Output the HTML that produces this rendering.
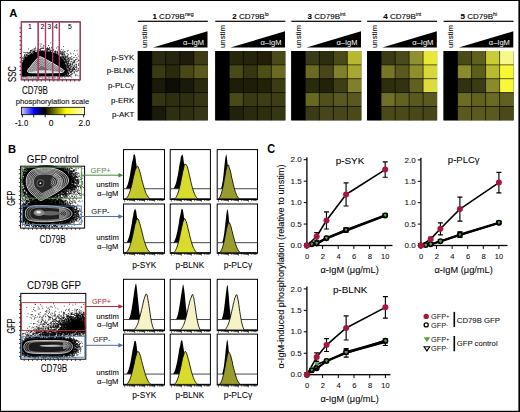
<!DOCTYPE html>
<html><head><meta charset="utf-8"><style>
html,body{margin:0;padding:0;background:#fff;}
body{width:520px;height:412px;overflow:hidden;}
svg{display:block;font-family:"Liberation Sans", sans-serif;}
</style></head><body>
<svg width="520" height="412" viewBox="0 0 520 412">
<rect x="0" y="0" width="520" height="1" fill="#000"/>
<rect x="0" y="0" width="1" height="412" fill="#000"/>
<rect x="518.4" y="0" width="1.6" height="412" fill="#000"/>
<rect x="0" y="410.8" width="520" height="1.2" fill="#000"/>
<text x="9.2" y="16.9" font-size="11.2" font-weight="bold" fill="#000">A</text>
<rect x="137.8" y="51.0" width="70.0" height="69.30" fill="#000"/>
<rect x="137.80" y="51.00" width="14.05" height="13.91" fill="#000"/>
<rect x="151.80" y="51.00" width="14.05" height="13.91" fill="#2a2a10"/>
<rect x="165.80" y="51.00" width="14.05" height="13.91" fill="#262610"/>
<rect x="179.80" y="51.00" width="14.05" height="13.91" fill="#1e1c0c"/>
<rect x="193.80" y="51.00" width="14.05" height="13.91" fill="#3e3c14"/>
<rect x="137.80" y="64.86" width="14.05" height="13.91" fill="#000"/>
<rect x="151.80" y="64.86" width="14.05" height="13.91" fill="#3a3a12"/>
<rect x="165.80" y="64.86" width="14.05" height="13.91" fill="#2a2a0e"/>
<rect x="179.80" y="64.86" width="14.05" height="13.91" fill="#484818"/>
<rect x="193.80" y="64.86" width="14.05" height="13.91" fill="#5a5a1e"/>
<rect x="137.80" y="78.72" width="14.05" height="13.91" fill="#000"/>
<rect x="151.80" y="78.72" width="14.05" height="13.91" fill="#1a1a0a"/>
<rect x="165.80" y="78.72" width="14.05" height="13.91" fill="#0e0e06"/>
<rect x="179.80" y="78.72" width="14.05" height="13.91" fill="#1a1a0a"/>
<rect x="193.80" y="78.72" width="14.05" height="13.91" fill="#2a2a0e"/>
<rect x="137.80" y="92.58" width="14.05" height="13.91" fill="#000"/>
<rect x="151.80" y="92.58" width="14.05" height="13.91" fill="#353512"/>
<rect x="165.80" y="92.58" width="14.05" height="13.91" fill="#2e2e10"/>
<rect x="179.80" y="92.58" width="14.05" height="13.91" fill="#2e2e10"/>
<rect x="193.80" y="92.58" width="14.05" height="13.91" fill="#363614"/>
<rect x="137.80" y="106.44" width="14.05" height="13.91" fill="#000"/>
<rect x="151.80" y="106.44" width="14.05" height="13.91" fill="#1a1a0a"/>
<rect x="165.80" y="106.44" width="14.05" height="13.91" fill="#2e2e10"/>
<rect x="179.80" y="106.44" width="14.05" height="13.91" fill="#2e2e10"/>
<rect x="193.80" y="106.44" width="14.05" height="13.91" fill="#363614"/>
<line x1="151.80" y1="51.0" x2="151.80" y2="120.3" stroke="#000" stroke-opacity="0.7" stroke-width="0.8"/>
<line x1="165.80" y1="51.0" x2="165.80" y2="120.3" stroke="#000" stroke-opacity="0.7" stroke-width="0.8"/>
<line x1="179.80" y1="51.0" x2="179.80" y2="120.3" stroke="#000" stroke-opacity="0.7" stroke-width="0.8"/>
<line x1="193.80" y1="51.0" x2="193.80" y2="120.3" stroke="#000" stroke-opacity="0.7" stroke-width="0.8"/>
<line x1="137.8" y1="64.86" x2="207.8" y2="64.86" stroke="#000" stroke-opacity="0.7" stroke-width="0.8"/>
<line x1="137.8" y1="78.72" x2="207.8" y2="78.72" stroke="#000" stroke-opacity="0.7" stroke-width="0.8"/>
<line x1="137.8" y1="92.58" x2="207.8" y2="92.58" stroke="#000" stroke-opacity="0.7" stroke-width="0.8"/>
<line x1="137.8" y1="106.44" x2="207.8" y2="106.44" stroke="#000" stroke-opacity="0.7" stroke-width="0.8"/>
<rect x="137.8" y="20.7" width="70.0" height="1.2" fill="#000"/>
<text x="173.0" y="18.8" font-size="8" text-anchor="middle" stroke="#000" stroke-width="0.1"><tspan font-weight="bold">1</tspan> CD79B<tspan font-size="5.2" dy="-3.2">neg</tspan></text>
<text transform="translate(147.3,48.0) rotate(-90)" font-size="7.8" text-anchor="start" fill="#000" stroke="#000" stroke-width="0.08" textLength="23" lengthAdjust="spacingAndGlyphs">unstim</text>
<polygon points="153.0,47.5 207.5,31.3 207.5,47.5" fill="#000"/>
<text x="204.0" y="45" font-size="7.8" text-anchor="end" fill="#fff" textLength="21" lengthAdjust="spacingAndGlyphs">α–IgM</text>
<rect x="215.3" y="51.0" width="70.0" height="69.30" fill="#000"/>
<rect x="215.30" y="51.00" width="14.05" height="13.91" fill="#000"/>
<rect x="229.30" y="51.00" width="14.05" height="13.91" fill="#262608"/>
<rect x="243.30" y="51.00" width="14.05" height="13.91" fill="#24240a"/>
<rect x="257.30" y="51.00" width="14.05" height="13.91" fill="#221e08"/>
<rect x="271.30" y="51.00" width="14.05" height="13.91" fill="#4a4a18"/>
<rect x="215.30" y="64.86" width="14.05" height="13.91" fill="#000"/>
<rect x="229.30" y="64.86" width="14.05" height="13.91" fill="#4a4a16"/>
<rect x="243.30" y="64.86" width="14.05" height="13.91" fill="#363610"/>
<rect x="257.30" y="64.86" width="14.05" height="13.91" fill="#4e4e18"/>
<rect x="271.30" y="64.86" width="14.05" height="13.91" fill="#6a6a20"/>
<rect x="215.30" y="78.72" width="14.05" height="13.91" fill="#000"/>
<rect x="229.30" y="78.72" width="14.05" height="13.91" fill="#1e1e08"/>
<rect x="243.30" y="78.72" width="14.05" height="13.91" fill="#1e1e08"/>
<rect x="257.30" y="78.72" width="14.05" height="13.91" fill="#222208"/>
<rect x="271.30" y="78.72" width="14.05" height="13.91" fill="#3c3c12"/>
<rect x="215.30" y="92.58" width="14.05" height="13.91" fill="#000"/>
<rect x="229.30" y="92.58" width="14.05" height="13.91" fill="#4a4a16"/>
<rect x="243.30" y="92.58" width="14.05" height="13.91" fill="#3a3a12"/>
<rect x="257.30" y="92.58" width="14.05" height="13.91" fill="#3e3e14"/>
<rect x="271.30" y="92.58" width="14.05" height="13.91" fill="#3e3e14"/>
<rect x="215.30" y="106.44" width="14.05" height="13.91" fill="#000"/>
<rect x="229.30" y="106.44" width="14.05" height="13.91" fill="#222208"/>
<rect x="243.30" y="106.44" width="14.05" height="13.91" fill="#2a2a0c"/>
<rect x="257.30" y="106.44" width="14.05" height="13.91" fill="#2e2e0e"/>
<rect x="271.30" y="106.44" width="14.05" height="13.91" fill="#363612"/>
<line x1="229.30" y1="51.0" x2="229.30" y2="120.3" stroke="#000" stroke-opacity="0.7" stroke-width="0.8"/>
<line x1="243.30" y1="51.0" x2="243.30" y2="120.3" stroke="#000" stroke-opacity="0.7" stroke-width="0.8"/>
<line x1="257.30" y1="51.0" x2="257.30" y2="120.3" stroke="#000" stroke-opacity="0.7" stroke-width="0.8"/>
<line x1="271.30" y1="51.0" x2="271.30" y2="120.3" stroke="#000" stroke-opacity="0.7" stroke-width="0.8"/>
<line x1="215.3" y1="64.86" x2="285.3" y2="64.86" stroke="#000" stroke-opacity="0.7" stroke-width="0.8"/>
<line x1="215.3" y1="78.72" x2="285.3" y2="78.72" stroke="#000" stroke-opacity="0.7" stroke-width="0.8"/>
<line x1="215.3" y1="92.58" x2="285.3" y2="92.58" stroke="#000" stroke-opacity="0.7" stroke-width="0.8"/>
<line x1="215.3" y1="106.44" x2="285.3" y2="106.44" stroke="#000" stroke-opacity="0.7" stroke-width="0.8"/>
<rect x="215.3" y="20.7" width="70.0" height="1.2" fill="#000"/>
<text x="250.5" y="18.8" font-size="8" text-anchor="middle" stroke="#000" stroke-width="0.1"><tspan font-weight="bold">2</tspan> CD79B<tspan font-size="5.2" dy="-3.2">lo</tspan></text>
<text transform="translate(224.8,48.0) rotate(-90)" font-size="7.8" text-anchor="start" fill="#000" stroke="#000" stroke-width="0.08" textLength="23" lengthAdjust="spacingAndGlyphs">unstim</text>
<polygon points="230.5,47.5 285.0,31.3 285.0,47.5" fill="#000"/>
<text x="281.5" y="45" font-size="7.8" text-anchor="end" fill="#fff" textLength="21" lengthAdjust="spacingAndGlyphs">α–IgM</text>
<rect x="291.3" y="51.0" width="70.0" height="69.30" fill="#000"/>
<rect x="291.30" y="51.00" width="14.05" height="13.91" fill="#000"/>
<rect x="305.30" y="51.00" width="14.05" height="13.91" fill="#3a3a14"/>
<rect x="319.30" y="51.00" width="14.05" height="13.91" fill="#2e2e0e"/>
<rect x="333.30" y="51.00" width="14.05" height="13.91" fill="#4a4a18"/>
<rect x="347.30" y="51.00" width="14.05" height="13.91" fill="#b8b830"/>
<rect x="291.30" y="64.86" width="14.05" height="13.91" fill="#000"/>
<rect x="305.30" y="64.86" width="14.05" height="13.91" fill="#6a6a22"/>
<rect x="319.30" y="64.86" width="14.05" height="13.91" fill="#46461a"/>
<rect x="333.30" y="64.86" width="14.05" height="13.91" fill="#80802a"/>
<rect x="347.30" y="64.86" width="14.05" height="13.91" fill="#a8a830"/>
<rect x="291.30" y="78.72" width="14.05" height="13.91" fill="#000"/>
<rect x="305.30" y="78.72" width="14.05" height="13.91" fill="#2a2a0c"/>
<rect x="319.30" y="78.72" width="14.05" height="13.91" fill="#222208"/>
<rect x="333.30" y="78.72" width="14.05" height="13.91" fill="#3e3e14"/>
<rect x="347.30" y="78.72" width="14.05" height="13.91" fill="#80802a"/>
<rect x="291.30" y="92.58" width="14.05" height="13.91" fill="#000"/>
<rect x="305.30" y="92.58" width="14.05" height="13.91" fill="#68681e"/>
<rect x="319.30" y="92.58" width="14.05" height="13.91" fill="#50501a"/>
<rect x="333.30" y="92.58" width="14.05" height="13.91" fill="#585820"/>
<rect x="347.30" y="92.58" width="14.05" height="13.91" fill="#585820"/>
<rect x="291.30" y="106.44" width="14.05" height="13.91" fill="#000"/>
<rect x="305.30" y="106.44" width="14.05" height="13.91" fill="#3a3a14"/>
<rect x="319.30" y="106.44" width="14.05" height="13.91" fill="#46461a"/>
<rect x="333.30" y="106.44" width="14.05" height="13.91" fill="#46461a"/>
<rect x="347.30" y="106.44" width="14.05" height="13.91" fill="#4a4a18"/>
<line x1="305.30" y1="51.0" x2="305.30" y2="120.3" stroke="#000" stroke-opacity="0.7" stroke-width="0.8"/>
<line x1="319.30" y1="51.0" x2="319.30" y2="120.3" stroke="#000" stroke-opacity="0.7" stroke-width="0.8"/>
<line x1="333.30" y1="51.0" x2="333.30" y2="120.3" stroke="#000" stroke-opacity="0.7" stroke-width="0.8"/>
<line x1="347.30" y1="51.0" x2="347.30" y2="120.3" stroke="#000" stroke-opacity="0.7" stroke-width="0.8"/>
<line x1="291.3" y1="64.86" x2="361.3" y2="64.86" stroke="#000" stroke-opacity="0.7" stroke-width="0.8"/>
<line x1="291.3" y1="78.72" x2="361.3" y2="78.72" stroke="#000" stroke-opacity="0.7" stroke-width="0.8"/>
<line x1="291.3" y1="92.58" x2="361.3" y2="92.58" stroke="#000" stroke-opacity="0.7" stroke-width="0.8"/>
<line x1="291.3" y1="106.44" x2="361.3" y2="106.44" stroke="#000" stroke-opacity="0.7" stroke-width="0.8"/>
<rect x="291.3" y="20.7" width="70.0" height="1.2" fill="#000"/>
<text x="326.5" y="18.8" font-size="8" text-anchor="middle" stroke="#000" stroke-width="0.1"><tspan font-weight="bold">3</tspan> CD79B<tspan font-size="5.2" dy="-3.2">int</tspan></text>
<text transform="translate(300.8,48.0) rotate(-90)" font-size="7.8" text-anchor="start" fill="#000" stroke="#000" stroke-width="0.08" textLength="23" lengthAdjust="spacingAndGlyphs">unstim</text>
<polygon points="306.5,47.5 361.0,31.3 361.0,47.5" fill="#000"/>
<text x="357.5" y="45" font-size="7.8" text-anchor="end" fill="#fff" textLength="21" lengthAdjust="spacingAndGlyphs">α–IgM</text>
<rect x="367.1" y="51.0" width="70.0" height="69.30" fill="#000"/>
<rect x="367.10" y="51.00" width="14.05" height="13.91" fill="#000"/>
<rect x="381.10" y="51.00" width="14.05" height="13.91" fill="#3a3a14"/>
<rect x="395.10" y="51.00" width="14.05" height="13.91" fill="#4a4a1a"/>
<rect x="409.10" y="51.00" width="14.05" height="13.91" fill="#909030"/>
<rect x="423.10" y="51.00" width="14.05" height="13.91" fill="#e8e838"/>
<rect x="367.10" y="64.86" width="14.05" height="13.91" fill="#000"/>
<rect x="381.10" y="64.86" width="14.05" height="13.91" fill="#767628"/>
<rect x="395.10" y="64.86" width="14.05" height="13.91" fill="#5a5a1e"/>
<rect x="409.10" y="64.86" width="14.05" height="13.91" fill="#8e8e2e"/>
<rect x="423.10" y="64.86" width="14.05" height="13.91" fill="#d8d838"/>
<rect x="367.10" y="78.72" width="14.05" height="13.91" fill="#000"/>
<rect x="381.10" y="78.72" width="14.05" height="13.91" fill="#2e2e0e"/>
<rect x="395.10" y="78.72" width="14.05" height="13.91" fill="#323210"/>
<rect x="409.10" y="78.72" width="14.05" height="13.91" fill="#606020"/>
<rect x="423.10" y="78.72" width="14.05" height="13.91" fill="#dcdc3c"/>
<rect x="367.10" y="92.58" width="14.05" height="13.91" fill="#000"/>
<rect x="381.10" y="92.58" width="14.05" height="13.91" fill="#70702a"/>
<rect x="395.10" y="92.58" width="14.05" height="13.91" fill="#62621f"/>
<rect x="409.10" y="92.58" width="14.05" height="13.91" fill="#5a5a1e"/>
<rect x="423.10" y="92.58" width="14.05" height="13.91" fill="#5a5a1e"/>
<rect x="367.10" y="106.44" width="14.05" height="13.91" fill="#000"/>
<rect x="381.10" y="106.44" width="14.05" height="13.91" fill="#4a4a18"/>
<rect x="395.10" y="106.44" width="14.05" height="13.91" fill="#4a4a18"/>
<rect x="409.10" y="106.44" width="14.05" height="13.91" fill="#484818"/>
<rect x="423.10" y="106.44" width="14.05" height="13.91" fill="#46461a"/>
<line x1="381.10" y1="51.0" x2="381.10" y2="120.3" stroke="#000" stroke-opacity="0.7" stroke-width="0.8"/>
<line x1="395.10" y1="51.0" x2="395.10" y2="120.3" stroke="#000" stroke-opacity="0.7" stroke-width="0.8"/>
<line x1="409.10" y1="51.0" x2="409.10" y2="120.3" stroke="#000" stroke-opacity="0.7" stroke-width="0.8"/>
<line x1="423.10" y1="51.0" x2="423.10" y2="120.3" stroke="#000" stroke-opacity="0.7" stroke-width="0.8"/>
<line x1="367.1" y1="64.86" x2="437.1" y2="64.86" stroke="#000" stroke-opacity="0.7" stroke-width="0.8"/>
<line x1="367.1" y1="78.72" x2="437.1" y2="78.72" stroke="#000" stroke-opacity="0.7" stroke-width="0.8"/>
<line x1="367.1" y1="92.58" x2="437.1" y2="92.58" stroke="#000" stroke-opacity="0.7" stroke-width="0.8"/>
<line x1="367.1" y1="106.44" x2="437.1" y2="106.44" stroke="#000" stroke-opacity="0.7" stroke-width="0.8"/>
<rect x="367.1" y="20.7" width="70.0" height="1.2" fill="#000"/>
<text x="402.3" y="18.8" font-size="8" text-anchor="middle" stroke="#000" stroke-width="0.1"><tspan font-weight="bold">4</tspan> CD79B<tspan font-size="5.2" dy="-3.2">int</tspan></text>
<text transform="translate(376.6,48.0) rotate(-90)" font-size="7.8" text-anchor="start" fill="#000" stroke="#000" stroke-width="0.08" textLength="23" lengthAdjust="spacingAndGlyphs">unstim</text>
<polygon points="382.3,47.5 436.8,31.3 436.8,47.5" fill="#000"/>
<text x="433.3" y="45" font-size="7.8" text-anchor="end" fill="#fff" textLength="21" lengthAdjust="spacingAndGlyphs">α–IgM</text>
<rect x="443.6" y="51.0" width="70.0" height="69.30" fill="#000"/>
<rect x="443.60" y="51.00" width="14.05" height="13.91" fill="#000"/>
<rect x="457.60" y="51.00" width="14.05" height="13.91" fill="#4a4a18"/>
<rect x="471.60" y="51.00" width="14.05" height="13.91" fill="#60601e"/>
<rect x="485.60" y="51.00" width="14.05" height="13.91" fill="#cacc34"/>
<rect x="499.60" y="51.00" width="14.05" height="13.91" fill="#f8f88a"/>
<rect x="443.60" y="64.86" width="14.05" height="13.91" fill="#000"/>
<rect x="457.60" y="64.86" width="14.05" height="13.91" fill="#8a8a2a"/>
<rect x="471.60" y="64.86" width="14.05" height="13.91" fill="#5e5e1c"/>
<rect x="485.60" y="64.86" width="14.05" height="13.91" fill="#b8ba30"/>
<rect x="499.60" y="64.86" width="14.05" height="13.91" fill="#f8f832"/>
<rect x="443.60" y="78.72" width="14.05" height="13.91" fill="#000"/>
<rect x="457.60" y="78.72" width="14.05" height="13.91" fill="#323210"/>
<rect x="471.60" y="78.72" width="14.05" height="13.91" fill="#3a3a14"/>
<rect x="485.60" y="78.72" width="14.05" height="13.91" fill="#8a8a2c"/>
<rect x="499.60" y="78.72" width="14.05" height="13.91" fill="#f8f838"/>
<rect x="443.60" y="92.58" width="14.05" height="13.91" fill="#000"/>
<rect x="457.60" y="92.58" width="14.05" height="13.91" fill="#6c6c22"/>
<rect x="471.60" y="92.58" width="14.05" height="13.91" fill="#62621f"/>
<rect x="485.60" y="92.58" width="14.05" height="13.91" fill="#6a6a22"/>
<rect x="499.60" y="92.58" width="14.05" height="13.91" fill="#606020"/>
<rect x="443.60" y="106.44" width="14.05" height="13.91" fill="#000"/>
<rect x="457.60" y="106.44" width="14.05" height="13.91" fill="#5a5a1e"/>
<rect x="471.60" y="106.44" width="14.05" height="13.91" fill="#5a5a1e"/>
<rect x="485.60" y="106.44" width="14.05" height="13.91" fill="#5a5a1e"/>
<rect x="499.60" y="106.44" width="14.05" height="13.91" fill="#4a4a18"/>
<line x1="457.60" y1="51.0" x2="457.60" y2="120.3" stroke="#000" stroke-opacity="0.7" stroke-width="0.8"/>
<line x1="471.60" y1="51.0" x2="471.60" y2="120.3" stroke="#000" stroke-opacity="0.7" stroke-width="0.8"/>
<line x1="485.60" y1="51.0" x2="485.60" y2="120.3" stroke="#000" stroke-opacity="0.7" stroke-width="0.8"/>
<line x1="499.60" y1="51.0" x2="499.60" y2="120.3" stroke="#000" stroke-opacity="0.7" stroke-width="0.8"/>
<line x1="443.6" y1="64.86" x2="513.6" y2="64.86" stroke="#000" stroke-opacity="0.7" stroke-width="0.8"/>
<line x1="443.6" y1="78.72" x2="513.6" y2="78.72" stroke="#000" stroke-opacity="0.7" stroke-width="0.8"/>
<line x1="443.6" y1="92.58" x2="513.6" y2="92.58" stroke="#000" stroke-opacity="0.7" stroke-width="0.8"/>
<line x1="443.6" y1="106.44" x2="513.6" y2="106.44" stroke="#000" stroke-opacity="0.7" stroke-width="0.8"/>
<rect x="443.6" y="20.7" width="70.0" height="1.2" fill="#000"/>
<text x="478.8" y="18.8" font-size="8" text-anchor="middle" stroke="#000" stroke-width="0.1"><tspan font-weight="bold">5</tspan> CD79B<tspan font-size="5.2" dy="-3.2">hi</tspan></text>
<text transform="translate(453.1,48.0) rotate(-90)" font-size="7.8" text-anchor="start" fill="#000" stroke="#000" stroke-width="0.08" textLength="23" lengthAdjust="spacingAndGlyphs">unstim</text>
<polygon points="458.8,47.5 513.3000000000001,31.3 513.3000000000001,47.5" fill="#000"/>
<text x="509.8" y="45" font-size="7.8" text-anchor="end" fill="#fff" textLength="21" lengthAdjust="spacingAndGlyphs">α–IgM</text>
<text x="134.3" y="59.6" font-size="7.9" text-anchor="end" fill="#000" stroke="#000" stroke-width="0.08">p-SYK</text>
<text x="134.3" y="73.4" font-size="7.9" text-anchor="end" fill="#000" stroke="#000" stroke-width="0.08">p-BLNK</text>
<text x="134.3" y="88.0" font-size="7.9" text-anchor="end" fill="#000" stroke="#000" stroke-width="0.08">p-PLCγ</text>
<text x="134.3" y="103.0" font-size="7.9" text-anchor="end" fill="#000" stroke="#000" stroke-width="0.08">p-ERK</text>
<text x="134.3" y="116.6" font-size="7.9" text-anchor="end" fill="#000" stroke="#000" stroke-width="0.08">p-AKT</text>
<path d="M69.7 69.5h.8M69.9 64.5h.8M66.3 65.1h.8M76.6 68.9h.8M76.2 67.9h.8M73.0 67.5h.8M62.7 71.5h.8M73.5 69.4h.8M62.5 55.9h.8M66.6 63.6h.8M72.5 66.1h.8M73.6 62.5h.8M72.5 68.8h.8M67.7 76.7h.8M73.8 73.6h.8M67.9 62.0h.8M69.3 65.8h.8M74.2 67.9h.8M68.8 60.7h.8M68.4 73.7h.8M67.0 67.9h.8M73.1 57.5h.8M71.2 74.2h.8M60.9 64.5h.8M70.5 61.5h.8M73.5 66.0h.8M63.7 71.4h.8M74.3 72.1h.8M78.2 68.6h.8M71.6 58.6h.8M74.1 62.7h.8M68.7 58.8h.8M66.2 63.2h.8M77.4 54.2h.8M63.7 67.8h.8M78.2 69.9h.8M61.5 51.3h.8M72.8 62.0h.8M65.4 72.3h.8M76.5 67.3h.8M72.2 69.0h.8M73.6 69.7h.8M63.2 74.1h.8M75.8 69.6h.8M61.1 62.6h.8M75.2 55.5h.8M70.1 72.5h.8M64.4 76.1h.8M73.8 65.5h.8M72.6 70.3h.8M71.6 73.3h.8M67.7 63.9h.8M76.2 66.6h.8M66.6 72.1h.8M78.3 63.7h.8M64.1 65.6h.8M70.3 64.6h.8M78.0 60.2h.8M77.3 58.8h.8M67.1 70.2h.8M76.6 71.6h.8M72.7 67.3h.8M71.8 69.9h.8M70.1 68.1h.8M73.9 66.4h.8M74.8 69.8h.8M68.9 64.2h.8M70.9 71.9h.8M69.3 68.7h.8M65.4 67.9h.8M73.0 67.8h.8M68.8 70.3h.8M72.4 63.3h.8M68.2 65.8h.8M69.9 66.0h.8M57.4 63.5h.8M76.0 59.4h.8M70.7 72.1h.8M75.3 75.3h.8M62.5 64.3h.8M69.3 70.1h.8M76.5 50.3h.8M76.4 57.7h.8M74.4 57.4h.8M71.9 73.6h.8M70.3 67.5h.8M75.0 67.2h.8M70.6 75.6h.8M76.2 64.6h.8M75.6 64.8h.8M71.7 70.6h.8M72.1 70.2h.8M63.4 57.3h.8M74.1 60.6h.8M65.9 57.6h.8M77.3 70.9h.8M78.4 60.8h.8M71.0 59.6h.8M74.8 75.9h.8M66.5 75.8h.8M75.9 65.3h.8M61.1 74.8h.8M70.5 62.8h.8M73.0 68.9h.8M78.5 60.3h.8M76.7 75.3h.8M78.3 65.3h.8M67.3 72.5h.8M71.6 67.1h.8M78.1 64.8h.8M59.5 64.1h.8M61.7 71.3h.8M72.6 62.7h.8M71.0 71.4h.8M71.4 74.4h.8M70.7 72.6h.8M78.5 76.1h.8M67.6 71.7h.8M61.6 59.9h.8M61.2 72.8h.8M64.8 66.3h.8M70.0 66.2h.8M68.0 67.8h.8M73.7 72.4h.8M70.0 58.8h.8M68.2 72.8h.8M62.8 62.8h.8M76.0 71.2h.8M71.0 71.2h.8M71.8 59.3h.8M63.2 62.6h.8M75.6 63.0h.8M66.5 61.8h.8M63.3 65.7h.8M65.1 68.6h.8M59.2 68.4h.8M67.8 54.7h.8M74.6 64.7h.8M59.8 61.1h.8M72.5 63.6h.8M74.9 70.9h.8M74.3 68.4h.8M77.7 70.4h.8M73.3 53.9h.8M75.5 74.3h.8M69.5 63.6h.8M66.4 70.5h.8M73.8 71.8h.8M66.5 65.9h.8M72.5 71.4h.8M70.8 65.2h.8M65.9 64.2h.8M75.5 67.0h.8M66.7 61.4h.8M74.2 50.8h.8M74.1 69.3h.8M70.7 69.5h.8M61.3 72.6h.8M72.6 62.2h.8M72.0 64.6h.8M55.6 54.7h.8M65.7 58.1h.8M61.6 53.5h.8M76.7 61.5h.8M56.8 52.0h.8M74.2 61.4h.8M74.9 60.6h.8M58.8 58.4h.8M51.0 54.4h.8M63.6 59.5h.8M59.6 56.9h.8M66.8 58.9h.8M67.8 58.2h.8M62.1 60.6h.8M64.3 54.1h.8M60.2 57.4h.8M63.3 58.0h.8M64.0 58.1h.8M63.2 52.4h.8M66.5 61.6h.8M66.6 56.6h.8M66.7 53.5h.8M52.6 57.6h.8M58.4 60.4h.8M57.5 46.9h.8M57.8 63.7h.8M61.7 51.9h.8M59.4 59.5h.8M67.0 58.1h.8M72.9 60.2h.8M63.9 59.8h.8M73.9 61.3h.8M70.1 53.1h.8M63.1 60.3h.8M62.2 61.7h.8M67.6 61.0h.8M62.7 67.6h.8M71.4 56.5h.8M64.5 67.8h.8M61.9 60.9h.8M69.9 57.4h.8M57.0 58.2h.8M66.2 61.9h.8M68.7 57.5h.8M69.1 59.6h.8M65.2 57.6h.8M62.5 60.1h.8M57.7 54.9h.8M64.0 51.5h.8M61.4 49.4h.8M59.9 59.7h.8M67.4 57.2h.8M62.6 51.7h.8M75.0 59.5h.8M70.6 53.9h.8M62.9 50.1h.8M68.7 61.1h.8M52.6 57.2h.8M67.8 50.4h.8M53.0 53.1h.8M60.2 51.8h.8M64.2 58.4h.8M67.8 60.2h.8M73.0 62.1h.8M56.1 55.4h.8M57.6 53.1h.8M63.5 57.4h.8M66.9 51.1h.8M56.6 57.3h.8M62.8 56.2h.8M63.6 54.4h.8M68.2 58.8h.8M63.5 54.7h.8M63.0 46.5h.8M58.1 57.5h.8M55.0 58.2h.8M64.9 51.9h.8M62.5 56.1h.8M66.8 59.8h.8M63.8 54.0h.8M63.1 57.1h.8M68.4 58.6h.8M59.7 52.0h.8M61.8 54.4h.8M57.3 56.9h.8M61.1 57.8h.8M67.1 55.7h.8M77.9 56.1h.8M70.6 57.9h.8M36.7 48.9h.8M25.5 59.4h.8M33.6 67.7h.8M31.9 63.5h.8M34.6 62.2h.8M33.1 57.8h.8M33.1 54.1h.8M37.1 54.3h.8M31.5 66.9h.8M28.7 58.5h.8M37.0 58.5h.8M25.2 59.4h.8M33.5 61.2h.8M25.4 65.4h.8M40.0 58.5h.8M31.6 56.7h.8M38.5 55.6h.8M34.0 56.5h.8M25.8 61.3h.8M38.0 58.4h.8M25.9 61.6h.8M29.7 59.6h.8M39.1 62.9h.8M26.9 67.5h.8M30.0 61.5h.8M26.1 58.2h.8M38.2 53.5h.8M37.1 56.6h.8M29.6 57.1h.8M29.3 54.0h.8M30.1 52.6h.8M29.6 59.6h.8M32.8 57.5h.8M24.6 59.0h.8M27.1 64.7h.8M34.6 57.9h.8M27.2 55.6h.8M24.4 57.0h.8M31.8 60.5h.8M33.4 66.8h.8M25.8 58.5h.8M46.8 50.9h.8M26.9 59.1h.8M30.9 60.0h.8M28.6 59.9h.8M30.3 61.5h.8M30.0 54.3h.8M23.7 60.9h.8M26.1 60.9h.8M34.5 59.6h.8M33.0 58.0h.8M32.7 56.3h.8M29.4 61.4h.8M24.7 61.0h.8M41.2 56.2h.8M30.9 57.8h.8" fill="none" stroke="#000" stroke-width="0.8"/>
<path d="M22.9 58.3h.8M27.6 77.3h.8M69.9 64.8h.8M30.3 51.0h.8M33.6 50.8h.8M31.0 53.3h.8M39.7 44.0h.8M64.4 55.3h.8M25.7 77.9h.8M61.5 76.9h.8M63.8 77.5h.8M55.2 53.2h.8M46.0 77.6h.8M41.1 44.1h.8M31.1 55.0h.8M27.5 56.6h.8M63.8 76.5h.8M24.2 77.5h.8M24.1 55.1h.8M50.0 52.2h.8M24.5 55.9h.8M46.9 49.6h.8M59.8 58.1h.8M26.6 54.4h.8M44.9 77.3h.8M25.4 77.5h.8M37.9 49.9h.8M62.3 56.9h.8M51.7 51.4h.8M27.9 55.8h.8M42.6 77.2h.8M48.6 49.8h.8M28.7 55.9h.8M65.4 66.6h.8M34.5 78.7h.8M63.0 58.6h.8M31.4 50.6h.8M41.7 77.1h.8M26.8 54.1h.8M21.9 57.6h.8M44.5 77.7h.8M21.9 72.7h.8M74.1 68.6h.8M37.1 78.8h.8M30.8 54.0h.8M68.8 70.6h.8M28.3 53.3h.8M54.6 53.4h.8M66.6 67.2h.8M27.9 52.7h.8M55.5 53.7h.8M24.7 57.5h.8M66.3 75.3h.8M65.1 59.6h.8M65.2 60.2h.8M25.8 77.3h.8M52.7 50.4h.8M29.9 52.5h.8M33.7 50.9h.8M67.6 73.6h.8M64.1 76.8h.8M61.5 56.4h.8M57.5 54.8h.8M69.9 76.3h.8M45.1 78.6h.8M66.9 56.5h.8M30.8 54.9h.8M27.8 57.7h.8M61.8 77.3h.8M65.6 61.9h.8M48.5 77.2h.8M50.9 78.1h.8M42.1 51.3h.8M57.0 52.1h.8M23.9 61.1h.8M47.8 52.3h.8M29.5 52.1h.8M64.6 56.4h.8M33.9 51.8h.8M60.7 52.6h.8M34.2 51.7h.8M34.1 53.4h.8M67.3 71.9h.8M45.1 77.9h.8M35.0 76.5h.8M59.2 55.4h.8M31.5 51.9h.8M70.8 64.1h.8M66.0 75.5h.8M35.1 78.5h.8M24.6 78.5h.8M36.3 78.3h.8M60.3 76.6h.8M61.2 56.0h.8M56.8 78.2h.8M30.0 54.7h.8M22.3 74.7h.8M46.3 52.3h.8M66.5 74.1h.8M31.3 77.7h.8M66.7 75.2h.8M43.0 51.0h.8M58.0 78.6h.8M53.5 53.5h.8M45.7 51.1h.8M60.9 58.9h.8M25.8 55.5h.8M27.1 78.2h.8M59.6 77.5h.8M47.7 76.7h.8M68.1 73.4h.8M31.0 54.4h.8M36.1 77.6h.8M63.8 62.5h.8M44.5 50.5h.8M62.6 75.2h.8M68.8 68.7h.8M36.2 76.7h.8M34.3 51.9h.8M27.6 55.0h.8M28.1 55.5h.8M62.6 78.6h.8M66.4 71.8h.8M30.8 78.8h.8M30.4 50.6h.8M49.1 78.0h.8M60.9 54.2h.8M32.1 49.9h.8M70.1 74.4h.8M64.6 75.5h.8M62.5 58.0h.8M49.3 77.0h.8M69.0 75.7h.8M54.7 51.6h.8M47.9 49.8h.8M54.2 54.1h.8M47.5 51.6h.8M71.0 61.4h.8M52.2 52.8h.8M69.8 76.3h.8M30.4 51.6h.8M70.1 63.3h.8M34.6 48.8h.8M55.7 54.1h.8M32.8 51.9h.8M56.8 51.4h.8M32.9 77.5h.8M63.9 76.2h.8M49.7 78.6h.8M32.9 77.8h.8M48.9 78.0h.8M47.7 77.6h.8M66.6 65.8h.8M65.0 57.2h.8M40.5 77.3h.8M63.4 75.5h.8M22.6 77.3h.8M37.3 78.9h.8M64.2 61.5h.8M67.3 64.7h.8M44.9 50.0h.8M35.2 77.5h.8M28.9 55.8h.8M63.5 75.9h.8M68.2 73.7h.8M62.4 76.2h.8M40.7 48.5h.8M29.3 78.0h.8M60.4 53.5h.8M73.4 69.7h.8M24.5 59.0h.8M25.9 78.1h.8M25.5 54.2h.8M57.6 78.4h.8M32.8 49.1h.8M64.4 75.5h.8M41.7 51.7h.8M57.1 54.7h.8M66.9 76.0h.8M50.1 51.5h.8M40.3 48.9h.8M58.5 76.2h.8M56.8 52.5h.8M32.1 78.6h.8M22.4 75.8h.8M47.0 48.9h.8M53.9 78.1h.8M67.5 71.9h.8M53.7 77.8h.8M32.2 78.7h.8M61.8 56.9h.8M59.2 78.4h.8M53.7 53.8h.8M51.0 50.4h.8M49.2 78.5h.8M59.5 50.1h.8M27.3 56.9h.8M67.7 66.6h.8M25.6 77.1h.8M62.1 53.3h.8M21.9 72.8h.8M57.4 76.3h.8M39.3 49.4h.8M24.4 57.2h.8M65.1 78.7h.8M30.4 78.6h.8M37.2 77.6h.8M30.8 76.4h.8M61.4 53.1h.8M23.7 60.1h.8M57.9 78.1h.8M55.2 52.5h.8M41.5 77.2h.8M34.9 78.1h.8M38.0 49.3h.8M50.4 42.8h.8M39.4 51.1h.8M45.7 51.3h.8M41.8 77.4h.8M29.4 52.7h.8M26.1 56.8h.8M38.0 50.9h.8M71.6 69.0h.8M45.6 49.0h.8M67.6 54.9h.8M36.8 52.6h.8M49.6 50.9h.8M63.5 61.8h.8M57.8 78.6h.8M64.6 62.7h.8M26.1 77.4h.8M44.4 78.2h.8M58.8 76.4h.8M66.2 60.9h.8M37.6 77.5h.8M64.8 59.0h.8M55.2 51.3h.8M67.6 67.1h.8M42.4 78.4h.8M65.7 62.3h.8M49.9 77.6h.8M22.3 76.6h.8M44.3 75.9h.8M29.3 77.9h.8M68.5 75.8h.8M64.6 59.5h.8M23.3 76.6h.8M66.6 75.5h.8M27.9 78.4h.8M70.6 59.4h.8M67.4 77.0h.8M25.3 77.1h.8M24.0 59.4h.8M39.7 49.8h.8M67.1 63.5h.8M67.1 67.0h.8M68.1 63.6h.8M42.4 50.8h.8M67.4 69.1h.8M39.4 76.6h.8M23.1 77.9h.8M50.5 52.8h.8M22.8 63.5h.8M44.7 50.9h.8M68.5 72.3h.8M53.6 76.6h.8M65.5 56.9h.8M35.4 78.3h.8M61.8 52.7h.8M68.3 65.4h.8M47.9 78.4h.8M41.5 51.4h.8M72.6 68.1h.8M55.8 54.8h.8M64.3 58.4h.8M68.4 61.9h.8M51.1 53.1h.8M47.1 47.7h.8M49.1 52.7h.8M70.6 66.8h.8M66.9 73.7h.8M65.0 61.8h.8M55.5 54.1h.8M65.3 60.3h.8M69.3 73.1h.8M68.5 75.9h.8M62.1 78.1h.8M68.9 65.6h.8M68.2 61.6h.8M24.6 58.2h.8M51.7 78.4h.8M37.2 51.9h.8M68.9 68.5h.8M33.5 76.6h.8M57.8 55.3h.8M45.0 78.8h.8M27.4 77.9h.8M57.0 77.6h.8M49.7 49.0h.8M53.8 52.3h.8M33.1 51.7h.8M31.1 50.2h.8M59.3 77.9h.8M50.4 51.4h.8M31.4 53.4h.8M59.3 76.6h.8M33.3 51.6h.8M36.4 78.2h.8M49.4 78.0h.8M67.9 67.2h.8M39.3 78.5h.8M21.8 69.3h.8M22.3 60.7h.8M23.6 60.8h.8M46.6 48.6h.8M59.7 76.4h.8M26.0 56.1h.8M54.3 77.4h.8M28.7 56.1h.8M71.1 66.5h.8M56.7 55.1h.8M49.1 77.1h.8M39.2 77.5h.8M22.9 61.4h.8M58.3 75.8h.8M67.2 75.6h.8M34.1 52.0h.8M46.8 50.9h.8M71.8 71.2h.8M38.8 50.9h.8M22.0 69.4h.8M48.6 53.5h.8M53.5 77.8h.8M23.1 76.7h.8M28.2 56.2h.8M34.1 51.7h.8M68.0 74.6h.8M24.3 57.4h.8M26.1 54.9h.8M49.4 50.1h.8M63.9 59.5h.8M70.7 68.9h.8M23.4 78.0h.8M59.0 55.0h.8M39.7 76.4h.8M37.5 49.8h.8M57.2 53.1h.8M33.1 76.9h.8M46.7 50.8h.8M43.4 45.4h.8M23.1 77.9h.8M68.5 67.0h.8M65.9 76.0h.8M27.7 55.6h.8M65.4 62.0h.8M38.5 77.5h.8M65.4 62.3h.8M67.6 67.9h.8M69.5 70.1h.8M36.9 77.7h.8M42.0 78.4h.8M58.8 50.4h.8M53.2 78.7h.8M61.1 76.3h.8M25.4 78.2h.8M70.2 71.7h.8M29.8 77.2h.8M25.1 52.8h.8M22.2 75.2h.8M26.0 55.2h.8M22.4 58.4h.8M60.5 78.7h.8M23.3 59.1h.8M53.0 49.5h.8M44.5 52.2h.8M68.5 69.1h.8M68.5 68.3h.8M23.6 77.1h.8M62.7 76.1h.8M64.8 66.8h.8M49.5 52.2h.8M55.3 51.0h.8M43.2 48.1h.8M32.0 52.7h.8M40.8 50.4h.8M41.4 48.5h.8M46.4 49.3h.8M48.4 77.6h.8M59.0 77.5h.8M23.4 52.4h.8M26.7 52.5h.8M68.3 76.8h.8M55.6 53.1h.8M44.9 47.9h.8M67.5 69.2h.8M70.1 71.2h.8M26.3 78.5h.8M62.0 54.8h.8M28.2 49.0h.8M28.1 56.7h.8M23.6 58.9h.8M61.8 54.7h.8M21.9 63.5h.8M56.2 48.0h.8M34.2 52.1h.8M32.9 52.5h.8M62.4 57.4h.8M59.9 52.9h.8M28.7 54.0h.8M24.4 52.4h.8M40.1 50.3h.8M33.3 77.7h.8M30.5 76.4h.8M22.7 77.9h.8M56.4 54.7h.8M37.2 77.5h.8M22.5 60.2h.8M54.5 77.9h.8M48.0 45.5h.8M25.2 76.9h.8M37.5 51.4h.8M63.2 60.6h.8M49.2 47.6h.8M67.9 62.6h.8M36.3 77.1h.8M22.4 78.3h.8M58.7 48.8h.8M30.8 77.8h.8M50.4 53.3h.8M61.5 77.3h.8M25.8 77.2h.8M66.0 73.6h.8M59.6 77.8h.8M42.6 48.3h.8M30.5 53.7h.8M56.5 77.9h.8M30.0 50.8h.8M65.3 61.8h.8M25.0 56.3h.8M50.4 50.5h.8M34.8 52.1h.8M61.1 57.5h.8M49.1 48.9h.8M50.1 51.4h.8M66.9 67.4h.8M57.1 77.2h.8M26.7 52.3h.8M58.2 76.7h.8M47.0 48.4h.8M30.3 78.2h.8M64.8 77.5h.8M53.7 77.6h.8M52.4 77.1h.8M63.8 52.5h.8M33.5 78.2h.8M64.6 59.9h.8M49.8 77.1h.8M44.3 78.2h.8M52.4 77.2h.8M65.5 56.3h.8M58.4 47.2h.8M34.6 50.0h.8M64.4 59.9h.8M27.4 53.0h.8M63.2 57.3h.8M47.6 78.6h.8M41.8 51.1h.8M67.6 66.6h.8M59.2 77.4h.8M60.5 54.2h.8M56.7 54.1h.8M72.0 64.8h.8M62.1 77.2h.8M64.1 77.6h.8M60.8 77.1h.8M41.5 78.0h.8M68.8 69.4h.8M43.4 46.3h.8M66.1 76.3h.8M46.5 50.8h.8M28.6 78.8h.8M68.3 63.4h.8M34.8 48.6h.8M46.0 48.5h.8M58.7 56.1h.8M26.4 57.6h.8M67.6 70.0h.8M65.4 76.2h.8M48.1 49.2h.8M27.2 78.6h.8M49.1 52.1h.8M29.0 55.0h.8M34.9 78.6h.8M61.8 58.0h.8M53.9 78.7h.8M66.9 70.7h.8M67.9 70.7h.8M67.1 72.6h.8M62.8 53.6h.8M27.4 78.4h.8M55.0 77.3h.8M46.5 50.7h.8M23.7 77.8h.8M65.1 56.0h.8M68.3 76.5h.8M40.4 77.0h.8M24.4 57.0h.8M55.1 77.7h.8M72.0 70.1h.8M39.9 46.0h.8M59.9 56.7h.8M58.3 78.9h.8M45.0 47.4h.8M62.3 58.6h.8M29.7 55.3h.8M66.9 72.9h.8M59.7 51.1h.8M22.5 62.5h.8M37.2 50.6h.8M29.5 52.6h.8M64.9 58.6h.8M22.6 78.0h.8M58.8 55.2h.8M67.4 64.4h.8M51.0 47.3h.8M65.6 74.3h.8M47.8 49.6h.8M64.0 77.2h.8M48.6 51.7h.8M68.7 65.5h.8M33.8 77.8h.8M24.5 60.1h.8M52.9 77.1h.8M52.1 76.2h.8M68.3 76.1h.8M51.6 48.4h.8M22.9 57.0h.8M47.5 76.5h.8M25.2 57.8h.8M42.0 48.1h.8M28.6 77.0h.8M35.3 52.4h.8M26.6 77.5h.8M40.5 77.7h.8M42.9 48.1h.8M62.5 76.2h.8M48.5 49.0h.8M34.1 49.0h.8M34.3 52.8h.8M52.1 78.0h.8M40.3 49.0h.8M66.4 74.1h.8M46.0 78.5h.8M65.9 59.8h.8M23.3 60.3h.8M38.7 77.7h.8M53.9 52.0h.8M42.6 78.6h.8M37.7 52.5h.8M23.1 77.3h.8M66.4 74.6h.8M43.1 77.9h.8M67.7 74.1h.8M47.6 78.8h.8M45.2 77.6h.8M63.5 59.8h.8M65.7 73.8h.8M68.9 70.7h.8M59.1 54.2h.8M27.4 56.2h.8M27.9 55.5h.8M58.7 77.7h.8M66.8 65.7h.8M22.0 69.9h.8M69.1 75.7h.8M25.5 58.0h.8M45.9 78.4h.8M47.7 78.1h.8M31.3 77.5h.8M30.6 55.9h.8M27.2 77.9h.8M51.9 47.7h.8M67.7 76.4h.8M32.8 77.2h.8M28.1 55.4h.8M65.8 76.1h.8M61.7 76.1h.8M63.9 56.2h.8M69.0 71.3h.8M52.1 51.7h.8M65.6 76.1h.8M32.5 51.3h.8M71.4 76.8h.8M24.6 58.0h.8M66.8 64.7h.8M66.8 65.2h.8M22.3 73.1h.8M61.8 54.4h.8M48.1 48.9h.8M61.3 77.7h.8M66.6 71.1h.8M54.5 78.6h.8M56.6 54.2h.8M58.5 78.0h.8M46.9 49.7h.8M67.4 76.4h.8M55.7 51.8h.8M33.9 78.5h.8M67.2 62.9h.8M66.1 62.8h.8M31.0 76.1h.8M21.9 66.0h.8M35.5 50.5h.8M24.1 54.9h.8M71.2 77.4h.8M67.3 70.8h.8M40.8 47.0h.8M69.9 69.0h.8M69.1 67.2h.8M56.8 78.1h.8M34.3 51.1h.8M46.9 78.8h.8M51.1 77.3h.8M48.7 49.1h.8M59.2 56.6h.8M25.1 57.1h.8M67.6 65.4h.8M21.8 63.1h.8M33.1 51.3h.8M36.7 51.0h.8M57.0 78.5h.8M64.2 77.0h.8M22.3 78.4h.8M64.7 61.0h.8M54.8 77.5h.8M64.9 76.6h.8M27.1 76.2h.8M24.0 55.3h.8M32.8 78.6h.8M23.8 61.0h.8M69.0 68.8h.8M28.0 77.8h.8M66.3 60.3h.8M31.3 54.2h.8M53.3 53.5h.8M66.8 72.3h.8M66.2 66.2h.8M25.7 77.8h.8M68.4 60.6h.8M25.1 57.3h.8M54.8 51.6h.8M35.2 47.2h.8M40.5 51.3h.8M57.8 49.8h.8M67.6 59.7h.8" fill="none" stroke="#000" stroke-width="0.8"/>
<path d="M22.00 76.50 C21.00 74.42 21.58 66.92 22.00 64.00 C22.42 61.08 23.33 60.42 24.50 59.00 C25.67 57.58 27.25 56.62 29.00 55.50 C30.75 54.38 33.00 53.05 35.00 52.30 C37.00 51.55 39.00 51.13 41.00 51.00 C43.00 50.87 44.83 51.17 47.00 51.50 C49.17 51.83 51.92 52.25 54.00 53.00 C56.08 53.75 57.92 54.83 59.50 56.00 C61.08 57.17 62.42 58.50 63.50 60.00 C64.58 61.50 65.42 63.25 66.00 65.00 C66.58 66.75 67.08 68.83 67.00 70.50 C66.92 72.17 66.67 74.00 65.50 75.00 C64.33 76.00 64.25 76.25 60.00 76.50 C55.75 76.75 45.33 76.50 40.00 76.50 C34.67 76.50 31.00 76.50 28.00 76.50 C25.00 76.50 23.00 78.58 22.00 76.50 Z" fill="#000"/>
<path d="M27.60 70.60 C27.85 69.60 29.35 68.02 30.50 66.50 C31.65 64.98 33.20 63.00 34.50 61.50 C35.80 60.00 37.35 58.28 38.30 57.50 C39.25 56.72 39.50 56.78 40.20 56.80 C40.90 56.82 41.28 57.02 42.50 57.60 C43.72 58.18 45.58 59.23 47.50 60.30 C49.42 61.37 51.92 62.75 54.00 64.00 C56.08 65.25 58.35 66.73 60.00 67.80 C61.65 68.87 63.48 69.67 63.90 70.40 C64.32 71.13 63.98 71.82 62.50 72.20 C61.02 72.58 57.92 72.60 55.00 72.70 C52.08 72.80 48.33 72.78 45.00 72.80 C41.67 72.82 37.67 72.85 35.00 72.80 C32.33 72.75 30.23 72.87 29.00 72.50 C27.77 72.13 27.35 71.60 27.60 70.60 Z" fill="#6e6e6e" stroke="#fff" stroke-width="1"/>
<path d="M27.60 70.60 C27.85 69.60 29.35 68.02 30.50 66.50 C31.65 64.98 33.20 63.00 34.50 61.50 C35.80 60.00 37.35 58.28 38.30 57.50 C39.25 56.72 39.50 56.78 40.20 56.80 C40.90 56.82 41.28 57.02 42.50 57.60 C43.72 58.18 45.58 59.23 47.50 60.30 C49.42 61.37 51.92 62.75 54.00 64.00 C56.08 65.25 58.35 66.73 60.00 67.80 C61.65 68.87 63.48 69.67 63.90 70.40 C64.32 71.13 63.98 71.82 62.50 72.20 C61.02 72.58 57.92 72.60 55.00 72.70 C52.08 72.80 48.33 72.78 45.00 72.80 C41.67 72.82 37.67 72.85 35.00 72.80 C32.33 72.75 30.23 72.87 29.00 72.50 C27.77 72.13 27.35 71.60 27.60 70.60 Z" transform="translate(5.46,9.04) scale(0.87)" fill="none" stroke="#f4f4f4" stroke-width="0.69"/>
<path d="M27.60 70.60 C27.85 69.60 29.35 68.02 30.50 66.50 C31.65 64.98 33.20 63.00 34.50 61.50 C35.80 60.00 37.35 58.28 38.30 57.50 C39.25 56.72 39.50 56.78 40.20 56.80 C40.90 56.82 41.28 57.02 42.50 57.60 C43.72 58.18 45.58 59.23 47.50 60.30 C49.42 61.37 51.92 62.75 54.00 64.00 C56.08 65.25 58.35 66.73 60.00 67.80 C61.65 68.87 63.48 69.67 63.90 70.40 C64.32 71.13 63.98 71.82 62.50 72.20 C61.02 72.58 57.92 72.60 55.00 72.70 C52.08 72.80 48.33 72.78 45.00 72.80 C41.67 72.82 37.67 72.85 35.00 72.80 C32.33 72.75 30.23 72.87 29.00 72.50 C27.77 72.13 27.35 71.60 27.60 70.60 Z" transform="translate(10.92,18.07) scale(0.74)" fill="none" stroke="#f4f4f4" stroke-width="0.81"/>
<path d="M27.60 70.60 C27.85 69.60 29.35 68.02 30.50 66.50 C31.65 64.98 33.20 63.00 34.50 61.50 C35.80 60.00 37.35 58.28 38.30 57.50 C39.25 56.72 39.50 56.78 40.20 56.80 C40.90 56.82 41.28 57.02 42.50 57.60 C43.72 58.18 45.58 59.23 47.50 60.30 C49.42 61.37 51.92 62.75 54.00 64.00 C56.08 65.25 58.35 66.73 60.00 67.80 C61.65 68.87 63.48 69.67 63.90 70.40 C64.32 71.13 63.98 71.82 62.50 72.20 C61.02 72.58 57.92 72.60 55.00 72.70 C52.08 72.80 48.33 72.78 45.00 72.80 C41.67 72.82 37.67 72.85 35.00 72.80 C32.33 72.75 30.23 72.87 29.00 72.50 C27.77 72.13 27.35 71.60 27.60 70.60 Z" transform="translate(16.38,27.11) scale(0.61)" fill="none" stroke="#f4f4f4" stroke-width="0.98"/>
<path d="M27.60 70.60 C27.85 69.60 29.35 68.02 30.50 66.50 C31.65 64.98 33.20 63.00 34.50 61.50 C35.80 60.00 37.35 58.28 38.30 57.50 C39.25 56.72 39.50 56.78 40.20 56.80 C40.90 56.82 41.28 57.02 42.50 57.60 C43.72 58.18 45.58 59.23 47.50 60.30 C49.42 61.37 51.92 62.75 54.00 64.00 C56.08 65.25 58.35 66.73 60.00 67.80 C61.65 68.87 63.48 69.67 63.90 70.40 C64.32 71.13 63.98 71.82 62.50 72.20 C61.02 72.58 57.92 72.60 55.00 72.70 C52.08 72.80 48.33 72.78 45.00 72.80 C41.67 72.82 37.67 72.85 35.00 72.80 C32.33 72.75 30.23 72.87 29.00 72.50 C27.77 72.13 27.35 71.60 27.60 70.60 Z" transform="translate(21.84,36.14) scale(0.48)" fill="none" stroke="#f4f4f4" stroke-width="1.25"/>
<path d="M27.60 70.60 C27.85 69.60 29.35 68.02 30.50 66.50 C31.65 64.98 33.20 63.00 34.50 61.50 C35.80 60.00 37.35 58.28 38.30 57.50 C39.25 56.72 39.50 56.78 40.20 56.80 C40.90 56.82 41.28 57.02 42.50 57.60 C43.72 58.18 45.58 59.23 47.50 60.30 C49.42 61.37 51.92 62.75 54.00 64.00 C56.08 65.25 58.35 66.73 60.00 67.80 C61.65 68.87 63.48 69.67 63.90 70.40 C64.32 71.13 63.98 71.82 62.50 72.20 C61.02 72.58 57.92 72.60 55.00 72.70 C52.08 72.80 48.33 72.78 45.00 72.80 C41.67 72.82 37.67 72.85 35.00 72.80 C32.33 72.75 30.23 72.87 29.00 72.50 C27.77 72.13 27.35 71.60 27.60 70.60 Z" transform="translate(27.30,45.18) scale(0.35)" fill="none" stroke="#f4f4f4" stroke-width="1.71"/>
<rect x="22" y="76.6" width="57.5" height="2.8" fill="#fff" fill-opacity="0.6"/>
<rect x="19.6" y="27.60" width="2" height="0.8" fill="#000"/>
<rect x="19.6" y="31.85" width="2" height="0.8" fill="#000"/>
<rect x="19.6" y="36.10" width="2" height="0.8" fill="#000"/>
<rect x="19.6" y="40.35" width="2" height="0.8" fill="#000"/>
<rect x="19.6" y="44.60" width="2" height="0.8" fill="#000"/>
<rect x="19.6" y="48.85" width="2" height="0.8" fill="#000"/>
<rect x="19.6" y="53.10" width="2" height="0.8" fill="#000"/>
<rect x="19.6" y="57.35" width="2" height="0.8" fill="#000"/>
<rect x="19.6" y="61.60" width="2" height="0.8" fill="#000"/>
<rect x="19.6" y="65.85" width="2" height="0.8" fill="#000"/>
<rect x="19.6" y="70.10" width="2" height="0.8" fill="#000"/>
<rect x="19.6" y="74.35" width="2" height="0.8" fill="#000"/>
<rect x="24.00" y="79.5" width="0.8" height="2" fill="#000"/>
<rect x="28.20" y="79.5" width="0.8" height="2" fill="#000"/>
<rect x="32.40" y="79.5" width="0.8" height="2" fill="#000"/>
<rect x="36.60" y="79.5" width="0.8" height="2" fill="#000"/>
<rect x="40.80" y="79.5" width="0.8" height="2" fill="#000"/>
<rect x="45.00" y="79.5" width="0.8" height="2" fill="#000"/>
<rect x="49.20" y="79.5" width="0.8" height="2" fill="#000"/>
<rect x="53.40" y="79.5" width="0.8" height="2" fill="#000"/>
<rect x="57.60" y="79.5" width="0.8" height="2" fill="#000"/>
<rect x="61.80" y="79.5" width="0.8" height="2" fill="#000"/>
<rect x="66.00" y="79.5" width="0.8" height="2" fill="#000"/>
<rect x="70.20" y="79.5" width="0.8" height="2" fill="#000"/>
<rect x="74.40" y="79.5" width="0.8" height="2" fill="#000"/>
<rect x="78.60" y="79.5" width="0.8" height="2" fill="#000"/>
<rect x="21.2" y="21.8" width="59" height="58" fill="none" stroke="#000" stroke-width="0.8"/>
<rect x="21.5" y="22" width="16.70" height="57.8" fill="none" stroke="#a83a6c" stroke-width="1.2"/>
<rect x="38.2" y="22" width="7.30" height="57.8" fill="none" stroke="#a83a6c" stroke-width="1.2"/>
<rect x="45.5" y="22" width="7.10" height="57.8" fill="none" stroke="#a83a6c" stroke-width="1.2"/>
<rect x="52.6" y="22" width="6.80" height="57.8" fill="none" stroke="#a83a6c" stroke-width="1.2"/>
<rect x="59.4" y="22" width="20.80" height="57.8" fill="none" stroke="#a83a6c" stroke-width="1.2"/>
<text x="30" y="28.8" font-size="6.8" text-anchor="middle" fill="#000" stroke="#000" stroke-width="0.05">1</text>
<text x="42.5" y="28.8" font-size="6.8" text-anchor="middle" fill="#000" stroke="#000" stroke-width="0.05">2</text>
<text x="49.05" y="28.8" font-size="6.8" text-anchor="middle" fill="#000" stroke="#000" stroke-width="0.05">3</text>
<text x="56.0" y="28.8" font-size="6.8" text-anchor="middle" fill="#000" stroke="#000" stroke-width="0.05">4</text>
<text x="69.8" y="28.8" font-size="6.8" text-anchor="middle" fill="#000" stroke="#000" stroke-width="0.05">5</text>
<text transform="translate(15.6,74) rotate(-90)" font-size="10.3" text-anchor="middle" fill="#000" stroke="#000" stroke-width="0.08" textLength="16" lengthAdjust="spacingAndGlyphs">SSC</text>
<text x="21.9" y="93.7" font-size="10.3" fill="#000" stroke="#000" stroke-width="0.06" textLength="26" lengthAdjust="spacingAndGlyphs">CD79B</text>
<text x="15.7" y="103.6" font-size="7.6" fill="#111" stroke="#111" stroke-width="0.12" textLength="73.6" lengthAdjust="spacingAndGlyphs">phosphorylation scale</text>
<defs><linearGradient id="cs" x1="0" x2="1" y1="0" y2="0"><stop offset="0" stop-color="#d0d0ff"/><stop offset="0.2" stop-color="#0000f8"/><stop offset="0.37" stop-color="#000"/><stop offset="0.7" stop-color="#f8f800"/><stop offset="1" stop-color="#ffffd0"/></linearGradient></defs>
<rect x="21.4" y="107.3" width="63.2" height="7.4" fill="url(#cs)" stroke="#000" stroke-width="0.8"/>
<rect x="21.900000000000002" y="114.7" width="0.9" height="2.6" fill="#000"/>
<rect x="33.300000000000004" y="114.7" width="0.9" height="2.6" fill="#000"/>
<rect x="44.7" y="114.7" width="0.9" height="2.6" fill="#000"/>
<rect x="64.39999999999999" y="114.7" width="0.9" height="2.6" fill="#000"/>
<rect x="83.19999999999999" y="114.7" width="0.9" height="2.6" fill="#000"/>
<text x="14.9" y="126.2" font-size="8.5" fill="#000" stroke="#000" stroke-width="0.08" textLength="13.4" lengthAdjust="spacingAndGlyphs">-1.0</text>
<text x="51.2" y="126.2" font-size="8.5" text-anchor="middle" fill="#000" stroke="#000" stroke-width="0.08">0</text>
<text x="78.6" y="126.2" font-size="8.5" fill="#000" stroke="#000" stroke-width="0.08" textLength="11.5" lengthAdjust="spacingAndGlyphs">2.0</text>
<text x="8.1" y="152.6" font-size="11.2" font-weight="bold" fill="#000">B</text>
<text x="26.8" y="162.5" font-size="10" fill="#000" stroke="#000" stroke-width="0.06" textLength="52" lengthAdjust="spacingAndGlyphs">GFP control</text>
<path d="M62.0 202.3h.8M70.9 221.1h.8M81.0 178.7h.8M25.8 221.0h.8M56.6 178.0h.8M64.1 182.5h.8M35.8 189.1h.8M53.7 207.8h.8M25.7 211.7h.8M59.9 195.4h.8M62.9 215.2h.8M21.7 195.7h.8M63.3 209.7h.8M61.4 177.9h.8M80.7 214.3h.8M35.6 193.0h.8M80.7 179.5h.8M46.5 224.9h.8M77.1 181.1h.8M66.8 188.7h.8M62.4 213.2h.8M29.0 180.5h.8M34.5 183.1h.8M23.3 175.3h.8M46.4 192.4h.8M25.9 202.1h.8M79.7 201.8h.8M43.2 209.4h.8M48.3 177.6h.8M51.1 168.2h.8M63.1 176.8h.8M44.1 224.9h.8M68.8 217.3h.8M61.0 205.2h.8M64.9 225.2h.8M33.3 213.1h.8M39.8 182.5h.8M72.2 203.2h.8M73.9 219.7h.8M57.7 179.0h.8M22.0 199.2h.8M66.2 183.5h.8M25.5 167.4h.8M31.9 208.9h.8M21.3 180.9h.8M37.6 209.8h.8M82.5 168.3h.8M28.2 223.3h.8M81.4 176.0h.8M42.0 198.5h.8M41.0 192.2h.8M50.9 182.6h.8M24.5 172.1h.8M31.2 172.6h.8M59.9 209.0h.8M37.5 214.7h.8M66.4 187.6h.8M51.7 178.4h.8M78.9 200.8h.8M24.3 176.4h.8M64.2 190.3h.8M65.7 180.9h.8M70.7 215.3h.8M27.0 202.3h.8M33.0 209.6h.8M71.1 214.7h.8M35.5 172.7h.8M62.4 201.1h.8M29.7 178.7h.8M57.3 173.6h.8M60.5 181.6h.8M37.2 192.6h.8M54.3 210.6h.8M23.0 210.6h.8M34.8 184.6h.8M60.9 208.6h.8M59.3 221.3h.8M33.8 185.8h.8M62.3 182.8h.8M30.9 180.7h.8M69.1 216.8h.8M65.7 224.7h.8M70.5 185.7h.8M40.7 210.4h.8M24.6 203.7h.8M26.6 170.0h.8M53.1 176.2h.8M79.0 219.8h.8M49.8 179.0h.8M28.5 197.6h.8M53.5 188.9h.8M65.7 198.9h.8M69.3 173.5h.8M25.5 190.4h.8M51.2 182.3h.8M62.7 180.4h.8M40.9 195.8h.8M65.4 213.4h.8M44.2 194.0h.8M78.8 223.2h.8M59.6 173.4h.8M49.4 205.4h.8M38.4 169.3h.8M82.1 221.8h.8M29.1 195.1h.8M59.6 185.1h.8M25.4 212.2h.8M69.0 193.4h.8M26.4 190.8h.8M26.9 225.0h.8M24.3 184.4h.8M68.9 175.2h.8M27.7 171.3h.8M31.3 199.1h.8M72.9 177.3h.8M31.9 213.1h.8M47.6 187.4h.8M28.8 181.7h.8M81.5 174.1h.8M37.2 211.6h.8M76.6 221.4h.8M50.5 224.6h.8M58.7 184.5h.8M50.0 210.1h.8M66.8 174.9h.8M33.1 224.7h.8M27.8 216.0h.8M42.2 182.0h.8M37.0 195.3h.8M82.7 176.0h.8M74.3 186.4h.8M31.8 211.9h.8M42.3 178.4h.8M47.1 216.5h.8M74.8 201.7h.8M21.7 213.0h.8M58.8 221.2h.8M80.3 186.8h.8M73.9 216.3h.8M37.6 189.1h.8" fill="none" stroke="#000" stroke-width="0.8"/>
<path d="M37.1 204.4h.8M40.8 203.6h.8M48.8 207.7h.8M30.6 204.6h.8M60.3 200.5h.8M46.0 207.8h.8M57.2 196.6h.8M42.2 199.2h.8M48.5 201.3h.8M38.5 201.1h.8M48.4 201.9h.8M34.5 202.4h.8M49.7 201.1h.8M58.0 199.4h.8M49.8 202.1h.8M63.3 201.5h.8M37.3 200.0h.8M68.2 204.2h.8M32.4 202.2h.8M33.8 206.2h.8M49.9 198.5h.8M47.4 204.9h.8M45.0 203.9h.8M43.7 203.3h.8M47.5 201.4h.8M49.1 203.3h.8M44.6 201.4h.8M33.2 203.4h.8M54.6 197.7h.8M38.8 205.8h.8M55.7 201.4h.8M60.8 200.8h.8M35.8 207.0h.8M39.9 202.4h.8M25.8 200.7h.8M31.3 202.6h.8M23.6 205.2h.8M40.9 201.6h.8M37.6 204.5h.8M62.9 202.0h.8M63.8 206.3h.8M60.7 203.5h.8M27.6 204.3h.8M40.2 203.3h.8M23.0 202.3h.8M47.7 200.9h.8M48.4 206.5h.8M47.7 201.4h.8M72.8 198.3h.8M34.3 203.8h.8M38.1 198.0h.8M48.0 204.7h.8M35.7 206.0h.8M50.8 205.5h.8M27.2 202.9h.8M63.7 207.2h.8M60.4 202.9h.8M47.1 201.6h.8M57.8 201.4h.8M46.4 198.5h.8M27.4 206.7h.8M45.7 203.4h.8M69.2 199.7h.8M38.8 202.4h.8M30.3 200.0h.8M30.5 204.3h.8M44.4 204.7h.8M32.4 204.2h.8M39.8 203.1h.8M55.9 203.0h.8M40.9 199.3h.8M45.7 204.6h.8M37.6 202.8h.8M24.3 200.0h.8M49.7 205.7h.8M41.4 199.3h.8M40.5 199.5h.8M41.8 207.1h.8M48.5 202.6h.8M57.2 202.1h.8M48.9 203.3h.8M50.2 199.7h.8M53.4 204.8h.8M34.5 206.1h.8M45.2 204.4h.8M51.5 204.8h.8M37.5 201.6h.8M49.4 204.2h.8M51.8 203.6h.8M39.3 205.3h.8M50.6 205.2h.8M37.2 203.2h.8M39.4 202.2h.8M47.3 203.7h.8M35.6 197.4h.8M35.8 204.1h.8M35.0 203.8h.8M40.6 200.9h.8M58.8 206.5h.8M43.8 202.8h.8M56.3 200.0h.8M34.7 205.4h.8M55.7 201.8h.8M35.8 203.7h.8M28.3 201.8h.8M42.3 197.6h.8M52.0 204.6h.8M57.7 199.8h.8M29.8 201.1h.8M29.5 207.4h.8M33.4 202.2h.8M47.4 203.9h.8M62.2 200.5h.8M55.5 203.2h.8M31.1 203.2h.8M28.3 206.4h.8M36.3 205.1h.8M60.5 201.6h.8M34.3 203.2h.8M32.5 204.9h.8M47.1 201.2h.8M36.8 204.5h.8M27.7 206.6h.8M35.6 202.5h.8M34.0 206.4h.8M54.8 205.7h.8M52.8 203.1h.8M65.2 204.4h.8M50.2 204.2h.8M53.8 203.5h.8M43.0 199.4h.8M69.6 200.1h.8M68.1 205.6h.8M37.8 203.5h.8M44.7 198.5h.8M41.0 203.5h.8M59.0 200.3h.8M49.0 203.1h.8M46.8 203.2h.8M40.6 199.9h.8M50.4 203.7h.8M51.9 205.6h.8M30.2 197.8h.8M23.6 207.6h.8M34.0 203.8h.8M44.8 204.5h.8M43.0 201.6h.8M47.9 204.0h.8M33.4 205.8h.8M58.8 203.9h.8M43.7 202.4h.8M25.3 204.3h.8M33.3 201.8h.8M57.0 200.9h.8M38.7 204.8h.8M67.3 201.4h.8M58.2 201.5h.8M49.7 204.0h.8M31.3 205.2h.8M66.6 203.0h.8M48.2 200.3h.8M66.5 203.0h.8M29.7 204.6h.8M27.5 201.4h.8M71.5 201.5h.8M37.2 201.6h.8M38.2 204.1h.8M62.5 200.7h.8M50.3 198.9h.8M63.3 202.7h.8M36.6 206.3h.8M43.7 205.9h.8M57.9 206.5h.8M35.4 203.0h.8M49.4 202.5h.8M63.3 201.3h.8M57.0 205.9h.8M21.6 200.8h.8M34.2 201.7h.8M49.7 202.5h.8M45.9 201.9h.8M44.0 204.0h.8M53.9 201.2h.8M43.6 201.2h.8M42.9 199.7h.8M56.5 204.4h.8M43.5 201.4h.8M39.5 201.4h.8M26.5 206.5h.8M31.0 204.2h.8M52.3 199.4h.8M21.9 204.1h.8M21.1 206.0h.8M39.1 203.1h.8M45.0 201.7h.8M43.3 202.2h.8M59.9 202.7h.8M44.6 201.7h.8M37.4 201.3h.8M45.1 206.9h.8M58.4 203.4h.8M65.0 205.1h.8M47.5 202.5h.8M31.8 203.4h.8M41.2 199.4h.8M29.6 207.2h.8M47.6 204.0h.8M47.4 201.9h.8M50.5 205.3h.8M41.3 204.0h.8M57.3 201.8h.8M47.0 201.3h.8M52.2 202.1h.8M58.8 201.2h.8M65.3 202.2h.8M34.9 200.9h.8M53.0 201.0h.8M66.7 205.7h.8M51.2 199.8h.8M44.7 201.3h.8M23.3 203.8h.8M71.4 201.7h.8M54.7 205.7h.8M33.5 202.2h.8M48.2 203.9h.8M31.3 203.4h.8M43.7 205.0h.8M25.8 201.7h.8M39.0 202.2h.8M53.7 201.5h.8M77.9 201.3h.8M55.1 205.1h.8M56.6 202.5h.8M35.0 202.3h.8M53.0 203.2h.8M52.0 204.2h.8M34.4 200.8h.8M62.3 201.8h.8M26.0 207.0h.8M35.0 200.8h.8M56.6 200.4h.8M34.5 205.2h.8M35.2 208.4h.8M46.2 208.8h.8M46.6 203.0h.8M37.3 202.4h.8M39.0 202.8h.8M54.3 200.1h.8M34.0 198.3h.8M63.0 202.7h.8M44.8 202.8h.8M57.1 203.6h.8M55.2 202.5h.8M43.5 202.8h.8M22.7 205.3h.8M26.1 200.7h.8M53.1 203.0h.8M54.8 206.7h.8M67.3 205.9h.8M42.3 207.4h.8M34.4 202.7h.8M57.0 202.4h.8M43.5 202.1h.8M61.4 197.5h.8M60.3 205.2h.8M44.1 204.1h.8M33.4 205.3h.8M81.7 200.9h.8M61.8 202.8h.8M40.9 201.8h.8M42.7 200.1h.8M28.7 206.6h.8M44.8 204.1h.8M48.7 203.9h.8M26.7 200.8h.8M52.6 205.1h.8M31.3 201.6h.8M32.2 204.3h.8M49.1 203.0h.8M37.2 203.7h.8M45.4 201.3h.8M49.0 201.4h.8M56.4 204.3h.8M36.7 204.2h.8M45.8 201.3h.8M34.0 199.2h.8M31.4 203.7h.8M59.5 201.5h.8M46.9 203.7h.8M54.4 203.9h.8M59.7 204.6h.8M35.9 203.8h.8M45.2 204.2h.8M41.4 204.7h.8M60.9 201.1h.8M38.5 203.5h.8M50.9 203.2h.8M55.0 200.3h.8M54.3 205.5h.8M58.3 203.8h.8M42.1 203.8h.8M44.1 199.4h.8M37.7 202.8h.8M38.8 200.8h.8M42.2 202.1h.8M45.8 202.8h.8M47.1 205.1h.8M46.6 203.8h.8M30.3 196.4h.8M40.2 204.4h.8M40.9 201.5h.8M30.1 204.9h.8M38.7 203.4h.8M58.6 204.1h.8M71.9 202.6h.8M56.5 204.4h.8M37.1 203.0h.8M38.2 200.6h.8M48.6 201.2h.8M65.2 201.3h.8M38.5 203.1h.8M38.8 203.0h.8M37.7 199.8h.8M63.3 203.9h.8M46.8 201.9h.8M43.3 203.6h.8M28.3 201.1h.8M34.3 205.7h.8M32.3 205.5h.8M39.4 208.9h.8M44.1 203.0h.8M61.2 204.8h.8M56.3 200.5h.8M58.6 206.6h.8M43.8 201.8h.8M31.9 205.1h.8M48.5 202.9h.8M30.2 206.5h.8M55.5 202.9h.8M62.7 200.8h.8M55.6 200.7h.8M61.9 202.3h.8M59.7 202.0h.8M49.8 205.4h.8M34.2 203.1h.8M34.9 204.8h.8M37.8 202.1h.8M42.6 205.5h.8M32.5 202.8h.8M41.1 201.7h.8M35.6 202.5h.8M47.4 199.5h.8M47.8 200.3h.8M45.2 207.9h.8M33.4 202.8h.8M41.9 205.1h.8M39.3 199.0h.8M25.7 203.3h.8M48.0 205.2h.8M38.6 204.4h.8M32.2 205.7h.8M44.1 201.4h.8M47.1 206.7h.8M34.8 200.2h.8M32.8 200.4h.8M44.4 203.7h.8M43.0 203.3h.8M59.2 202.3h.8M30.0 197.9h.8M47.9 201.4h.8M42.0 203.8h.8M50.6 199.5h.8M33.5 203.1h.8M43.3 205.4h.8M39.0 198.4h.8M59.0 199.3h.8M33.4 203.8h.8M32.3 208.4h.8M47.9 204.1h.8M39.8 207.8h.8M51.5 201.3h.8M60.1 199.2h.8M38.0 203.5h.8M46.7 200.8h.8M64.0 206.1h.8M33.8 203.7h.8M37.4 201.9h.8M56.8 203.2h.8M43.7 203.1h.8M30.9 205.6h.8M36.0 205.8h.8M39.5 201.9h.8M62.8 203.3h.8M37.3 201.7h.8M52.3 207.0h.8M52.4 202.0h.8M31.5 201.4h.8M43.6 203.4h.8M37.1 205.7h.8M33.5 201.3h.8M51.0 204.0h.8M40.3 205.0h.8M28.1 206.5h.8M71.2 207.2h.8M46.4 207.2h.8M45.6 205.8h.8M42.6 203.3h.8M51.3 199.1h.8M42.5 206.7h.8M56.1 203.6h.8M47.3 206.0h.8M49.0 198.7h.8M33.7 202.2h.8M46.7 201.9h.8M43.7 206.6h.8M56.2 204.2h.8M45.2 203.0h.8M49.4 203.4h.8M36.3 204.6h.8M35.1 202.8h.8M40.7 200.4h.8M52.3 202.7h.8M31.0 202.7h.8M28.5 206.1h.8M51.2 207.3h.8M38.2 204.5h.8M33.4 201.0h.8M43.9 203.8h.8M56.1 202.3h.8M58.2 205.0h.8M34.5 202.5h.8M34.0 206.6h.8M38.4 204.8h.8M55.9 202.3h.8M39.2 203.7h.8M35.7 200.1h.8M33.4 203.6h.8M47.3 206.8h.8M23.2 204.0h.8M31.2 205.4h.8M53.3 203.2h.8M62.6 202.1h.8M38.7 200.6h.8M37.2 203.2h.8M53.0 205.7h.8M41.8 201.3h.8M41.0 202.0h.8M39.4 202.0h.8M34.6 202.8h.8M38.9 202.5h.8M28.5 203.2h.8M51.8 204.3h.8M38.5 200.4h.8M29.5 200.3h.8M37.3 202.2h.8M23.9 204.4h.8M26.7 201.4h.8M36.4 204.7h.8M66.9 202.1h.8M41.7 202.0h.8M42.6 202.5h.8M74.4 200.5h.8M43.7 201.2h.8M49.2 201.8h.8M51.8 200.5h.8M70.1 203.4h.8M24.0 204.4h.8M39.4 200.4h.8M50.2 201.8h.8M53.8 201.7h.8M55.7 203.2h.8M49.2 203.2h.8M40.7 202.1h.8M50.4 204.4h.8M40.2 207.8h.8M65.1 200.4h.8M57.9 202.7h.8M47.8 201.2h.8M64.6 201.1h.8M44.0 201.3h.8M67.9 205.6h.8M29.4 201.9h.8M49.3 202.0h.8M40.8 200.6h.8M48.0 200.5h.8M54.9 208.1h.8M72.7 200.0h.8M75.5 179.5h.8M72.6 176.9h.8M74.5 191.6h.8M77.7 182.9h.8M69.3 184.7h.8M80.6 187.9h.8M72.3 190.2h.8M70.3 197.4h.8M71.8 177.7h.8M71.7 184.6h.8M77.9 180.4h.8M67.0 184.7h.8M76.1 199.0h.8M69.6 198.5h.8M76.7 189.4h.8M71.0 177.6h.8M70.2 193.7h.8M74.9 194.9h.8M81.2 185.6h.8M73.8 202.4h.8M68.9 181.5h.8M72.5 182.1h.8M74.6 178.0h.8M78.6 173.4h.8M70.8 170.5h.8M68.5 190.6h.8M76.5 183.7h.8M77.3 190.9h.8M71.7 185.1h.8M75.4 203.2h.8M72.3 188.7h.8M76.1 196.2h.8M75.7 194.9h.8M69.8 183.1h.8M66.4 185.0h.8M83.2 187.6h.8M74.4 187.8h.8M74.6 173.8h.8M71.3 183.9h.8M74.7 177.8h.8M73.6 179.0h.8M68.8 179.7h.8M70.8 192.8h.8M79.3 190.6h.8M73.2 180.6h.8M67.8 180.8h.8M80.2 195.6h.8M74.9 183.3h.8M74.0 189.2h.8M74.0 189.2h.8M71.0 185.9h.8M72.6 194.9h.8M69.1 196.9h.8M73.7 181.0h.8M74.1 186.5h.8M73.1 189.2h.8M71.7 170.6h.8M76.7 185.2h.8M80.5 188.9h.8M66.1 196.4h.8M71.3 190.3h.8M82.7 195.0h.8M69.7 184.7h.8M67.7 191.3h.8M76.2 176.5h.8M75.8 193.7h.8M77.2 179.6h.8M71.3 175.6h.8M68.9 188.2h.8M74.2 196.9h.8M75.1 182.6h.8M68.4 199.0h.8M74.6 185.2h.8M70.1 176.3h.8M76.5 176.9h.8M76.3 191.0h.8M72.5 171.3h.8M75.6 197.8h.8M70.8 174.4h.8M78.3 186.7h.8M71.6 196.2h.8M72.9 189.4h.8M72.4 178.9h.8M74.9 178.0h.8M67.0 180.8h.8M78.8 195.1h.8M82.5 194.2h.8M80.3 187.7h.8M72.3 189.6h.8M70.3 191.9h.8M72.2 187.7h.8M70.7 184.3h.8M77.8 183.6h.8M71.4 188.0h.8M77.5 183.9h.8M69.4 171.9h.8M68.7 194.8h.8M73.7 189.7h.8M78.2 188.0h.8M75.9 181.1h.8M67.7 191.0h.8M73.6 190.5h.8M69.8 184.3h.8M81.9 178.2h.8M74.4 196.9h.8M73.1 186.6h.8M65.6 192.3h.8M72.3 196.7h.8M73.6 182.3h.8M75.7 183.4h.8M72.0 198.9h.8M77.9 186.5h.8M77.2 192.7h.8M76.3 185.9h.8M74.3 189.1h.8M76.2 188.6h.8M71.8 184.9h.8M75.8 177.0h.8M74.0 192.1h.8M74.7 183.0h.8M73.9 181.3h.8M77.9 182.3h.8M67.5 175.1h.8M75.2 187.3h.8M72.2 174.2h.8M73.4 178.3h.8M71.4 185.5h.8M71.0 188.2h.8M71.1 181.5h.8M73.1 198.2h.8M80.2 193.7h.8M71.1 185.6h.8M77.6 192.5h.8M67.6 185.1h.8M71.1 192.0h.8M76.5 180.9h.8M82.4 183.1h.8M73.7 201.9h.8M71.9 181.5h.8M79.8 185.2h.8M75.9 174.7h.8M81.0 194.0h.8M75.4 191.6h.8M72.0 181.5h.8M67.8 188.7h.8M78.8 192.9h.8M77.6 191.6h.8M70.4 174.3h.8M76.5 187.0h.8M77.9 183.2h.8M70.5 189.4h.8M71.8 171.5h.8M71.6 178.0h.8M69.6 180.8h.8M77.7 205.7h.8M80.8 182.0h.8M78.5 184.9h.8M75.6 179.7h.8M73.7 171.2h.8M81.0 179.0h.8M76.3 180.5h.8M75.1 175.5h.8M72.5 193.4h.8M76.3 168.9h.8M77.3 174.3h.8M75.1 190.0h.8M71.5 182.8h.8M73.0 189.0h.8M77.6 197.2h.8M75.3 202.6h.8M70.3 200.8h.8M73.0 192.1h.8M73.5 186.3h.8M70.4 188.9h.8M81.9 186.8h.8M73.9 185.6h.8M76.8 183.8h.8M74.0 187.4h.8M79.1 193.7h.8M69.9 180.1h.8M74.1 192.8h.8M77.8 183.8h.8M82.3 184.2h.8M79.5 197.7h.8M80.2 187.3h.8M76.3 172.5h.8M67.0 180.3h.8M76.8 194.6h.8M73.6 194.4h.8M76.3 198.6h.8M67.8 178.5h.8M70.3 176.6h.8M80.5 177.6h.8M70.8 182.1h.8M77.5 181.6h.8M76.9 190.3h.8M70.4 174.9h.8M80.4 179.4h.8M69.8 188.8h.8M74.2 177.5h.8M78.3 193.4h.8M75.1 179.1h.8M70.6 168.0h.8M75.5 188.9h.8M70.4 185.8h.8M67.3 190.8h.8M72.3 181.3h.8M76.4 184.4h.8M77.9 189.9h.8M78.6 186.6h.8M65.5 197.1h.8M67.3 194.4h.8M75.0 173.7h.8M74.3 193.1h.8M70.0 185.9h.8M71.1 176.9h.8M71.6 196.4h.8M76.7 185.3h.8M73.7 186.6h.8M75.1 187.1h.8M67.3 193.4h.8M76.8 175.2h.8M73.4 184.7h.8M71.7 190.1h.8M72.9 183.1h.8M70.3 183.1h.8M69.9 185.9h.8M79.2 194.1h.8M75.7 173.8h.8M78.0 193.5h.8M74.1 182.6h.8M78.3 176.2h.8M72.5 205.4h.8M77.9 168.4h.8M74.1 197.2h.8M71.6 190.6h.8M74.4 173.0h.8M71.5 195.2h.8M78.7 180.3h.8M78.4 179.4h.8M75.0 185.3h.8M69.1 188.2h.8" fill="none" stroke="#000" stroke-width="0.8"/>
<path d="M62.5 198.1h.8M23.7 186.9h.8M23.1 199.4h.8M36.2 202.8h.8M64.9 192.8h.8M25.2 185.7h.8M35.4 203.9h.8M39.2 203.8h.8M75.0 168.9h.8M48.5 202.1h.8M29.8 195.4h.8M39.3 204.8h.8M55.2 205.4h.8M40.5 203.5h.8M78.4 179.1h.8M42.4 204.4h.8M29.6 171.0h.8M74.1 177.9h.8M49.8 205.6h.8M78.6 182.3h.8M65.7 190.7h.8M72.7 175.7h.8M68.5 168.9h.8M57.2 195.7h.8M55.0 199.0h.8M76.5 179.4h.8M61.2 201.6h.8M31.4 202.8h.8M73.4 180.7h.8M69.2 169.5h.8M61.1 200.8h.8M71.8 173.3h.8M75.7 176.8h.8M28.4 193.1h.8M69.0 187.9h.8M52.7 200.4h.8M54.4 197.1h.8M43.6 201.5h.8M70.9 178.5h.8M77.8 176.9h.8M32.7 204.6h.8M67.9 187.4h.8M30.9 199.6h.8M27.6 196.1h.8M48.0 204.1h.8M61.4 170.1h.8M24.3 196.7h.8M64.7 190.1h.8M43.9 204.8h.8M71.9 188.8h.8M44.5 203.8h.8M41.9 204.8h.8M66.0 190.1h.8M59.6 168.8h.8M70.1 176.3h.8M21.6 177.0h.8M22.4 190.5h.8M71.9 182.2h.8M23.9 174.3h.8M62.5 168.4h.8M47.6 200.9h.8M60.6 168.5h.8M38.7 204.4h.8M23.0 189.4h.8M71.6 180.9h.8M71.3 183.9h.8M55.8 210.1h.8M25.5 167.5h.8M68.2 198.4h.8M33.9 202.0h.8M25.8 190.9h.8M42.2 213.1h.8M23.9 194.1h.8M21.9 187.2h.8M24.5 173.0h.8M45.3 204.2h.8M72.4 182.6h.8M23.0 195.4h.8M23.9 181.0h.8M39.3 210.3h.8M22.2 183.3h.8M41.5 205.7h.8M77.1 186.3h.8M65.1 194.6h.8M66.6 191.5h.8M66.0 191.1h.8M78.2 173.1h.8M45.3 201.8h.8M63.4 194.6h.8M23.8 188.5h.8M73.4 181.0h.8M24.7 202.1h.8M22.3 181.8h.8M45.5 203.2h.8M57.1 207.0h.8M62.2 167.4h.8M70.6 177.0h.8M21.3 187.4h.8M62.9 194.8h.8M66.5 189.5h.8M74.9 187.3h.8M22.4 193.2h.8M71.0 171.7h.8M37.9 207.2h.8M21.7 182.5h.8M65.9 172.0h.8M48.4 202.7h.8M27.7 172.2h.8M22.1 196.9h.8M24.5 172.5h.8M62.7 192.8h.8M23.5 183.9h.8M58.5 201.9h.8M56.0 197.5h.8M23.0 181.9h.8M63.9 168.8h.8M73.8 186.1h.8M65.0 189.5h.8M33.9 198.9h.8M29.3 198.4h.8M49.9 200.8h.8M70.5 171.5h.8M69.1 172.6h.8M70.3 187.6h.8M32.5 168.4h.8M70.0 172.7h.8M47.0 202.8h.8M65.8 170.4h.8M32.8 204.2h.8M67.6 185.3h.8M73.0 170.4h.8M67.4 190.9h.8M66.6 188.7h.8M27.9 169.4h.8M59.3 199.2h.8M24.7 188.9h.8M74.6 183.2h.8M37.6 203.9h.8M33.7 206.8h.8M52.2 204.5h.8M47.2 209.7h.8M47.2 203.3h.8M23.0 180.7h.8M64.4 191.6h.8M79.3 176.6h.8M74.6 177.5h.8M69.9 191.5h.8M43.0 203.6h.8M62.3 197.3h.8M31.2 204.8h.8M62.1 170.3h.8M61.8 191.6h.8M22.4 181.6h.8M69.0 168.3h.8M24.5 176.3h.8M68.5 192.3h.8M25.1 198.0h.8M66.2 194.3h.8M59.7 204.8h.8M64.1 167.7h.8M21.7 180.3h.8M75.2 186.4h.8M73.7 170.5h.8M29.5 169.4h.8M22.2 178.0h.8M67.4 167.6h.8M49.9 200.3h.8M72.2 178.5h.8M70.1 167.5h.8M40.3 207.2h.8M74.6 174.1h.8M75.4 191.1h.8M75.4 174.1h.8M71.9 180.8h.8M25.2 189.0h.8M70.7 176.4h.8M59.6 196.1h.8M24.8 196.1h.8M69.8 170.0h.8M79.4 175.2h.8M49.1 203.5h.8M30.9 200.7h.8M22.6 190.7h.8M61.7 169.7h.8M35.1 201.1h.8M29.7 167.6h.8M29.9 199.6h.8M81.4 172.6h.8M68.2 185.9h.8M67.6 174.8h.8M29.8 198.0h.8M69.2 173.8h.8M44.2 203.5h.8M64.6 200.5h.8M67.2 173.3h.8M72.6 185.0h.8M24.7 191.1h.8M62.1 194.0h.8M37.8 202.0h.8M23.4 179.6h.8M71.7 173.4h.8M68.1 191.4h.8M59.8 195.8h.8M26.1 170.4h.8M28.8 196.6h.8M63.8 168.7h.8M33.0 201.8h.8M64.0 191.2h.8M71.4 168.4h.8M71.3 187.5h.8M24.8 167.8h.8M39.4 205.1h.8M74.1 187.5h.8M69.9 187.2h.8M37.7 208.8h.8M66.5 191.7h.8M46.9 203.5h.8M46.1 203.4h.8M67.5 187.9h.8M72.8 182.0h.8M70.4 184.6h.8M62.2 170.2h.8M69.9 184.1h.8M65.4 169.7h.8M62.3 192.8h.8M42.2 203.5h.8M22.1 182.2h.8M70.2 173.0h.8M35.3 207.3h.8M77.5 179.9h.8M27.4 194.8h.8M23.6 189.6h.8M63.9 197.7h.8M29.0 195.9h.8M21.9 168.9h.8M64.6 196.3h.8M24.6 172.1h.8M70.2 185.6h.8M62.8 194.5h.8M24.2 178.5h.8M72.9 192.8h.8M63.7 196.5h.8M32.1 168.0h.8M22.8 184.3h.8M65.9 190.5h.8M21.4 180.9h.8M64.8 192.5h.8M69.6 186.2h.8M31.0 204.3h.8M71.8 185.7h.8M39.4 207.0h.8M27.0 171.9h.8M22.8 191.0h.8M62.6 170.7h.8M79.3 186.0h.8M23.1 174.7h.8M55.0 196.9h.8M62.5 194.6h.8M24.4 192.2h.8M21.4 200.5h.8M28.3 196.8h.8M62.3 167.3h.8M57.0 197.5h.8M24.4 169.7h.8M26.9 169.2h.8M53.1 197.1h.8M72.7 182.3h.8M24.9 168.1h.8M37.2 208.7h.8M54.1 200.9h.8M49.9 202.7h.8M73.2 185.3h.8M66.2 171.4h.8M23.6 179.8h.8M64.8 196.3h.8M28.0 204.0h.8M70.6 173.2h.8M26.7 194.7h.8M24.8 171.1h.8M70.1 188.4h.8M24.1 184.1h.8M24.4 169.9h.8M40.6 205.3h.8M31.8 197.7h.8M21.4 185.7h.8M71.0 186.4h.8M24.8 169.0h.8M32.1 200.7h.8M61.7 168.3h.8M39.3 206.2h.8M61.0 168.7h.8M69.7 177.4h.8M71.3 184.8h.8M24.5 171.8h.8M55.5 197.9h.8M68.5 174.7h.8M69.8 188.1h.8M24.7 189.1h.8M48.2 200.7h.8M55.5 199.2h.8M30.8 167.3h.8M73.6 174.2h.8M64.7 169.8h.8M60.7 201.4h.8M66.6 169.0h.8M24.8 183.7h.8M31.2 200.9h.8M59.1 194.6h.8M73.0 174.4h.8M26.6 195.9h.8M56.0 198.7h.8M24.2 167.8h.8M73.7 184.7h.8M23.9 172.9h.8M62.4 170.1h.8M67.3 169.1h.8M58.7 205.5h.8M24.6 201.0h.8M68.8 174.0h.8M47.8 206.1h.8M53.6 206.6h.8M66.0 197.8h.8M28.6 201.6h.8M67.4 170.9h.8M23.7 175.2h.8M29.1 169.0h.8M71.9 173.0h.8M67.2 188.5h.8M51.6 205.3h.8M68.9 189.2h.8M42.3 203.7h.8M30.0 196.3h.8M70.6 179.5h.8M68.9 170.4h.8M63.5 169.3h.8M69.9 186.2h.8M24.2 192.5h.8M69.1 186.3h.8M68.9 188.5h.8M65.0 197.6h.8M47.9 200.2h.8M73.1 179.9h.8M42.5 202.0h.8M72.6 181.0h.8M22.6 175.1h.8M42.1 202.6h.8M30.0 201.5h.8M71.1 187.9h.8M69.6 193.2h.8M27.1 201.6h.8M73.7 170.1h.8M66.2 188.2h.8M77.9 181.7h.8M43.3 209.4h.8M73.1 183.6h.8M25.3 192.0h.8M22.2 198.0h.8M51.0 207.2h.8M30.7 209.8h.8M52.9 201.5h.8M70.2 186.1h.8M49.8 206.1h.8M63.2 189.6h.8M23.4 201.1h.8M29.5 168.5h.8M75.3 188.1h.8M50.8 205.2h.8M58.5 168.3h.8M73.2 181.3h.8M77.4 177.8h.8M34.6 207.1h.8M23.8 186.3h.8M21.2 180.0h.8M28.6 200.4h.8M55.4 205.5h.8M63.2 192.5h.8M61.1 167.3h.8M27.5 167.9h.8M30.4 198.6h.8M34.0 200.9h.8M25.4 190.5h.8M28.5 168.2h.8M24.9 197.6h.8M27.3 193.6h.8M68.0 195.3h.8M69.0 186.2h.8M72.1 187.1h.8M66.1 193.6h.8M71.3 184.7h.8M51.5 199.8h.8M42.1 217.3h.8M23.1 190.8h.8M28.1 194.7h.8M45.8 204.5h.8M40.4 205.3h.8M61.2 169.7h.8M40.9 205.0h.8M68.9 188.1h.8M23.0 183.6h.8M28.1 171.1h.8M70.4 188.9h.8M30.6 197.4h.8M72.0 181.4h.8M45.8 202.9h.8M50.6 201.3h.8M24.7 193.1h.8M58.4 203.5h.8M75.7 182.7h.8M68.4 172.4h.8M41.6 206.0h.8M70.2 185.2h.8M72.0 168.7h.8M71.5 171.5h.8M42.1 209.6h.8M64.2 193.3h.8M44.8 204.6h.8M69.9 183.2h.8M39.9 204.1h.8M71.1 187.7h.8M47.8 206.1h.8M55.1 198.5h.8M69.7 187.2h.8M29.5 167.4h.8M66.9 169.4h.8M21.8 182.7h.8M71.6 188.1h.8M41.6 204.6h.8M65.5 171.3h.8M42.8 212.1h.8M55.9 197.7h.8M66.5 191.3h.8M30.6 204.2h.8M72.6 180.6h.8M71.7 191.5h.8M47.4 203.1h.8M33.6 200.2h.8M64.4 167.4h.8M65.4 168.7h.8M70.0 187.4h.8M40.3 207.3h.8M49.4 201.6h.8M22.4 177.2h.8M23.5 179.0h.8M33.6 207.7h.8M30.8 199.9h.8M72.3 178.5h.8M69.5 173.0h.8M35.9 205.5h.8M24.8 177.7h.8M53.6 198.9h.8M33.8 204.9h.8M33.9 168.3h.8M75.5 180.5h.8M72.6 185.9h.8M27.5 201.2h.8M21.5 182.5h.8M29.6 169.1h.8M56.3 201.6h.8M42.2 205.6h.8M74.4 178.5h.8M31.4 204.1h.8M74.9 175.3h.8M47.2 203.0h.8M50.0 200.6h.8M71.0 187.6h.8M21.7 170.0h.8M27.8 199.0h.8M23.3 195.9h.8M31.5 196.9h.8M51.2 200.9h.8M22.9 189.3h.8M41.2 206.7h.8M66.8 187.9h.8M22.2 194.0h.8M71.6 182.4h.8M57.7 202.0h.8M69.4 185.6h.8M65.3 192.0h.8M62.6 192.5h.8M57.3 200.7h.8M59.1 195.8h.8M69.4 181.9h.8M31.5 202.2h.8M26.3 172.5h.8M64.9 193.8h.8M22.2 182.2h.8M25.9 170.4h.8M71.0 176.5h.8M61.6 194.1h.8M21.2 168.0h.8M43.3 203.8h.8M23.3 179.7h.8M67.6 173.1h.8M23.1 184.3h.8M57.0 167.3h.8M63.2 169.0h.8M77.5 180.5h.8M70.2 181.8h.8M60.1 168.0h.8M24.7 193.4h.8M68.1 170.1h.8M66.6 188.6h.8M40.2 209.5h.8M26.5 200.0h.8M73.2 186.8h.8M76.8 179.6h.8M66.0 195.9h.8M57.7 200.5h.8M67.1 186.0h.8M30.0 202.5h.8M66.3 169.2h.8M22.9 180.3h.8M58.0 198.5h.8M72.8 185.0h.8M28.6 198.6h.8M21.3 179.6h.8M49.5 200.4h.8M22.5 194.9h.8M61.8 198.3h.8M30.5 199.3h.8M23.1 172.8h.8M59.1 199.3h.8M63.3 191.6h.8M24.9 174.4h.8M26.0 167.6h.8M58.1 198.6h.8M56.3 201.3h.8M69.9 171.0h.8M36.4 206.3h.8M22.3 198.8h.8M72.9 179.4h.8M67.4 173.7h.8M34.1 204.5h.8M52.0 167.7h.8M45.3 204.2h.8M49.6 200.6h.8M76.3 170.3h.8M65.1 194.5h.8M47.6 200.8h.8M63.2 191.9h.8M75.9 176.3h.8M42.3 203.5h.8M25.4 172.1h.8M23.0 175.8h.8M71.1 189.8h.8M44.5 201.9h.8M26.1 170.0h.8M76.6 181.9h.8M45.2 209.3h.8M72.9 185.5h.8M50.1 200.9h.8M63.6 195.5h.8M74.7 175.6h.8M67.4 168.4h.8M57.8 203.0h.8M28.4 167.9h.8M28.6 167.7h.8M69.8 176.6h.8M63.6 196.9h.8M52.9 197.8h.8M34.5 203.1h.8M22.5 186.8h.8M70.1 182.8h.8M24.3 195.5h.8M25.4 174.6h.8M63.8 167.2h.8M31.8 196.1h.8M22.6 189.8h.8M25.2 192.6h.8M41.3 204.6h.8M72.1 180.0h.8M49.9 203.1h.8M76.9 181.2h.8M72.8 180.9h.8M70.2 186.0h.8M22.8 171.7h.8M41.4 204.4h.8M69.7 186.0h.8M27.5 201.4h.8M53.0 199.8h.8M63.8 194.6h.8M63.5 170.2h.8M73.9 179.3h.8M70.9 179.6h.8M27.3 167.4h.8M75.7 172.7h.8M49.0 207.1h.8M50.2 199.8h.8M24.3 192.1h.8M23.1 196.3h.8M77.1 177.2h.8M69.2 171.0h.8M51.8 202.6h.8M31.9 197.8h.8M67.3 169.8h.8M41.2 202.4h.8M30.1 167.8h.8M64.5 193.4h.8M73.6 175.5h.8M74.5 170.4h.8M70.3 176.2h.8M28.3 194.0h.8M73.3 170.8h.8M73.6 185.8h.8M42.3 203.2h.8M67.6 169.3h.8M73.0 171.3h.8M41.5 205.2h.8M21.5 192.8h.8M50.1 203.5h.8M56.8 198.5h.8M36.7 200.0h.8M24.9 177.0h.8M76.1 177.0h.8M24.3 172.0h.8M66.3 171.0h.8M60.1 197.8h.8M75.2 176.3h.8M63.2 169.4h.8M66.8 171.6h.8M63.1 167.9h.8M21.9 178.8h.8M68.5 187.6h.8M71.1 193.8h.8M21.4 188.5h.8M57.3 198.2h.8M23.4 179.9h.8M31.0 200.2h.8M52.5 200.9h.8M35.6 203.4h.8M73.6 171.8h.8M30.0 202.0h.8M23.6 179.6h.8M60.3 200.9h.8M35.3 202.5h.8M35.0 199.3h.8M59.3 198.4h.8M31.8 201.9h.8M56.7 201.0h.8M71.3 184.6h.8M72.7 187.1h.8M22.9 183.6h.8M71.8 171.2h.8M27.0 193.9h.8M71.9 177.9h.8M43.5 203.4h.8M27.1 169.0h.8M21.7 189.4h.8M53.8 199.8h.8M68.0 170.9h.8M37.2 212.5h.8M70.3 183.8h.8M39.8 202.3h.8M31.4 202.4h.8M71.1 171.6h.8M57.8 199.6h.8M75.1 172.2h.8M57.5 201.7h.8M70.9 174.1h.8M49.6 205.6h.8M63.8 170.3h.8M75.7 181.5h.8M33.0 168.1h.8M22.3 180.1h.8M42.4 206.6h.8M60.7 193.1h.8M43.5 202.7h.8M73.1 169.8h.8M65.5 168.7h.8M43.8 203.8h.8M48.5 200.2h.8M22.6 180.5h.8M73.7 181.8h.8M28.5 197.8h.8M68.1 189.0h.8M24.9 197.1h.8M25.2 173.3h.8M71.0 189.8h.8M74.9 173.3h.8M67.2 168.5h.8M39.9 205.6h.8M28.1 196.4h.8M38.8 207.6h.8M47.9 202.0h.8M21.3 194.4h.8M30.6 201.5h.8M59.4 198.9h.8M27.8 195.7h.8M63.8 193.5h.8M65.0 192.2h.8M31.9 168.0h.8M70.2 190.4h.8M39.5 207.9h.8M35.0 205.9h.8M22.5 177.5h.8M39.8 203.3h.8M28.9 198.6h.8M67.9 186.7h.8M62.1 195.3h.8M62.8 169.1h.8M28.0 194.5h.8M25.0 191.8h.8M61.8 194.1h.8M54.7 198.9h.8M32.0 202.6h.8M45.5 205.8h.8M73.5 175.4h.8M68.0 192.5h.8M23.6 188.4h.8M23.2 192.1h.8M64.8 191.6h.8M21.8 178.9h.8M24.1 175.1h.8M67.6 189.4h.8M65.7 189.1h.8M25.5 196.1h.8M52.6 203.8h.8M46.9 203.3h.8M66.9 172.7h.8M71.8 187.2h.8M27.2 168.4h.8M70.2 173.9h.8M60.3 198.6h.8M52.9 202.5h.8M21.9 181.6h.8M67.8 174.4h.8M37.1 206.5h.8M22.4 179.8h.8M25.3 194.7h.8M70.6 171.6h.8M23.7 180.2h.8M58.8 193.6h.8M57.2 196.5h.8M72.3 187.2h.8M51.5 196.9h.8M72.4 174.0h.8M29.6 167.7h.8M68.6 173.4h.8M21.4 173.1h.8M73.3 177.6h.8M54.7 197.3h.8M47.8 201.5h.8M27.5 194.4h.8M49.2 209.4h.8M67.5 173.1h.8M22.3 189.4h.8M21.9 171.3h.8M69.1 175.2h.8M23.3 192.2h.8M65.6 167.6h.8M50.7 167.3h.8M28.5 206.3h.8M51.7 204.3h.8M62.4 168.3h.8M35.6 213.0h.8M32.1 198.4h.8M23.7 179.4h.8M55.3 202.3h.8M28.4 169.0h.8M69.5 176.1h.8M70.8 179.3h.8M26.7 167.3h.8M66.8 170.4h.8M43.4 205.8h.8M59.5 194.6h.8M70.8 179.7h.8M52.5 209.3h.8M47.4 206.5h.8M70.5 174.3h.8M54.5 199.6h.8M23.7 192.3h.8M36.7 202.0h.8M67.1 197.2h.8M65.7 171.7h.8M71.2 171.2h.8M71.7 180.7h.8M59.9 194.1h.8M37.6 206.2h.8M59.1 195.3h.8M59.9 168.0h.8M75.8 182.9h.8M48.8 204.8h.8M64.4 190.7h.8M73.5 188.1h.8M27.2 192.0h.8M51.0 201.9h.8M23.9 183.0h.8M48.6 203.8h.8M26.2 197.5h.8M30.8 200.7h.8M65.4 170.3h.8M21.4 187.4h.8M27.3 191.5h.8M25.5 167.9h.8M37.0 205.1h.8M39.6 203.5h.8M26.1 194.4h.8M25.7 172.4h.8M28.4 169.8h.8M63.9 191.7h.8M63.4 192.2h.8M71.0 178.6h.8M35.2 208.4h.8M63.1 169.4h.8M57.5 168.2h.8M23.5 167.7h.8M22.6 175.0h.8M62.5 192.3h.8M68.1 185.2h.8M25.0 174.4h.8M43.6 206.2h.8M66.1 171.7h.8M68.8 171.3h.8M45.3 211.2h.8M44.7 206.0h.8M34.6 203.8h.8M50.7 201.8h.8M65.2 171.0h.8M25.4 194.4h.8M70.3 182.4h.8M65.3 195.5h.8M71.8 179.1h.8M58.4 201.8h.8M40.2 205.4h.8M31.9 197.4h.8M53.1 200.7h.8M61.2 169.5h.8M63.4 167.7h.8M24.5 167.9h.8M65.8 194.5h.8M22.7 178.3h.8M32.6 205.4h.8M61.0 167.4h.8M73.4 182.4h.8M72.4 178.0h.8M57.7 196.3h.8M43.4 205.0h.8M59.0 198.2h.8M23.9 193.4h.8M24.2 194.6h.8M41.5 204.8h.8M69.1 174.6h.8M23.2 192.0h.8M70.3 191.5h.8M71.7 176.6h.8M55.2 199.5h.8M58.2 196.0h.8M23.8 187.1h.8M64.2 192.9h.8M56.9 206.7h.8M42.9 209.7h.8M68.8 169.9h.8M24.7 169.4h.8M43.0 206.2h.8M30.3 169.9h.8M71.8 187.5h.8M39.0 204.0h.8M39.7 209.0h.8M64.0 205.6h.8M24.7 194.0h.8M24.3 176.2h.8M27.0 171.6h.8M35.8 210.6h.8M45.4 204.1h.8M45.3 202.4h.8M39.1 204.8h.8M36.4 201.5h.8M60.2 194.2h.8M73.1 170.5h.8M55.2 200.1h.8M37.7 206.8h.8M69.0 187.9h.8M67.0 172.9h.8M34.3 199.9h.8M63.7 193.6h.8M29.2 196.3h.8M21.8 175.6h.8M72.5 188.4h.8M68.2 187.6h.8M70.0 183.9h.8M70.0 193.2h.8M29.1 199.5h.8M63.2 169.5h.8M72.9 178.5h.8M24.5 195.0h.8M32.5 200.6h.8M58.3 195.6h.8M48.5 207.4h.8M72.6 184.2h.8M25.1 177.3h.8M24.9 199.1h.8M69.1 193.7h.8M27.3 191.0h.8M63.5 191.6h.8M70.0 171.7h.8M58.9 199.8h.8M21.6 192.0h.8M69.7 170.8h.8M27.5 198.0h.8M69.2 172.7h.8M56.1 196.2h.8M42.5 212.6h.8M71.6 173.1h.8M73.6 179.5h.8M74.1 186.4h.8M21.5 186.7h.8M75.2 179.3h.8M25.2 193.7h.8M23.6 169.2h.8M22.9 172.6h.8M53.9 197.4h.8M25.7 173.4h.8M72.2 181.5h.8M49.4 204.5h.8M38.0 206.3h.8M65.3 169.8h.8M24.4 184.4h.8M47.8 201.8h.8M68.4 187.6h.8M21.2 179.7h.8M72.9 182.6h.8M60.2 193.9h.8M64.0 189.9h.8M71.7 176.4h.8M35.9 200.8h.8M65.2 169.4h.8M73.4 181.3h.8M47.4 203.0h.8M37.7 207.7h.8M64.6 193.4h.8M46.8 203.5h.8M25.3 199.6h.8M21.5 191.6h.8M67.0 169.5h.8M58.8 197.3h.8M57.1 196.6h.8M71.1 173.6h.8M51.1 199.2h.8M21.9 189.6h.8M24.1 188.5h.8M39.4 209.0h.8M25.8 171.1h.8M27.3 198.3h.8M73.3 183.7h.8M24.5 186.1h.8M47.0 201.6h.8M36.8 204.1h.8M72.1 176.5h.8M78.2 182.7h.8M27.3 171.5h.8M27.2 169.0h.8M27.0 201.3h.8M71.8 184.9h.8M69.4 176.3h.8M65.5 193.4h.8M29.2 197.6h.8M37.5 203.7h.8M77.2 173.0h.8M65.5 171.9h.8M33.2 207.0h.8M69.6 174.6h.8M66.8 173.5h.8M21.7 186.9h.8M71.6 179.8h.8M73.5 185.2h.8M63.3 169.1h.8M57.2 195.6h.8M31.3 199.6h.8M77.2 182.6h.8M24.0 192.6h.8M72.5 184.1h.8M24.2 186.6h.8M76.6 185.2h.8M71.8 180.0h.8M66.5 195.6h.8M22.2 177.6h.8M66.1 193.1h.8M52.2 201.7h.8M57.9 211.1h.8M31.1 168.7h.8M32.1 167.7h.8M57.7 198.1h.8M60.1 196.2h.8M41.4 203.2h.8M68.7 186.9h.8M64.4 169.8h.8M23.5 183.1h.8M46.6 210.3h.8M23.1 189.3h.8M31.1 212.4h.8M29.2 198.0h.8M71.8 180.5h.8M71.7 187.2h.8M71.9 180.9h.8M43.9 203.4h.8M60.7 194.2h.8M61.3 168.3h.8M57.4 195.7h.8M39.2 207.6h.8M73.1 181.2h.8M70.0 173.8h.8M39.0 207.6h.8M61.3 201.5h.8M63.2 167.7h.8M52.8 201.5h.8M60.7 194.6h.8M26.5 192.9h.8M21.9 180.2h.8M51.1 199.3h.8M52.3 199.5h.8M25.1 176.0h.8M31.1 199.2h.8M48.6 199.9h.8M26.7 193.5h.8M25.3 169.6h.8M27.6 196.8h.8M23.7 183.6h.8M63.8 168.0h.8M59.2 167.6h.8M27.8 170.2h.8M23.3 193.8h.8M71.4 179.8h.8M28.4 168.4h.8M35.8 208.5h.8M69.5 192.1h.8M74.1 177.1h.8M70.3 177.7h.8M26.4 194.4h.8M23.5 172.7h.8M70.5 174.6h.8M23.7 195.0h.8M47.6 205.7h.8M43.4 206.4h.8M54.9 199.8h.8M67.2 171.0h.8M55.0 198.3h.8M53.3 197.7h.8M60.7 197.8h.8M57.7 201.9h.8M75.9 183.4h.8M68.1 189.6h.8M68.8 187.4h.8M27.0 195.5h.8M70.5 177.0h.8M27.4 196.3h.8M60.8 167.6h.8M64.9 169.2h.8M30.4 168.1h.8M69.6 184.9h.8M50.6 202.0h.8M67.2 172.2h.8M26.7 168.7h.8M43.3 204.4h.8M47.3 203.2h.8M65.7 173.0h.8M55.3 198.5h.8M31.7 198.3h.8M25.8 169.4h.8M30.7 199.7h.8M42.5 206.7h.8M44.9 207.4h.8M69.2 190.1h.8M25.8 201.9h.8M25.6 170.4h.8M39.0 204.0h.8M22.4 171.4h.8M25.4 198.0h.8M73.7 187.6h.8M30.7 212.5h.8M71.1 190.7h.8M63.7 193.8h.8M62.3 168.0h.8M22.6 170.0h.8M55.4 197.8h.8M73.8 174.3h.8M22.7 170.2h.8M70.2 186.8h.8M50.7 203.4h.8M32.4 199.3h.8M72.3 175.6h.8M47.4 199.8h.8M71.7 182.3h.8M28.5 201.5h.8M62.9 195.0h.8M35.7 202.7h.8M46.0 204.6h.8M46.7 205.1h.8M26.2 171.0h.8M39.5 202.7h.8M65.7 193.8h.8M72.8 188.4h.8M31.0 206.7h.8M71.8 181.9h.8M38.3 205.3h.8M69.9 185.0h.8M22.9 203.6h.8M52.9 197.8h.8M24.2 189.0h.8M42.4 205.5h.8M21.6 184.3h.8M74.0 189.9h.8M26.0 168.9h.8M68.4 188.0h.8M25.2 188.3h.8M23.7 172.0h.8M75.3 186.5h.8M56.0 195.7h.8M25.7 202.9h.8M68.6 194.3h.8M28.6 170.2h.8M66.1 190.3h.8M69.9 176.3h.8M59.4 193.6h.8M27.1 172.0h.8M24.2 176.0h.8M23.7 177.6h.8M60.2 198.7h.8M21.8 181.7h.8M56.1 203.2h.8M51.3 202.9h.8M31.8 202.4h.8M38.0 205.9h.8M61.8 193.9h.8M35.0 167.2h.8M23.6 193.1h.8M63.3 194.4h.8M36.0 200.6h.8M24.6 194.6h.8M45.5 203.2h.8M62.1 191.7h.8M22.5 191.6h.8M25.4 172.0h.8M68.6 171.7h.8M71.9 189.4h.8M60.5 202.1h.8M70.0 174.5h.8M73.4 171.5h.8M33.0 200.7h.8M65.0 167.1h.8M23.0 173.5h.8M82.1 181.8h.8M67.3 187.0h.8M56.4 197.8h.8M70.6 175.5h.8M72.1 184.8h.8M39.8 211.1h.8M63.3 196.2h.8M66.7 172.3h.8M56.6 201.4h.8M64.9 193.0h.8M35.2 200.4h.8M76.4 177.7h.8M69.4 172.8h.8M23.9 174.6h.8M23.8 183.3h.8M67.9 188.7h.8M29.6 199.6h.8M24.1 169.7h.8M61.3 194.3h.8M59.6 198.8h.8M38.1 205.4h.8M65.1 171.4h.8M47.7 206.0h.8M56.5 195.7h.8M64.7 192.1h.8M49.9 201.8h.8M67.2 194.0h.8M23.2 179.2h.8M23.3 175.7h.8M32.9 201.2h.8M66.0 191.3h.8M68.0 187.2h.8M42.0 200.9h.8M66.7 198.0h.8M72.9 183.9h.8M24.0 174.7h.8M30.5 196.8h.8M28.6 200.4h.8M23.0 173.5h.8M67.8 188.8h.8M34.0 209.0h.8M47.0 200.6h.8M63.1 167.6h.8M74.9 181.0h.8M50.0 199.6h.8M65.5 193.9h.8M70.8 168.3h.8M26.6 196.7h.8M33.6 206.7h.8M63.4 191.9h.8M54.9 197.6h.8M43.3 203.2h.8M25.6 196.3h.8M32.8 198.1h.8M24.0 179.4h.8M28.8 194.9h.8M56.1 199.2h.8M22.6 177.9h.8M73.1 184.2h.8M30.2 167.1h.8M28.4 196.4h.8M58.5 198.1h.8M73.7 181.8h.8M32.6 201.2h.8M36.4 203.0h.8M76.7 186.1h.8M74.7 186.7h.8M23.5 183.9h.8M75.5 185.9h.8M22.4 169.2h.8M35.2 202.4h.8M67.0 196.1h.8M61.0 197.5h.8M23.8 175.6h.8M68.4 188.2h.8M47.1 206.5h.8M71.1 168.0h.8M60.1 197.7h.8M72.9 181.5h.8M47.8 204.0h.8M72.6 179.7h.8M49.9 203.8h.8M64.2 194.8h.8M67.4 169.1h.8M69.9 189.2h.8M60.4 194.8h.8M71.2 172.8h.8M23.6 185.8h.8M23.4 186.1h.8M72.5 173.3h.8M23.4 171.1h.8M64.9 167.8h.8M37.6 205.6h.8M71.0 181.1h.8M61.1 197.4h.8M73.0 176.0h.8M38.5 215.1h.8M27.7 169.7h.8M22.4 171.7h.8M46.4 202.2h.8M67.1 174.7h.8M74.6 192.0h.8M28.4 211.4h.8M54.6 202.1h.8M60.0 196.9h.8M37.9 204.5h.8M74.4 186.5h.8M34.3 200.3h.8M36.6 202.7h.8M72.9 191.6h.8M28.3 194.9h.8M66.5 188.4h.8M45.9 204.3h.8M71.7 172.5h.8M66.1 189.0h.8M73.0 182.2h.8M70.9 171.9h.8M23.5 182.5h.8M31.3 198.5h.8M63.8 191.8h.8M75.3 176.6h.8M76.1 187.4h.8M66.7 171.1h.8M24.1 188.5h.8M29.9 205.1h.8M65.6 167.4h.8M25.4 169.8h.8M24.1 176.9h.8M22.8 184.9h.8M42.6 208.1h.8M73.0 179.0h.8M70.3 187.3h.8M74.1 176.9h.8M26.2 198.2h.8M28.7 194.6h.8M71.4 179.8h.8M74.5 180.5h.8M69.1 185.6h.8M27.0 171.0h.8M30.5 198.0h.8M72.3 186.5h.8M36.2 201.5h.8M22.6 174.8h.8M23.3 183.5h.8M50.3 203.5h.8M62.7 195.1h.8M24.1 185.7h.8M39.9 204.8h.8M24.7 186.7h.8M38.2 206.7h.8M31.9 200.3h.8M34.8 211.3h.8M81.7 181.7h.8M64.9 190.4h.8M32.1 204.6h.8M27.5 168.2h.8M27.4 200.0h.8M75.6 187.0h.8M50.8 200.4h.8M24.7 189.0h.8M62.5 167.3h.8M74.7 179.8h.8M36.9 210.8h.8M67.5 188.2h.8M33.9 209.9h.8M69.5 176.7h.8M49.7 207.1h.8M26.1 168.2h.8M39.7 203.1h.8M27.5 169.5h.8M27.7 169.6h.8M58.3 201.2h.8M31.3 168.0h.8M25.0 192.7h.8M23.7 174.7h.8M21.3 180.1h.8M68.5 186.7h.8M71.6 177.9h.8M23.3 181.9h.8M73.6 177.7h.8M64.9 195.9h.8M55.4 199.8h.8M24.5 184.3h.8M78.3 181.6h.8M71.7 182.5h.8M65.5 171.2h.8M39.9 204.2h.8M50.0 198.4h.8M68.3 187.3h.8M24.2 170.1h.8M24.4 173.4h.8M30.9 197.1h.8M23.3 182.4h.8M77.3 180.1h.8M73.5 183.8h.8M64.3 193.9h.8M56.0 196.7h.8M24.4 172.2h.8M35.2 202.7h.8M78.5 181.9h.8M66.2 195.2h.8M28.9 199.1h.8M69.8 190.9h.8M60.9 168.7h.8M64.9 169.6h.8M43.4 207.9h.8M21.4 188.8h.8M50.6 201.8h.8M71.0 179.5h.8M73.1 174.2h.8M34.0 201.6h.8M31.8 167.4h.8M24.6 189.7h.8M64.8 169.0h.8M71.3 187.4h.8M69.9 175.4h.8M28.5 203.7h.8M21.6 196.9h.8M27.9 198.0h.8M60.8 193.3h.8M70.3 193.5h.8M21.4 190.6h.8M28.5 167.9h.8M51.8 205.9h.8M25.9 174.4h.8M69.7 176.5h.8M26.0 194.1h.8M74.3 169.4h.8M41.1 203.0h.8M46.7 204.0h.8M34.1 210.8h.8M67.4 188.8h.8M39.8 203.4h.8M44.8 204.0h.8M62.2 168.3h.8M33.4 205.1h.8M72.8 187.2h.8M48.3 205.3h.8M71.2 189.4h.8M46.0 203.0h.8M74.8 179.8h.8M74.7 177.3h.8M70.0 167.6h.8M62.1 197.4h.8M72.8 173.7h.8M72.0 182.3h.8M24.9 175.7h.8M41.2 205.0h.8M24.0 193.7h.8M69.9 177.6h.8M61.0 169.1h.8M62.9 204.6h.8M38.1 211.0h.8M24.4 178.7h.8M65.6 189.7h.8M65.1 169.5h.8M23.3 173.6h.8M29.9 195.9h.8M38.6 203.5h.8M24.4 186.5h.8M71.1 175.4h.8M24.3 172.6h.8M57.9 199.1h.8M21.5 179.9h.8M23.1 190.1h.8M29.3 198.0h.8M22.0 173.2h.8M69.6 186.2h.8M39.3 203.5h.8M70.8 183.7h.8M58.9 195.7h.8M23.1 177.8h.8M68.5 185.8h.8M24.1 183.4h.8M65.4 195.4h.8M37.2 204.1h.8M29.5 198.4h.8M62.6 194.2h.8M62.9 192.2h.8M48.4 211.7h.8M21.9 187.9h.8M22.6 192.4h.8M23.0 189.3h.8M72.2 179.8h.8M27.5 171.9h.8M41.0 206.4h.8M71.3 178.3h.8M21.8 184.6h.8M74.1 182.7h.8M35.9 206.2h.8M73.8 187.9h.8M74.1 176.6h.8M65.6 192.6h.8M44.1 205.2h.8M63.9 201.4h.8M69.3 168.2h.8M21.7 176.4h.8M68.2 193.6h.8M37.2 201.3h.8" fill="none" stroke="#000" stroke-width="0.8"/>
<path d="M69.3 208.4h.8M32.1 203.0h.8M72.7 220.0h.8M39.6 200.8h.8M60.2 204.8h.8M26.5 224.7h.8M40.1 203.6h.8M38.0 202.2h.8M22.6 206.1h.8M68.3 223.1h.8M66.2 221.6h.8M57.6 223.1h.8M43.5 198.5h.8M25.5 202.8h.8M52.5 203.6h.8M33.1 204.5h.8M54.7 225.5h.8M69.0 207.5h.8M32.7 203.8h.8M40.2 226.2h.8M74.9 219.1h.8M79.4 217.3h.8M42.7 226.3h.8M38.7 202.8h.8M73.8 206.2h.8M76.6 212.6h.8M32.6 205.2h.8M52.7 200.8h.8M71.6 207.7h.8M31.0 223.0h.8M28.8 205.2h.8M28.2 201.4h.8M33.8 223.8h.8M24.0 215.8h.8M67.5 222.1h.8M23.5 215.9h.8M31.8 204.1h.8M25.2 224.7h.8M54.2 224.4h.8M44.9 224.8h.8M70.1 222.8h.8M80.8 215.0h.8M65.1 204.2h.8M35.4 200.2h.8M28.8 225.3h.8M25.8 221.8h.8M25.1 226.9h.8M35.3 203.4h.8M69.3 208.6h.8M40.0 203.2h.8M73.9 212.7h.8M69.6 205.5h.8M50.4 224.6h.8M32.8 225.9h.8M78.1 211.4h.8M73.6 210.5h.8M57.7 203.2h.8M48.3 226.6h.8M67.9 222.8h.8M59.8 203.7h.8M74.8 217.4h.8M59.9 200.3h.8M73.7 209.2h.8M39.7 224.0h.8M57.2 201.8h.8M59.8 223.3h.8M25.9 203.8h.8M51.9 203.7h.8M23.5 207.4h.8M34.5 226.0h.8M22.5 207.9h.8M67.0 207.6h.8M22.6 219.6h.8M65.4 204.3h.8M59.2 199.3h.8M63.3 204.4h.8M29.1 222.6h.8M42.6 226.0h.8M50.4 198.3h.8M68.4 206.2h.8M76.3 219.0h.8M21.7 207.5h.8M67.4 221.5h.8M40.8 198.8h.8M29.5 203.3h.8M27.2 223.0h.8M49.6 203.2h.8M56.6 226.1h.8M64.8 204.1h.8M23.6 219.5h.8M39.2 198.6h.8M23.7 204.1h.8M35.0 227.1h.8M68.9 207.0h.8M22.7 209.9h.8M74.9 216.6h.8M75.7 216.7h.8M25.3 223.3h.8M34.3 224.2h.8M32.3 206.1h.8M77.3 218.3h.8M24.7 219.5h.8M52.8 223.9h.8M25.5 206.7h.8M59.2 204.3h.8M52.6 199.6h.8M44.0 201.7h.8M52.9 202.2h.8M62.5 223.5h.8M29.8 206.2h.8M36.9 203.1h.8M36.8 222.9h.8M62.9 203.8h.8M63.4 224.8h.8M60.0 221.3h.8M68.5 220.3h.8M41.1 203.3h.8M29.7 223.4h.8M54.1 223.5h.8M47.1 198.6h.8M66.6 224.0h.8M40.1 226.9h.8M71.5 226.3h.8M65.1 203.4h.8M43.1 202.7h.8M74.1 212.5h.8M48.6 201.7h.8M70.5 218.5h.8M60.3 206.8h.8M69.6 204.7h.8M47.1 226.9h.8M57.5 203.2h.8M64.7 224.4h.8M54.2 199.4h.8M24.1 207.3h.8M59.9 203.8h.8M43.9 200.5h.8M23.4 219.1h.8M72.4 207.0h.8M41.8 225.5h.8M33.1 202.6h.8M26.4 222.9h.8M26.5 225.1h.8M31.5 204.0h.8M43.9 201.1h.8M70.2 219.3h.8M65.4 205.0h.8M69.0 221.4h.8M75.9 215.8h.8M74.6 210.4h.8M64.5 200.2h.8M71.8 220.1h.8M29.6 205.4h.8M70.7 218.6h.8M73.0 211.1h.8M76.7 210.1h.8M47.1 224.9h.8M33.5 226.0h.8M56.6 226.4h.8M53.4 203.1h.8M38.7 225.7h.8M76.3 218.0h.8M76.7 219.8h.8M43.6 223.0h.8M27.6 224.1h.8M61.6 221.9h.8M72.9 208.4h.8M71.8 210.6h.8M70.7 207.5h.8M67.4 221.6h.8M77.1 211.2h.8M56.9 202.6h.8M32.3 204.3h.8M31.7 203.2h.8M29.8 202.9h.8M43.4 225.6h.8M35.2 202.8h.8M51.5 201.1h.8M79.4 211.1h.8M64.9 205.2h.8M34.8 226.4h.8M24.4 208.0h.8M64.5 225.0h.8M23.6 200.5h.8M74.0 214.4h.8M72.4 207.0h.8M46.0 198.9h.8M62.8 205.9h.8M45.7 203.1h.8M28.3 206.4h.8M74.5 207.0h.8M73.1 218.1h.8M39.6 224.0h.8M76.3 215.5h.8M22.3 210.6h.8M25.3 223.8h.8M68.2 223.0h.8M21.8 213.9h.8M66.5 207.6h.8M61.0 199.5h.8M28.5 205.0h.8M32.1 226.4h.8M65.7 206.0h.8M22.1 215.2h.8M26.4 208.1h.8M22.1 216.4h.8M58.9 204.1h.8M27.1 206.4h.8M56.8 225.8h.8M76.1 209.1h.8M61.8 202.5h.8M37.8 204.6h.8M37.1 203.4h.8M59.4 197.0h.8M22.2 220.4h.8M49.3 225.5h.8M41.0 202.4h.8M31.1 225.2h.8M69.7 205.5h.8M24.1 221.7h.8M36.2 226.2h.8M39.8 204.4h.8M61.2 227.1h.8M71.0 208.1h.8M39.8 226.2h.8M34.6 204.3h.8M24.4 220.2h.8M72.5 217.4h.8M23.4 221.8h.8M24.2 218.7h.8M67.6 222.4h.8M66.9 207.3h.8M55.0 224.4h.8M51.7 203.2h.8M55.5 204.0h.8M30.6 202.3h.8M66.2 206.0h.8M49.1 226.9h.8M22.8 218.9h.8M81.6 220.2h.8M41.4 224.6h.8M30.9 225.0h.8M23.4 205.9h.8M67.4 221.4h.8M54.0 202.1h.8M76.8 212.5h.8M24.6 223.3h.8M63.3 205.1h.8M29.6 204.0h.8M24.2 208.7h.8M33.5 203.2h.8M38.7 224.9h.8M76.3 215.5h.8M66.8 205.5h.8M27.0 205.9h.8M78.7 216.7h.8M33.9 205.1h.8M31.5 222.1h.8M64.6 223.8h.8M69.0 220.1h.8M67.6 207.3h.8M27.1 220.7h.8M23.2 218.0h.8M25.5 204.5h.8M57.1 197.2h.8M60.0 223.8h.8M63.8 205.6h.8M68.8 207.2h.8M23.3 209.2h.8M75.2 206.5h.8M23.2 222.2h.8M56.2 201.8h.8M34.5 203.6h.8M73.6 207.6h.8M27.9 222.4h.8M66.3 200.9h.8M64.1 221.4h.8M30.6 204.7h.8M26.2 225.5h.8M40.3 202.3h.8M60.1 203.7h.8M76.2 213.7h.8M73.0 220.0h.8M74.2 208.0h.8M27.8 205.6h.8M32.1 204.0h.8M67.8 207.8h.8M22.8 208.0h.8M40.5 204.4h.8M65.0 222.8h.8M31.6 204.0h.8M23.2 217.7h.8M64.1 205.6h.8M29.1 224.9h.8M41.6 202.9h.8M32.2 205.4h.8M64.1 202.6h.8M49.6 203.4h.8M29.5 198.7h.8M56.1 223.5h.8M29.3 222.8h.8M43.5 225.4h.8M32.1 204.1h.8M64.3 204.0h.8M54.2 201.3h.8M76.4 209.3h.8M68.4 220.0h.8M73.6 209.9h.8M72.8 217.5h.8M31.4 197.8h.8M42.5 203.8h.8M71.6 218.4h.8M60.9 204.9h.8M78.4 214.3h.8M24.6 220.0h.8M23.1 212.2h.8M75.0 211.5h.8M76.1 211.4h.8M27.0 205.3h.8M69.7 219.8h.8M47.5 224.2h.8M36.8 204.4h.8M68.7 206.2h.8M72.9 211.0h.8M53.4 202.7h.8M25.8 206.3h.8M30.0 202.7h.8M30.2 223.1h.8M31.0 224.7h.8M63.7 207.6h.8M69.1 221.0h.8M22.7 220.7h.8M23.6 215.2h.8M51.5 197.8h.8M75.1 214.9h.8M73.9 209.9h.8M23.8 220.5h.8M44.9 226.9h.8M48.4 226.0h.8M69.4 220.7h.8M48.9 203.8h.8M24.7 222.2h.8M68.4 206.5h.8M22.0 217.5h.8M32.3 202.2h.8M73.0 205.4h.8M52.2 227.2h.8M63.3 203.9h.8M41.1 200.8h.8M50.6 200.2h.8M58.2 223.3h.8M29.6 201.3h.8M50.5 195.9h.8M22.8 205.8h.8M70.0 208.8h.8M60.1 223.6h.8M71.1 221.6h.8M30.0 223.9h.8M76.7 216.6h.8M63.1 205.5h.8M56.2 201.6h.8M67.5 205.9h.8M62.5 223.3h.8M72.8 209.3h.8M47.2 196.8h.8M60.9 201.1h.8M64.4 226.0h.8M78.0 215.8h.8M21.5 214.7h.8M42.8 203.9h.8M32.5 224.7h.8M56.8 204.0h.8M69.5 220.8h.8M22.0 219.7h.8M59.4 205.0h.8M74.7 211.8h.8M70.8 222.5h.8M28.3 224.9h.8M73.8 221.9h.8M39.3 199.9h.8M74.9 212.6h.8M71.7 222.2h.8M44.2 226.9h.8M30.2 206.6h.8M24.3 220.9h.8M50.1 204.4h.8M25.6 208.5h.8M77.1 214.2h.8M61.6 203.5h.8M66.3 203.8h.8M24.4 208.5h.8M78.0 211.9h.8M75.9 217.9h.8M36.9 225.0h.8M25.2 222.6h.8M57.9 200.8h.8M35.2 226.2h.8M42.8 199.3h.8M57.1 203.8h.8M30.5 224.2h.8M81.8 212.6h.8M43.1 203.5h.8M26.3 201.7h.8M74.7 214.0h.8M58.6 199.9h.8M28.2 203.5h.8M42.1 225.1h.8M72.7 218.2h.8M76.6 211.8h.8M23.5 209.3h.8M62.7 205.0h.8M79.4 217.9h.8M66.8 205.0h.8M74.6 206.8h.8M74.4 213.1h.8M77.4 204.8h.8M57.0 206.3h.8M65.3 222.4h.8M42.4 194.5h.8M36.3 223.8h.8M74.5 209.5h.8M59.1 204.3h.8M73.8 206.2h.8M57.2 200.9h.8M56.5 205.3h.8M60.0 224.5h.8M77.1 218.7h.8M74.2 221.5h.8M31.0 225.0h.8M71.3 219.1h.8M29.1 204.2h.8M64.6 203.1h.8M22.8 217.2h.8M53.1 225.7h.8M74.9 215.4h.8M22.8 211.1h.8M72.6 210.2h.8M76.4 220.8h.8M70.9 208.8h.8M51.6 224.3h.8M26.0 207.9h.8M34.0 225.1h.8M80.1 214.2h.8M68.1 206.4h.8M43.1 224.8h.8M55.9 226.9h.8M44.3 201.4h.8M41.1 203.2h.8M43.4 200.0h.8M72.3 217.9h.8M36.2 201.0h.8M63.3 204.8h.8M50.2 200.6h.8M62.3 206.2h.8M26.0 205.8h.8M42.9 204.0h.8M61.3 224.2h.8M22.0 225.6h.8M81.1 217.2h.8M33.2 226.4h.8M59.9 200.0h.8M58.5 222.5h.8M75.2 217.1h.8M58.0 203.3h.8M28.5 222.7h.8M55.4 200.9h.8M43.4 202.4h.8M54.3 199.3h.8M38.7 224.6h.8M55.8 202.3h.8M69.8 207.1h.8M63.6 223.6h.8M75.0 219.7h.8M70.5 218.5h.8M45.6 201.8h.8M24.3 204.0h.8M49.0 224.2h.8M27.9 225.1h.8M26.3 221.4h.8M29.4 224.2h.8M67.6 203.8h.8M26.8 206.6h.8M42.4 224.4h.8M40.1 203.6h.8M65.9 206.1h.8M72.6 208.0h.8M31.5 199.8h.8M35.6 199.3h.8M45.4 203.6h.8M73.8 214.7h.8M77.6 208.1h.8M63.4 221.7h.8M32.3 222.1h.8M23.5 208.4h.8M54.3 224.5h.8M57.2 224.1h.8M27.4 206.1h.8M76.8 213.5h.8M43.4 226.6h.8M75.6 218.8h.8M77.2 213.5h.8M61.2 205.2h.8M38.9 224.7h.8M23.2 220.2h.8M42.2 203.8h.8M28.4 204.2h.8M60.8 223.7h.8M28.5 206.2h.8M66.0 222.2h.8M23.9 209.6h.8M52.6 201.9h.8M45.1 199.8h.8M53.4 203.7h.8M26.6 222.8h.8M25.0 223.1h.8M60.8 204.6h.8M48.7 201.3h.8M31.4 205.1h.8M52.2 201.7h.8M75.0 210.7h.8M31.6 203.9h.8M75.3 211.4h.8M53.6 200.4h.8M43.0 202.0h.8M70.7 205.4h.8M35.0 203.7h.8M33.8 224.9h.8M48.2 226.9h.8M34.3 203.9h.8M53.7 202.8h.8M66.8 207.8h.8M69.2 205.5h.8M44.5 224.0h.8M76.3 208.2h.8M25.7 202.8h.8M58.5 200.3h.8M34.9 202.2h.8M73.8 217.7h.8M56.7 223.7h.8M72.1 208.6h.8M49.1 200.1h.8M28.4 222.9h.8M70.7 221.4h.8M28.2 221.9h.8M73.8 217.3h.8M31.4 223.5h.8M53.6 204.2h.8M35.1 225.4h.8M63.0 207.3h.8M53.2 203.6h.8M60.5 199.3h.8M56.4 202.3h.8M60.5 226.8h.8M70.9 208.4h.8M40.2 223.1h.8M36.0 224.6h.8M63.7 204.4h.8M68.4 219.2h.8M68.0 205.0h.8M66.0 221.4h.8M47.3 225.2h.8M66.9 205.0h.8M74.6 219.8h.8M24.0 218.9h.8M49.6 225.1h.8M77.2 211.8h.8M28.9 204.6h.8M38.8 199.6h.8M72.8 214.6h.8M70.0 207.8h.8M73.1 217.2h.8M33.5 224.2h.8M61.6 206.6h.8M59.4 202.0h.8M49.0 201.3h.8M61.2 200.5h.8M37.1 202.5h.8M35.2 204.3h.8M45.5 200.9h.8M21.2 206.0h.8M54.5 205.3h.8M34.4 199.0h.8M65.6 200.6h.8M77.0 213.0h.8M63.9 223.5h.8M23.5 217.3h.8M49.4 226.1h.8M58.8 226.0h.8M69.8 207.6h.8M21.6 219.1h.8M68.8 223.1h.8M38.1 226.6h.8M24.6 218.9h.8M25.9 225.7h.8M26.2 220.6h.8M25.8 223.1h.8M28.0 203.8h.8M54.2 225.8h.8M28.0 223.7h.8M54.8 203.5h.8M72.3 222.3h.8M38.5 203.1h.8M46.5 201.8h.8M24.3 216.3h.8M79.8 222.2h.8M60.3 221.3h.8M44.3 198.9h.8M72.4 221.1h.8M66.9 207.6h.8M32.7 221.7h.8M49.3 201.8h.8M59.0 224.6h.8M68.5 220.8h.8M29.8 222.0h.8M40.8 226.1h.8M67.8 207.2h.8M63.7 221.8h.8M41.3 199.8h.8M21.2 220.9h.8M74.9 211.9h.8M64.8 222.9h.8M53.6 203.5h.8M47.3 202.2h.8M24.9 199.8h.8M73.1 219.5h.8M41.0 224.9h.8M36.3 226.3h.8M62.9 222.2h.8M30.5 205.9h.8M72.7 219.4h.8M70.8 208.2h.8M22.1 222.1h.8M62.1 206.4h.8M77.7 214.1h.8M65.4 222.1h.8M31.7 226.2h.8M51.6 200.0h.8M57.4 222.4h.8M53.2 225.7h.8M67.0 222.5h.8M61.2 203.4h.8M57.7 205.1h.8M33.9 204.5h.8M74.1 206.5h.8M31.6 205.3h.8M33.1 203.7h.8M44.3 201.0h.8M66.4 223.3h.8M65.3 203.0h.8M69.4 202.9h.8M23.6 214.3h.8M57.3 204.7h.8M65.5 224.5h.8M31.1 202.6h.8M43.7 225.9h.8M35.0 222.8h.8M71.2 208.1h.8M46.6 223.8h.8M73.7 217.3h.8M24.9 224.8h.8M67.4 223.3h.8M38.7 226.3h.8M50.1 224.1h.8M30.4 223.1h.8M39.8 203.3h.8M55.2 224.2h.8M77.6 217.0h.8M26.0 220.3h.8M24.2 205.6h.8M69.6 205.4h.8M58.4 224.3h.8M29.0 221.2h.8M60.0 204.4h.8M27.6 207.5h.8M55.4 226.7h.8M42.9 226.8h.8M76.2 210.9h.8M32.4 201.5h.8M60.2 205.5h.8M42.8 201.2h.8M31.2 225.2h.8M50.6 193.6h.8M37.1 223.3h.8M59.1 205.0h.8M22.6 211.9h.8M74.8 220.1h.8M47.5 199.2h.8M69.7 221.0h.8M58.2 202.0h.8M72.0 218.7h.8M49.1 226.2h.8M63.5 204.7h.8M68.8 221.8h.8M70.9 220.5h.8M25.0 207.3h.8M75.1 214.7h.8M28.1 221.3h.8M73.7 209.3h.8M55.1 204.5h.8M28.6 224.8h.8M33.1 224.1h.8M78.1 221.0h.8M23.5 216.7h.8M26.0 203.6h.8M73.4 218.5h.8M26.1 206.7h.8M34.0 201.5h.8M38.0 202.3h.8M76.2 220.3h.8M53.5 200.5h.8M74.8 219.7h.8M23.1 217.2h.8M37.2 204.0h.8M22.2 218.7h.8M30.0 203.1h.8M21.5 215.1h.8M48.6 205.0h.8M39.7 223.7h.8M33.5 205.6h.8M53.5 224.8h.8M23.2 216.8h.8M74.5 214.4h.8M31.1 224.1h.8M41.2 201.1h.8M25.5 222.6h.8M31.7 223.7h.8M32.2 202.5h.8M67.3 205.8h.8M40.3 226.4h.8M44.9 203.8h.8M28.8 224.6h.8M44.4 227.1h.8M39.8 200.0h.8M69.4 202.8h.8M72.8 206.9h.8M66.8 208.8h.8M23.1 221.9h.8M22.2 222.1h.8M42.1 225.4h.8M33.4 198.0h.8M69.9 208.6h.8M30.2 205.0h.8M21.2 222.0h.8M70.4 208.4h.8M52.4 203.5h.8M72.6 220.2h.8M33.6 222.9h.8M57.5 202.8h.8M63.4 205.1h.8M56.8 201.8h.8M62.6 204.3h.8M53.6 203.6h.8M22.8 221.2h.8M62.1 201.6h.8M44.5 224.2h.8M34.3 204.1h.8M62.8 202.3h.8M31.6 204.6h.8M73.3 221.0h.8M25.0 208.4h.8M23.1 210.4h.8M41.5 205.3h.8M25.0 205.9h.8M55.2 225.5h.8M55.4 225.3h.8M41.0 223.6h.8M70.7 206.7h.8M44.1 225.5h.8M31.4 224.1h.8M66.5 224.0h.8M78.1 214.7h.8M23.0 207.4h.8M62.0 204.9h.8M34.7 202.6h.8M73.7 218.0h.8M55.9 201.6h.8M70.7 207.7h.8M75.3 209.3h.8M45.6 203.3h.8M24.0 220.0h.8M33.7 204.6h.8M71.5 217.6h.8M77.7 216.4h.8M76.7 214.3h.8M34.8 205.4h.8M67.8 220.4h.8M27.3 201.0h.8M76.0 208.9h.8M72.7 208.5h.8M73.0 213.0h.8M23.2 221.3h.8M29.8 222.0h.8M67.5 204.4h.8M56.4 223.8h.8M46.2 193.8h.8M64.8 201.6h.8M43.2 202.5h.8M71.9 218.1h.8M62.3 223.1h.8M67.1 225.7h.8M64.7 204.2h.8M67.5 206.9h.8M38.4 225.0h.8M32.4 224.5h.8M61.7 201.3h.8M29.8 202.9h.8M22.4 218.5h.8M54.0 225.7h.8M66.5 223.2h.8M54.0 224.6h.8M37.9 202.1h.8M30.9 202.5h.8M63.3 206.2h.8M37.5 222.8h.8M36.3 223.6h.8M37.3 224.5h.8M37.2 225.2h.8M65.2 207.0h.8M42.4 199.9h.8M26.1 220.1h.8M56.9 223.9h.8M57.3 205.4h.8M52.4 227.1h.8M61.8 226.2h.8M76.8 208.3h.8M61.3 205.6h.8M66.2 222.3h.8M67.9 205.6h.8M49.4 203.5h.8M28.9 222.8h.8M21.5 210.2h.8M24.8 204.9h.8M29.5 198.9h.8M50.4 204.3h.8M38.3 225.2h.8M69.2 205.5h.8M39.3 201.0h.8M45.8 200.9h.8M28.9 203.4h.8M63.7 226.1h.8M22.7 217.9h.8M36.1 202.5h.8M69.1 221.6h.8M75.0 220.9h.8M64.7 221.8h.8M73.5 215.2h.8M26.2 200.7h.8M22.6 214.8h.8M23.1 219.8h.8M21.2 218.3h.8M78.3 218.0h.8M61.7 226.5h.8M76.2 211.8h.8M51.4 203.7h.8M21.6 213.0h.8M23.9 216.3h.8M40.5 202.2h.8M54.3 224.6h.8M50.3 202.8h.8M23.3 213.0h.8M59.8 205.1h.8M74.2 217.8h.8M57.1 203.9h.8M21.1 221.2h.8M66.7 221.3h.8M26.0 221.2h.8M37.7 223.8h.8M52.1 201.0h.8M75.7 212.0h.8M78.0 216.9h.8M30.4 203.3h.8M28.2 223.5h.8M75.7 218.5h.8M70.0 219.8h.8M29.0 226.3h.8M21.3 208.5h.8M39.6 199.2h.8M25.3 206.7h.8M75.1 219.6h.8M58.4 201.1h.8M45.9 224.8h.8M69.2 205.9h.8M35.0 225.1h.8M43.0 225.7h.8M32.8 224.3h.8M24.1 209.2h.8M34.4 202.4h.8M25.6 205.9h.8M53.0 202.4h.8M75.1 212.6h.8M22.4 220.6h.8M36.0 223.1h.8M31.1 205.6h.8M78.5 210.9h.8M23.1 218.2h.8M22.3 210.6h.8M39.8 201.1h.8M66.8 205.7h.8M70.3 204.2h.8M26.5 206.6h.8M25.8 205.7h.8M71.8 218.6h.8M46.6 204.0h.8M44.2 202.1h.8M60.8 205.2h.8M64.6 205.5h.8M21.9 208.1h.8M33.2 227.2h.8M67.0 220.7h.8M70.8 219.5h.8M41.0 202.6h.8M30.1 223.0h.8M67.9 223.2h.8M29.8 205.1h.8M57.5 204.5h.8M24.5 220.9h.8M30.7 222.8h.8M60.8 224.6h.8M22.5 218.4h.8M33.6 225.1h.8M58.8 224.4h.8M34.7 201.1h.8M22.2 220.1h.8M34.5 200.6h.8M74.6 211.8h.8M29.2 205.2h.8M41.2 225.7h.8M75.1 224.7h.8M24.7 204.6h.8M65.2 223.2h.8M58.6 222.7h.8M27.3 206.2h.8M45.4 201.6h.8M66.6 222.0h.8M31.1 204.6h.8M24.3 218.6h.8M28.0 225.8h.8M76.1 207.1h.8M67.9 221.0h.8M22.6 220.5h.8M38.5 203.6h.8M49.2 225.4h.8M58.9 204.8h.8M47.5 224.0h.8M57.4 201.1h.8M42.7 201.8h.8M43.5 195.0h.8M47.2 201.0h.8M79.0 215.8h.8M71.8 218.3h.8M53.4 202.0h.8M32.5 205.6h.8M73.9 223.0h.8M57.8 205.4h.8M62.2 202.7h.8M66.3 205.8h.8M25.4 217.1h.8M38.0 226.1h.8M43.6 226.1h.8M21.1 222.0h.8M45.4 198.6h.8M32.4 203.8h.8M37.0 225.4h.8M22.6 217.3h.8M69.4 220.5h.8M65.9 224.5h.8M28.6 204.6h.8M43.0 201.3h.8M43.6 198.4h.8M68.2 207.9h.8M35.0 203.0h.8M29.2 203.8h.8M75.9 207.7h.8M23.2 215.4h.8M57.2 205.6h.8M21.7 209.8h.8M62.1 224.8h.8M22.0 211.7h.8M75.8 217.5h.8M74.1 225.1h.8M56.5 201.5h.8M69.2 221.2h.8M64.8 222.2h.8M45.8 202.8h.8M77.5 216.1h.8M38.0 198.8h.8M62.5 223.0h.8M33.3 199.5h.8M53.5 203.5h.8M34.7 203.2h.8M22.3 220.0h.8M65.1 204.6h.8M38.4 198.8h.8M24.3 215.5h.8M22.2 212.8h.8M70.6 207.7h.8M23.0 206.6h.8M78.2 214.3h.8M59.9 224.0h.8M23.0 207.0h.8M54.2 226.5h.8M69.2 208.2h.8M43.7 201.0h.8M75.1 212.6h.8M26.8 225.0h.8M74.4 218.6h.8M39.8 203.7h.8M76.6 215.6h.8M53.9 224.0h.8M71.0 208.2h.8M25.1 223.8h.8M30.2 204.2h.8M56.6 203.1h.8M69.4 220.0h.8M70.8 207.8h.8M60.7 201.3h.8M71.5 223.0h.8M47.3 200.7h.8M70.2 208.8h.8M33.7 203.0h.8M61.5 223.3h.8M31.3 202.9h.8M45.0 227.2h.8M69.3 219.9h.8M57.3 204.7h.8M45.1 226.4h.8M27.2 225.3h.8M62.7 222.1h.8M32.3 205.2h.8M74.4 211.9h.8M61.1 226.3h.8M63.7 222.6h.8M46.7 202.3h.8M39.7 199.3h.8M43.1 227.0h.8M24.1 210.5h.8M38.9 203.5h.8M71.3 221.1h.8M21.8 216.1h.8M78.8 219.6h.8M38.6 203.9h.8M45.4 202.3h.8M34.3 201.7h.8M24.6 206.0h.8M70.5 207.0h.8M27.8 222.1h.8M27.5 220.4h.8M62.3 203.6h.8M44.0 225.8h.8M46.0 226.9h.8M55.1 224.4h.8M71.1 206.5h.8M73.7 215.2h.8M77.4 216.8h.8M77.5 210.6h.8M57.6 223.7h.8M40.9 226.1h.8M74.5 211.5h.8M62.7 222.4h.8M27.9 205.2h.8M67.2 203.1h.8M48.0 196.1h.8M34.8 203.7h.8M55.2 225.1h.8M64.3 204.1h.8M38.6 225.4h.8M57.9 225.0h.8M72.5 218.7h.8M21.3 213.9h.8M79.5 209.1h.8M52.3 226.5h.8M71.7 218.2h.8M35.0 202.8h.8M55.6 205.1h.8M33.3 203.2h.8M75.3 211.7h.8M32.9 203.9h.8M46.0 225.2h.8M25.3 221.7h.8M74.5 212.6h.8M65.7 222.1h.8M47.8 200.8h.8M60.3 201.1h.8M79.5 219.1h.8M22.7 204.3h.8M26.5 220.0h.8M70.6 208.0h.8M69.6 207.2h.8M42.5 224.9h.8M55.1 224.0h.8M40.0 205.3h.8M63.5 223.4h.8M23.0 211.3h.8M44.8 204.1h.8M24.0 225.8h.8M51.4 226.7h.8M23.3 220.6h.8M60.4 224.0h.8M26.2 219.6h.8M79.5 217.8h.8M55.6 195.5h.8M70.8 207.0h.8M25.3 222.9h.8M31.7 203.3h.8M64.7 222.5h.8M25.2 223.7h.8M51.3 226.9h.8M22.9 209.3h.8M26.4 207.2h.8M35.2 223.4h.8M68.1 221.6h.8M54.2 203.1h.8M77.3 214.7h.8M76.5 216.3h.8M67.7 221.1h.8M67.4 206.0h.8M54.0 198.9h.8M39.2 226.6h.8M56.1 201.2h.8M62.3 224.0h.8M77.6 216.9h.8M55.2 202.3h.8M22.3 220.0h.8M68.5 220.7h.8M75.7 211.7h.8M23.4 214.1h.8M57.8 205.1h.8M69.3 201.3h.8M58.1 224.1h.8M63.0 205.1h.8M77.5 213.4h.8M64.6 206.6h.8M69.1 203.1h.8M79.6 210.0h.8M35.3 223.5h.8M68.4 222.5h.8M61.4 224.0h.8M58.7 204.0h.8M70.8 203.4h.8M33.1 202.8h.8M21.8 213.8h.8M69.4 206.6h.8M72.1 207.0h.8M76.1 206.7h.8M31.0 204.8h.8M54.2 201.4h.8M39.1 223.5h.8M23.0 216.2h.8M45.0 225.3h.8M36.5 224.0h.8M74.3 206.6h.8M56.4 223.4h.8M63.1 204.7h.8M42.7 202.1h.8M35.7 199.4h.8M69.9 208.9h.8M23.9 207.4h.8M33.8 223.2h.8M25.3 204.1h.8M27.6 205.1h.8M44.3 202.7h.8M34.0 202.6h.8M53.1 203.2h.8M67.0 221.6h.8M35.7 227.0h.8M27.8 206.5h.8M79.1 209.0h.8M65.4 207.3h.8M68.7 202.4h.8M54.1 200.1h.8M76.0 215.0h.8M72.6 220.7h.8M49.0 201.4h.8M79.8 211.0h.8M68.4 226.5h.8M30.4 202.9h.8M70.8 208.1h.8M63.1 202.3h.8M21.2 208.3h.8M22.3 208.3h.8M30.1 222.4h.8M65.1 223.0h.8M77.7 215.8h.8M25.0 206.4h.8M70.2 207.3h.8M68.4 208.0h.8M72.8 221.9h.8M78.0 214.6h.8M31.9 203.5h.8M61.0 222.0h.8M77.7 212.8h.8M36.2 226.1h.8M61.6 225.3h.8M72.1 209.1h.8M28.0 223.8h.8M56.2 226.6h.8M24.0 207.1h.8M49.1 227.1h.8M66.7 205.1h.8M76.1 213.6h.8M42.3 226.1h.8M76.2 219.8h.8M25.3 221.6h.8M62.0 205.4h.8M32.9 204.9h.8M66.7 221.8h.8M72.4 216.9h.8M61.3 205.3h.8M73.4 208.4h.8M75.7 209.8h.8M36.4 223.5h.8M34.1 224.5h.8M75.7 209.5h.8M37.4 203.4h.8M40.4 199.6h.8M56.6 204.6h.8M40.3 226.8h.8M72.8 213.5h.8M21.9 201.7h.8M31.4 221.9h.8M42.1 199.8h.8M67.7 205.6h.8M76.0 214.0h.8M30.0 205.4h.8M27.9 206.1h.8M75.0 211.1h.8M70.0 205.9h.8M28.6 202.8h.8M27.4 203.4h.8M22.4 220.4h.8M47.2 204.3h.8M64.0 197.6h.8M70.5 208.3h.8M69.6 222.9h.8M69.1 222.0h.8M51.8 204.4h.8M67.5 220.9h.8M26.7 200.9h.8M71.1 207.9h.8M69.9 223.6h.8M80.0 218.4h.8M25.3 206.8h.8M69.3 207.2h.8M28.1 204.2h.8M23.8 204.2h.8M46.0 224.4h.8M30.1 204.9h.8M49.7 200.3h.8M65.7 205.2h.8M73.4 217.1h.8M46.7 198.9h.8M74.3 214.3h.8M33.8 205.1h.8M70.9 207.5h.8M29.0 222.0h.8M29.8 204.2h.8M76.6 210.5h.8M73.1 223.1h.8M74.5 218.8h.8M58.6 202.4h.8M43.3 204.3h.8M26.3 203.2h.8M67.1 220.7h.8M47.4 225.4h.8M33.6 204.1h.8M57.1 226.9h.8M23.5 214.3h.8M23.9 210.7h.8M29.6 222.1h.8M73.8 220.2h.8M21.9 204.7h.8M74.3 217.1h.8M72.8 217.6h.8M66.4 220.0h.8M63.9 207.0h.8M34.5 223.9h.8M64.6 223.3h.8M30.3 201.8h.8M70.2 220.6h.8M72.5 209.3h.8M57.8 223.4h.8M25.2 220.1h.8M31.5 222.5h.8M56.4 206.2h.8M32.6 223.9h.8M22.6 223.9h.8M32.5 224.4h.8M72.6 205.3h.8M37.1 204.4h.8M72.1 219.4h.8M25.0 221.9h.8M71.3 218.0h.8M23.0 212.0h.8M53.4 199.8h.8M34.8 225.0h.8M72.6 209.2h.8M40.9 201.8h.8M67.5 220.7h.8M62.3 224.0h.8M21.9 206.4h.8M72.7 200.9h.8M27.3 205.0h.8M22.3 206.4h.8M35.6 204.2h.8M75.7 209.6h.8M64.1 222.4h.8M66.1 221.7h.8M61.0 222.4h.8M28.4 206.0h.8M30.0 201.1h.8M23.5 218.3h.8M61.8 203.2h.8M62.9 222.8h.8M57.3 200.3h.8M22.4 209.7h.8M24.7 219.2h.8M70.9 209.4h.8M74.0 217.2h.8M62.6 204.9h.8M54.1 202.7h.8M58.5 200.4h.8M29.0 205.2h.8M74.5 209.3h.8M69.8 219.7h.8M71.5 220.8h.8M27.3 224.0h.8M44.6 203.9h.8M72.3 205.6h.8M71.6 221.4h.8M30.5 224.0h.8M23.9 209.0h.8M68.5 206.6h.8M78.2 211.7h.8M80.1 217.1h.8M55.3 225.5h.8M71.7 217.8h.8M57.5 203.8h.8M28.4 205.8h.8M40.8 227.2h.8M60.3 225.1h.8M36.3 204.7h.8M61.0 202.4h.8M72.6 211.3h.8M27.6 225.6h.8M37.7 200.3h.8M62.8 204.8h.8M54.9 203.0h.8M65.9 222.3h.8M69.3 223.3h.8M62.6 199.5h.8M68.1 208.4h.8M41.8 202.4h.8M60.0 203.0h.8M51.3 204.0h.8M34.5 225.1h.8M69.5 221.5h.8M70.8 222.7h.8M71.5 210.5h.8M22.7 217.8h.8M69.9 205.8h.8M42.7 204.5h.8M42.7 201.9h.8M76.0 216.2h.8M46.1 226.8h.8M74.4 215.8h.8M24.8 205.6h.8M68.7 205.6h.8M32.5 222.5h.8M53.1 224.7h.8M74.2 217.1h.8M70.6 206.3h.8M75.8 220.0h.8M66.8 222.6h.8M80.4 211.3h.8M59.0 223.1h.8M67.4 221.4h.8M36.1 223.6h.8M73.4 218.5h.8M22.6 205.5h.8M62.9 206.1h.8M55.6 223.7h.8M62.4 223.4h.8M69.7 207.2h.8M68.8 220.5h.8M66.6 204.1h.8M27.6 221.8h.8M58.9 204.6h.8M61.3 205.8h.8M22.0 217.9h.8M66.2 221.8h.8M69.7 218.1h.8M35.5 225.8h.8M66.4 206.2h.8M67.3 221.3h.8M34.0 193.9h.8M43.0 224.7h.8M36.8 225.3h.8M60.9 205.2h.8M50.8 225.6h.8M71.1 220.5h.8M72.4 207.5h.8M70.7 219.6h.8M67.0 206.6h.8M74.1 214.7h.8M39.5 202.0h.8M43.9 224.6h.8M25.7 205.5h.8M33.0 222.8h.8M55.4 202.2h.8M23.6 213.0h.8M27.6 205.2h.8M23.1 208.4h.8M78.0 210.6h.8M24.6 205.2h.8M46.8 202.7h.8M51.2 203.5h.8M64.6 204.9h.8M25.3 222.2h.8M57.8 202.5h.8M60.8 223.1h.8M23.2 206.3h.8M54.4 226.3h.8M42.0 203.3h.8M56.4 224.4h.8M30.5 223.5h.8M38.5 223.5h.8M63.8 222.7h.8M51.9 202.7h.8" fill="none" stroke="#000" stroke-width="0.8"/>
<path d="M26.30 180.00 C26.47 177.83 27.18 175.70 28.30 174.00 C29.42 172.30 31.05 170.75 33.00 169.80 C34.95 168.85 37.67 168.60 40.00 168.30 C42.33 168.00 44.50 167.92 47.00 168.00 C49.50 168.08 52.50 168.17 55.00 168.80 C57.50 169.43 60.08 170.68 62.00 171.80 C63.92 172.92 65.42 174.13 66.50 175.50 C67.58 176.87 68.42 178.50 68.50 180.00 C68.58 181.50 68.25 182.92 67.00 184.50 C65.75 186.08 63.33 187.83 61.00 189.50 C58.67 191.17 55.67 193.00 53.00 194.50 C50.33 196.00 47.08 197.50 45.00 198.50 C42.92 199.50 42.00 200.75 40.50 200.50 C39.00 200.25 37.67 198.33 36.00 197.00 C34.33 195.67 31.95 194.17 30.50 192.50 C29.05 190.83 28.00 189.08 27.30 187.00 C26.60 184.92 26.13 182.17 26.30 180.00 Z" fill="#000" stroke="#000" stroke-width="5.5" stroke-linejoin="round"/>
<path d="M26.30 180.00 C26.47 177.83 27.18 175.70 28.30 174.00 C29.42 172.30 31.05 170.75 33.00 169.80 C34.95 168.85 37.67 168.60 40.00 168.30 C42.33 168.00 44.50 167.92 47.00 168.00 C49.50 168.08 52.50 168.17 55.00 168.80 C57.50 169.43 60.08 170.68 62.00 171.80 C63.92 172.92 65.42 174.13 66.50 175.50 C67.58 176.87 68.42 178.50 68.50 180.00 C68.58 181.50 68.25 182.92 67.00 184.50 C65.75 186.08 63.33 187.83 61.00 189.50 C58.67 191.17 55.67 193.00 53.00 194.50 C50.33 196.00 47.08 197.50 45.00 198.50 C42.92 199.50 42.00 200.75 40.50 200.50 C39.00 200.25 37.67 198.33 36.00 197.00 C34.33 195.67 31.95 194.17 30.50 192.50 C29.05 190.83 28.00 189.08 27.30 187.00 C26.60 184.92 26.13 182.17 26.30 180.00 Z" fill="#2a2a2a" stroke="#fff" stroke-width="0.8"/>
<path d="M26.30 180.00 C26.47 177.83 27.18 175.70 28.30 174.00 C29.42 172.30 31.05 170.75 33.00 169.80 C34.95 168.85 37.67 168.60 40.00 168.30 C42.33 168.00 44.50 167.92 47.00 168.00 C49.50 168.08 52.50 168.17 55.00 168.80 C57.50 169.43 60.08 170.68 62.00 171.80 C63.92 172.92 65.42 174.13 66.50 175.50 C67.58 176.87 68.42 178.50 68.50 180.00 C68.58 181.50 68.25 182.92 67.00 184.50 C65.75 186.08 63.33 187.83 61.00 189.50 C58.67 191.17 55.67 193.00 53.00 194.50 C50.33 196.00 47.08 197.50 45.00 198.50 C42.92 199.50 42.00 200.75 40.50 200.50 C39.00 200.25 37.67 198.33 36.00 197.00 C34.33 195.67 31.95 194.17 30.50 192.50 C29.05 190.83 28.00 189.08 27.30 187.00 C26.60 184.92 26.13 182.17 26.30 180.00 Z" transform="translate(3.52,14.64) scale(0.92)" fill="none" stroke="#f4f4f4" stroke-width="0.65"/>
<path d="M26.30 180.00 C26.47 177.83 27.18 175.70 28.30 174.00 C29.42 172.30 31.05 170.75 33.00 169.80 C34.95 168.85 37.67 168.60 40.00 168.30 C42.33 168.00 44.50 167.92 47.00 168.00 C49.50 168.08 52.50 168.17 55.00 168.80 C57.50 169.43 60.08 170.68 62.00 171.80 C63.92 172.92 65.42 174.13 66.50 175.50 C67.58 176.87 68.42 178.50 68.50 180.00 C68.58 181.50 68.25 182.92 67.00 184.50 C65.75 186.08 63.33 187.83 61.00 189.50 C58.67 191.17 55.67 193.00 53.00 194.50 C50.33 196.00 47.08 197.50 45.00 198.50 C42.92 199.50 42.00 200.75 40.50 200.50 C39.00 200.25 37.67 198.33 36.00 197.00 C34.33 195.67 31.95 194.17 30.50 192.50 C29.05 190.83 28.00 189.08 27.30 187.00 C26.60 184.92 26.13 182.17 26.30 180.00 Z" transform="translate(7.04,29.28) scale(0.84)" fill="none" stroke="#f4f4f4" stroke-width="0.71"/>
<path d="M26.30 180.00 C26.47 177.83 27.18 175.70 28.30 174.00 C29.42 172.30 31.05 170.75 33.00 169.80 C34.95 168.85 37.67 168.60 40.00 168.30 C42.33 168.00 44.50 167.92 47.00 168.00 C49.50 168.08 52.50 168.17 55.00 168.80 C57.50 169.43 60.08 170.68 62.00 171.80 C63.92 172.92 65.42 174.13 66.50 175.50 C67.58 176.87 68.42 178.50 68.50 180.00 C68.58 181.50 68.25 182.92 67.00 184.50 C65.75 186.08 63.33 187.83 61.00 189.50 C58.67 191.17 55.67 193.00 53.00 194.50 C50.33 196.00 47.08 197.50 45.00 198.50 C42.92 199.50 42.00 200.75 40.50 200.50 C39.00 200.25 37.67 198.33 36.00 197.00 C34.33 195.67 31.95 194.17 30.50 192.50 C29.05 190.83 28.00 189.08 27.30 187.00 C26.60 184.92 26.13 182.17 26.30 180.00 Z" transform="translate(10.56,43.92) scale(0.76)" fill="none" stroke="#f4f4f4" stroke-width="0.79"/>
<path d="M26.30 180.00 C26.47 177.83 27.18 175.70 28.30 174.00 C29.42 172.30 31.05 170.75 33.00 169.80 C34.95 168.85 37.67 168.60 40.00 168.30 C42.33 168.00 44.50 167.92 47.00 168.00 C49.50 168.08 52.50 168.17 55.00 168.80 C57.50 169.43 60.08 170.68 62.00 171.80 C63.92 172.92 65.42 174.13 66.50 175.50 C67.58 176.87 68.42 178.50 68.50 180.00 C68.58 181.50 68.25 182.92 67.00 184.50 C65.75 186.08 63.33 187.83 61.00 189.50 C58.67 191.17 55.67 193.00 53.00 194.50 C50.33 196.00 47.08 197.50 45.00 198.50 C42.92 199.50 42.00 200.75 40.50 200.50 C39.00 200.25 37.67 198.33 36.00 197.00 C34.33 195.67 31.95 194.17 30.50 192.50 C29.05 190.83 28.00 189.08 27.30 187.00 C26.60 184.92 26.13 182.17 26.30 180.00 Z" transform="translate(14.08,58.56) scale(0.68)" fill="none" stroke="#f4f4f4" stroke-width="0.88"/>
<path d="M26.30 180.00 C26.47 177.83 27.18 175.70 28.30 174.00 C29.42 172.30 31.05 170.75 33.00 169.80 C34.95 168.85 37.67 168.60 40.00 168.30 C42.33 168.00 44.50 167.92 47.00 168.00 C49.50 168.08 52.50 168.17 55.00 168.80 C57.50 169.43 60.08 170.68 62.00 171.80 C63.92 172.92 65.42 174.13 66.50 175.50 C67.58 176.87 68.42 178.50 68.50 180.00 C68.58 181.50 68.25 182.92 67.00 184.50 C65.75 186.08 63.33 187.83 61.00 189.50 C58.67 191.17 55.67 193.00 53.00 194.50 C50.33 196.00 47.08 197.50 45.00 198.50 C42.92 199.50 42.00 200.75 40.50 200.50 C39.00 200.25 37.67 198.33 36.00 197.00 C34.33 195.67 31.95 194.17 30.50 192.50 C29.05 190.83 28.00 189.08 27.30 187.00 C26.60 184.92 26.13 182.17 26.30 180.00 Z" transform="translate(17.60,73.20) scale(0.6)" fill="none" stroke="#f4f4f4" stroke-width="1.00"/>
<path d="M55.13 173.29 A12 10.20 0 0 1 55.13 191.31" fill="none" stroke="#f0f0f0" stroke-width="0.6"/>
<path d="M54.19 174.79 A10 8.50 0 0 1 54.19 189.81" fill="none" stroke="#f0f0f0" stroke-width="0.6"/>
<path d="M53.26 176.30 A8 6.80 0 0 1 53.26 188.30" fill="none" stroke="#f0f0f0" stroke-width="0.6"/>
<path d="M52.32 177.80 A6 5.10 0 0 1 52.32 186.80" fill="none" stroke="#f0f0f0" stroke-width="0.6"/>
<path d="M51.47 179.15 A4.2 3.57 0 0 1 51.47 185.45" fill="none" stroke="#f0f0f0" stroke-width="0.6"/>
<path d="M50.72 180.35 A2.6 2.21 0 0 1 50.72 184.25" fill="none" stroke="#f0f0f0" stroke-width="0.6"/>
<circle cx="40.4" cy="183.2" r="3.6" fill="none" stroke="#999" stroke-width="0.5"/>
<circle cx="40.4" cy="183.2" r="2.1" fill="#1a1a1a"/>
<circle cx="40.4" cy="183.2" r="0.9" fill="#fff"/>
<path d="M25.40 213.50 C25.43 211.83 25.73 209.75 27.00 208.50 C28.27 207.25 30.50 206.48 33.00 206.00 C35.50 205.52 38.83 205.60 42.00 205.60 C45.17 205.60 48.83 205.77 52.00 206.00 C55.17 206.23 58.33 206.53 61.00 207.00 C63.67 207.47 66.20 207.88 68.00 208.80 C69.80 209.72 71.38 211.22 71.80 212.50 C72.22 213.78 71.80 215.28 70.50 216.50 C69.20 217.72 66.92 218.98 64.00 219.80 C61.08 220.62 56.67 221.08 53.00 221.40 C49.33 221.72 45.50 221.80 42.00 221.70 C38.50 221.60 34.53 221.33 32.00 220.80 C29.47 220.27 27.90 219.72 26.80 218.50 C25.70 217.28 25.37 215.17 25.40 213.50 Z" fill="#000" stroke="#000" stroke-width="4.5" stroke-linejoin="round"/>
<path d="M25.40 213.50 C25.43 211.83 25.73 209.75 27.00 208.50 C28.27 207.25 30.50 206.48 33.00 206.00 C35.50 205.52 38.83 205.60 42.00 205.60 C45.17 205.60 48.83 205.77 52.00 206.00 C55.17 206.23 58.33 206.53 61.00 207.00 C63.67 207.47 66.20 207.88 68.00 208.80 C69.80 209.72 71.38 211.22 71.80 212.50 C72.22 213.78 71.80 215.28 70.50 216.50 C69.20 217.72 66.92 218.98 64.00 219.80 C61.08 220.62 56.67 221.08 53.00 221.40 C49.33 221.72 45.50 221.80 42.00 221.70 C38.50 221.60 34.53 221.33 32.00 220.80 C29.47 220.27 27.90 219.72 26.80 218.50 C25.70 217.28 25.37 215.17 25.40 213.50 Z" fill="#222" stroke="#f0f0f0" stroke-width="0.8"/>
<path d="M25.40 213.50 C25.43 211.83 25.73 209.75 27.00 208.50 C28.27 207.25 30.50 206.48 33.00 206.00 C35.50 205.52 38.83 205.60 42.00 205.60 C45.17 205.60 48.83 205.77 52.00 206.00 C55.17 206.23 58.33 206.53 61.00 207.00 C63.67 207.47 66.20 207.88 68.00 208.80 C69.80 209.72 71.38 211.22 71.80 212.50 C72.22 213.78 71.80 215.28 70.50 216.50 C69.20 217.72 66.92 218.98 64.00 219.80 C61.08 220.62 56.67 221.08 53.00 221.40 C49.33 221.72 45.50 221.80 42.00 221.70 C38.50 221.60 34.53 221.33 32.00 220.80 C29.47 220.27 27.90 219.72 26.80 218.50 C25.70 217.28 25.37 215.17 25.40 213.50 Z" transform="translate(4.80,21.40) scale(0.9)" fill="none" stroke="#c8c8c8" stroke-width="0.56"/>
<path d="M25.40 213.50 C25.43 211.83 25.73 209.75 27.00 208.50 C28.27 207.25 30.50 206.48 33.00 206.00 C35.50 205.52 38.83 205.60 42.00 205.60 C45.17 205.60 48.83 205.77 52.00 206.00 C55.17 206.23 58.33 206.53 61.00 207.00 C63.67 207.47 66.20 207.88 68.00 208.80 C69.80 209.72 71.38 211.22 71.80 212.50 C72.22 213.78 71.80 215.28 70.50 216.50 C69.20 217.72 66.92 218.98 64.00 219.80 C61.08 220.62 56.67 221.08 53.00 221.40 C49.33 221.72 45.50 221.80 42.00 221.70 C38.50 221.60 34.53 221.33 32.00 220.80 C29.47 220.27 27.90 219.72 26.80 218.50 C25.70 217.28 25.37 215.17 25.40 213.50 Z" transform="translate(9.60,42.80) scale(0.8)" fill="none" stroke="#c8c8c8" stroke-width="0.62"/>
<ellipse cx="50" cy="213.2" rx="11" ry="2.2" fill="#666"/>
<ellipse cx="39" cy="212.7" rx="5.5" ry="3.2" fill="#888"/>
<ellipse cx="38.6" cy="212.3" rx="2.4" ry="1.3" fill="#eee"/>
<path d="M59 208.75 A9.5 4.75 0 0 1 59 218.25" fill="none" stroke="#ddd" stroke-width="0.5"/>
<path d="M59 209.60 A7.8 3.90 0 0 1 59 217.40" fill="none" stroke="#ddd" stroke-width="0.5"/>
<path d="M59 210.45 A6.1 3.05 0 0 1 59 216.55" fill="none" stroke="#ddd" stroke-width="0.5"/>
<path d="M59 211.30 A4.4 2.20 0 0 1 59 215.70" fill="none" stroke="#ddd" stroke-width="0.5"/>
<path d="M59 212.15 A2.7 1.35 0 0 1 59 214.85" fill="none" stroke="#ddd" stroke-width="0.5"/>
<rect x="18.80" y="225.10" width="1.8" height="0.7" fill="#000"/>
<rect x="18.80" y="220.80" width="1.8" height="0.7" fill="#000"/>
<rect x="18.80" y="216.50" width="1.8" height="0.7" fill="#000"/>
<rect x="18.80" y="212.20" width="1.8" height="0.7" fill="#000"/>
<rect x="18.80" y="207.90" width="1.8" height="0.7" fill="#000"/>
<rect x="18.80" y="203.60" width="1.8" height="0.7" fill="#000"/>
<rect x="18.80" y="199.30" width="1.8" height="0.7" fill="#000"/>
<rect x="18.80" y="195.00" width="1.8" height="0.7" fill="#000"/>
<rect x="18.80" y="190.70" width="1.8" height="0.7" fill="#000"/>
<rect x="18.80" y="186.40" width="1.8" height="0.7" fill="#000"/>
<rect x="18.80" y="182.10" width="1.8" height="0.7" fill="#000"/>
<rect x="18.80" y="177.80" width="1.8" height="0.7" fill="#000"/>
<rect x="18.80" y="173.50" width="1.8" height="0.7" fill="#000"/>
<rect x="18.80" y="169.20" width="1.8" height="0.7" fill="#000"/>
<rect x="23.60" y="228.10" width="0.7" height="1.8" fill="#000"/>
<rect x="27.90" y="228.10" width="0.7" height="1.8" fill="#000"/>
<rect x="32.20" y="228.10" width="0.7" height="1.8" fill="#000"/>
<rect x="36.50" y="228.10" width="0.7" height="1.8" fill="#000"/>
<rect x="40.80" y="228.10" width="0.7" height="1.8" fill="#000"/>
<rect x="45.10" y="228.10" width="0.7" height="1.8" fill="#000"/>
<rect x="49.40" y="228.10" width="0.7" height="1.8" fill="#000"/>
<rect x="53.70" y="228.10" width="0.7" height="1.8" fill="#000"/>
<rect x="58.00" y="228.10" width="0.7" height="1.8" fill="#000"/>
<rect x="62.30" y="228.10" width="0.7" height="1.8" fill="#000"/>
<rect x="66.60" y="228.10" width="0.7" height="1.8" fill="#000"/>
<rect x="70.90" y="228.10" width="0.7" height="1.8" fill="#000"/>
<rect x="75.20" y="228.10" width="0.7" height="1.8" fill="#000"/>
<rect x="79.50" y="228.10" width="0.7" height="1.8" fill="#000"/>
<rect x="20.6" y="166.2" width="64.00" height="61.90" fill="none" stroke="#000" stroke-width="1"/>
<rect x="21.8" y="167.2" width="59.5" height="31" fill="none" stroke="#55984a" stroke-width="0.9"/>
<rect x="22.5" y="206" width="58.8" height="18.5" fill="none" stroke="#4f7fb5" stroke-width="0.9"/>
<text transform="translate(15.0,198.2) rotate(-90)" font-size="10" text-anchor="middle" fill="#000" stroke="#000" stroke-width="0.08" textLength="15" lengthAdjust="spacingAndGlyphs">GFP</text>
<text x="39.6" y="242.8" font-size="10" fill="#000" stroke="#000" stroke-width="0.06" textLength="26" lengthAdjust="spacingAndGlyphs">CD79B</text>
<rect x="81.3" y="174.7" width="38.10000000000001" height="1" fill="#4d8a42"/>
<polygon points="118.4,172.89999999999998 123.4,175.2 118.4,177.5" fill="#4d8a42"/>
<rect x="81.3" y="216.0" width="38.10000000000001" height="1" fill="#52729c"/>
<polygon points="118.4,214.2 123.4,216.5 118.4,218.8" fill="#52729c"/>
<text x="90.5" y="173.1" font-size="7.8" fill="#5e8c56" stroke="#5e8c56" stroke-width="0.08" textLength="20.3" lengthAdjust="spacingAndGlyphs">GFP+</text>
<text x="91.3" y="214" font-size="7.8" fill="#222" stroke="#222" stroke-width="0.08" textLength="18.2" lengthAdjust="spacingAndGlyphs">GFP-</text>
<text x="118.8" y="187.4" font-size="8" text-anchor="end" fill="#000" stroke="#000" stroke-width="0.08" textLength="22.6" lengthAdjust="spacingAndGlyphs">unstim</text>
<text x="118.5" y="196" font-size="8" text-anchor="end" fill="#000" stroke="#000" stroke-width="0.08" textLength="21.5" lengthAdjust="spacingAndGlyphs">α–IgM</text>
<text x="118.8" y="240.2" font-size="8" text-anchor="end" fill="#000" stroke="#000" stroke-width="0.08" textLength="22.6" lengthAdjust="spacingAndGlyphs">unstim</text>
<text x="118.5" y="248.6" font-size="8" text-anchor="end" fill="#000" stroke="#000" stroke-width="0.08" textLength="21.5" lengthAdjust="spacingAndGlyphs">α–IgM</text>
<text x="26.9" y="289.3" font-size="10" fill="#000" stroke="#000" stroke-width="0.06" textLength="54" lengthAdjust="spacingAndGlyphs">CD79B GFP</text>
<path d="M65.6 326.6h.8M74.6 320.6h.8M59.1 321.4h.8M45.5 322.5h.8M39.6 328.7h.8M71.5 323.6h.8M55.4 319.6h.8M54.6 321.4h.8M34.4 317.2h.8M52.2 327.3h.8M34.6 326.9h.8M81.4 329.5h.8M45.1 311.6h.8M38.4 325.0h.8M68.5 309.6h.8M68.1 310.2h.8M72.5 305.1h.8M77.8 314.8h.8M78.1 317.5h.8M36.7 324.3h.8M69.0 304.1h.8M37.9 307.2h.8M52.1 318.3h.8M61.9 328.4h.8M55.8 318.1h.8M67.6 329.4h.8M79.9 317.9h.8M50.7 306.3h.8M38.9 308.8h.8M55.2 319.8h.8M35.6 317.6h.8M77.5 327.4h.8M76.7 326.0h.8M55.7 316.9h.8M34.0 329.8h.8M53.0 303.8h.8M76.9 323.6h.8M65.8 309.4h.8M33.7 319.3h.8M41.4 318.1h.8M68.2 313.4h.8M74.6 327.3h.8M83.3 304.4h.8M56.1 323.7h.8M48.6 323.3h.8M37.4 317.0h.8M84.1 313.9h.8M34.3 318.5h.8M39.3 317.4h.8M78.2 329.7h.8M67.9 322.3h.8M52.9 321.1h.8M58.9 314.4h.8M48.2 316.2h.8M30.6 323.4h.8M63.0 312.7h.8M69.6 323.5h.8M55.8 318.2h.8M35.2 304.6h.8M74.4 311.0h.8M69.6 314.4h.8M71.7 327.0h.8M33.6 307.5h.8M54.3 306.0h.8M30.5 314.7h.8M34.7 328.6h.8M75.0 304.1h.8M63.4 323.1h.8M34.5 304.1h.8M41.7 324.2h.8" fill="none" stroke="#000" stroke-width="0.8"/>
<path d="M54.2 319.7h.8M47.7 310.9h.8M45.4 316.8h.8M57.2 321.5h.8M39.7 316.7h.8M57.6 308.9h.8M47.5 308.7h.8M43.0 324.3h.8M53.7 330.3h.8M39.6 322.8h.8M48.4 307.9h.8M52.0 318.7h.8M47.3 324.6h.8M46.9 321.8h.8M50.0 314.2h.8M53.9 323.7h.8M64.5 324.5h.8M33.0 309.5h.8M47.4 324.5h.8M31.0 318.2h.8M38.1 322.1h.8M60.5 315.8h.8M63.7 321.8h.8M48.5 326.0h.8M71.5 316.9h.8M52.6 319.4h.8M58.3 315.0h.8M47.9 324.5h.8M48.9 325.3h.8M52.9 327.6h.8M65.0 310.6h.8M57.1 316.0h.8M44.1 322.6h.8M60.8 320.6h.8M61.2 327.2h.8M53.8 321.1h.8M55.1 326.4h.8M41.5 317.1h.8M38.1 314.1h.8M53.8 315.4h.8M42.7 316.1h.8M61.5 329.9h.8M51.5 313.1h.8M52.2 313.8h.8M53.6 321.6h.8M69.7 313.0h.8M48.9 312.5h.8M61.1 311.8h.8M63.3 328.2h.8M33.2 324.0h.8M73.3 318.2h.8M49.7 329.6h.8M48.1 316.9h.8M41.2 321.4h.8M63.6 312.9h.8M58.6 320.6h.8M66.1 317.0h.8M42.6 318.9h.8M54.9 315.9h.8M40.9 321.4h.8M34.4 310.7h.8M49.1 309.5h.8M55.4 307.9h.8M48.4 320.1h.8M63.9 312.5h.8M53.1 324.7h.8M42.2 319.8h.8M61.7 324.2h.8M49.7 319.7h.8M43.2 320.8h.8M54.6 314.5h.8M74.4 321.4h.8M42.0 317.8h.8M55.3 311.3h.8M41.3 322.0h.8M49.6 317.2h.8M60.8 316.0h.8M35.4 310.9h.8M48.8 316.4h.8M46.5 312.3h.8M32.7 316.1h.8M54.6 319.2h.8M38.6 313.9h.8M57.3 317.0h.8M82.2 317.0h.8M49.3 317.6h.8M48.0 313.5h.8M61.3 319.6h.8M53.6 316.0h.8M31.2 314.8h.8M27.7 313.8h.8M53.9 316.0h.8M51.1 327.0h.8M55.9 323.5h.8M47.0 315.6h.8M36.2 326.4h.8M61.7 317.1h.8M54.9 319.0h.8M64.0 320.6h.8M49.3 311.2h.8M47.8 324.7h.8M43.1 316.1h.8M56.5 327.2h.8M26.6 316.7h.8M45.3 322.4h.8M46.3 307.1h.8M26.4 307.5h.8M46.0 311.1h.8M36.3 329.4h.8M35.0 315.6h.8M62.3 317.5h.8M29.7 317.6h.8M49.9 325.5h.8M41.9 308.3h.8M46.1 310.8h.8M52.1 321.4h.8M49.4 317.2h.8M37.7 309.1h.8M53.1 325.9h.8M40.0 304.7h.8M49.6 319.0h.8M41.5 306.1h.8M63.8 306.1h.8M55.2 322.5h.8M63.4 317.1h.8M59.5 315.9h.8M57.5 325.4h.8M49.8 307.0h.8M64.2 313.7h.8M44.5 323.4h.8M59.0 320.4h.8M44.2 321.8h.8M51.5 315.3h.8M42.0 320.3h.8M42.4 325.3h.8M31.8 311.4h.8M51.9 307.2h.8M68.9 309.0h.8M43.8 314.9h.8M51.8 325.8h.8M45.7 314.3h.8M63.1 317.3h.8M57.9 317.7h.8M44.8 313.7h.8M39.9 312.6h.8M51.8 317.1h.8M58.0 318.1h.8M54.2 312.2h.8M33.4 323.5h.8M68.2 315.7h.8M58.8 312.1h.8M40.8 319.8h.8M58.7 320.9h.8M61.3 317.9h.8M48.5 318.0h.8" fill="none" stroke="#000" stroke-width="0.8"/>
<path d="M54.1 323.8h.8M45.4 320.1h.8M72.7 322.9h.8M38.5 320.2h.8M72.7 325.1h.8M63.0 328.1h.8M76.9 324.0h.8M66.7 334.4h.8M70.8 323.0h.8M54.7 323.3h.8M76.9 316.1h.8M71.1 323.5h.8M71.1 326.3h.8M46.3 323.2h.8M41.7 324.7h.8M55.4 329.5h.8M43.5 326.7h.8M53.1 323.1h.8M45.0 333.7h.8M61.4 325.8h.8M62.9 321.2h.8M60.9 323.5h.8M69.7 328.8h.8M64.7 330.7h.8M60.3 319.6h.8M44.9 329.2h.8M60.0 327.6h.8M72.0 321.3h.8M78.5 328.7h.8M82.4 328.6h.8M51.2 328.0h.8M65.4 318.9h.8M73.8 324.2h.8M68.6 332.8h.8M78.7 323.5h.8M72.2 330.0h.8M65.8 330.3h.8M70.5 323.4h.8M79.7 324.3h.8M58.7 323.7h.8M44.0 330.2h.8M50.5 317.2h.8M67.7 315.5h.8M60.8 328.8h.8M67.9 327.1h.8M60.8 321.1h.8M67.2 328.9h.8M63.3 329.8h.8M36.9 321.3h.8M34.5 323.5h.8M65.8 319.7h.8M57.9 325.0h.8M54.9 324.4h.8M74.8 325.4h.8M75.7 327.4h.8M58.2 325.8h.8M74.3 322.9h.8M56.6 331.0h.8M73.4 328.3h.8M58.1 324.6h.8M68.4 327.3h.8M73.8 320.4h.8M74.0 320.9h.8M53.3 323.2h.8M58.0 330.1h.8M77.5 335.0h.8M56.3 326.1h.8M78.8 317.6h.8M73.0 333.9h.8M75.0 322.1h.8M63.0 326.1h.8M56.4 320.7h.8M77.0 321.5h.8M75.9 320.5h.8M55.2 315.1h.8M36.0 333.9h.8M56.8 323.7h.8M73.6 318.9h.8M64.0 330.5h.8M73.1 332.1h.8M62.5 318.5h.8M64.2 327.8h.8M52.5 324.0h.8M63.7 335.3h.8M56.6 321.8h.8M61.9 322.5h.8M64.6 323.0h.8M50.2 322.2h.8M42.5 333.1h.8M79.5 324.9h.8M66.4 328.5h.8M67.7 321.4h.8M54.2 329.1h.8M61.1 327.3h.8M59.6 329.4h.8M62.4 326.5h.8M70.5 316.3h.8M74.3 331.4h.8M58.7 318.0h.8M68.4 321.4h.8M52.9 332.5h.8M62.8 320.5h.8M49.6 327.2h.8M67.8 327.2h.8M51.3 322.3h.8M63.8 323.6h.8M64.8 323.9h.8M63.5 326.2h.8M71.3 331.2h.8M63.6 316.2h.8M80.1 318.5h.8M66.8 330.8h.8M71.0 331.4h.8M64.2 335.4h.8M70.0 318.0h.8M72.2 323.9h.8M76.2 322.2h.8M73.5 319.5h.8M60.9 324.9h.8M76.8 321.7h.8M67.7 330.5h.8M43.9 332.5h.8M63.0 326.4h.8M72.2 331.1h.8M80.5 331.0h.8M57.3 327.1h.8M48.0 319.8h.8M60.7 324.0h.8M57.8 321.9h.8M83.0 319.4h.8M70.0 319.7h.8M67.6 321.5h.8M45.1 316.2h.8M77.1 331.0h.8M60.9 324.6h.8M67.9 318.3h.8M71.2 339.0h.8M59.0 317.9h.8M57.6 325.4h.8M60.5 333.3h.8M71.1 322.8h.8M66.7 323.3h.8M55.3 332.4h.8M62.1 322.8h.8M79.9 324.1h.8M75.3 313.3h.8M71.8 320.2h.8M59.7 329.5h.8M83.6 314.9h.8M78.9 324.0h.8M58.7 330.2h.8M62.6 322.8h.8M61.6 324.4h.8M58.3 330.3h.8M82.5 321.2h.8M56.7 324.8h.8M55.5 325.8h.8M65.7 325.4h.8M55.9 326.8h.8M49.8 323.6h.8M62.3 325.6h.8M73.3 324.5h.8M52.9 327.3h.8M62.4 328.9h.8M82.4 332.3h.8M63.8 320.9h.8M66.6 324.5h.8M55.7 318.4h.8M76.8 320.9h.8M75.5 330.2h.8M53.6 327.2h.8M63.1 318.7h.8M57.0 326.0h.8M74.6 322.1h.8M61.6 330.1h.8M59.5 322.3h.8M47.0 327.3h.8M56.1 320.9h.8M58.8 321.9h.8M72.5 319.5h.8M73.5 327.0h.8M59.7 335.6h.8M53.4 320.4h.8M32.0 314.7h.8M56.0 325.1h.8M72.6 325.0h.8M55.3 320.9h.8M82.0 323.3h.8M83.3 324.9h.8M59.8 323.6h.8M69.5 329.0h.8M59.8 327.7h.8M49.6 317.8h.8M46.2 323.2h.8M56.5 328.6h.8M60.0 323.4h.8M60.5 318.6h.8M50.1 334.1h.8M70.3 318.7h.8M50.3 327.0h.8M39.5 314.8h.8M58.7 322.7h.8M72.5 320.4h.8M49.7 327.3h.8M53.1 326.0h.8M42.9 323.6h.8M84.0 318.8h.8M63.2 324.8h.8M65.3 324.7h.8M72.0 322.2h.8M53.5 326.2h.8M66.4 317.0h.8M72.1 323.6h.8M74.7 325.4h.8M50.1 323.6h.8M71.5 330.1h.8M61.9 328.3h.8M78.5 326.7h.8M79.9 328.3h.8M53.3 319.7h.8M54.8 333.2h.8M76.9 321.2h.8M63.6 334.8h.8M54.8 325.4h.8M60.0 329.3h.8M43.0 326.9h.8M66.0 330.6h.8M68.7 327.1h.8M53.4 326.7h.8M58.3 333.7h.8M67.5 325.6h.8M65.7 325.7h.8M59.6 328.4h.8M63.8 321.3h.8M73.8 328.8h.8M76.5 323.5h.8M74.4 332.3h.8M71.2 327.3h.8M63.5 318.2h.8M52.7 325.1h.8M75.6 327.8h.8M58.1 326.4h.8M62.8 322.1h.8M63.6 329.3h.8M51.4 323.5h.8M63.6 320.8h.8M53.8 327.5h.8M58.3 332.7h.8M65.7 316.8h.8M58.0 316.6h.8M60.5 332.1h.8M75.0 323.9h.8M57.0 323.6h.8M52.2 321.2h.8M67.9 326.1h.8M66.2 324.7h.8M47.7 328.0h.8M64.3 329.2h.8M65.8 320.9h.8M74.5 329.1h.8M61.2 328.7h.8M69.0 323.3h.8M66.6 322.0h.8M78.9 323.4h.8M74.6 333.7h.8M64.8 328.6h.8M80.3 316.9h.8M50.7 326.2h.8M79.3 330.4h.8M57.1 327.2h.8M83.3 321.9h.8M65.3 323.0h.8M58.3 324.6h.8M40.7 322.6h.8M45.3 321.1h.8M57.8 330.2h.8M52.1 329.5h.8M59.6 322.0h.8M45.6 326.2h.8M63.2 329.1h.8M57.3 316.1h.8M70.2 331.6h.8M64.4 326.1h.8M69.6 326.7h.8M69.8 329.6h.8M70.0 317.8h.8M68.5 324.0h.8M53.2 329.8h.8M56.9 327.4h.8M56.5 328.3h.8M78.8 321.7h.8M55.5 329.8h.8M54.3 330.4h.8M68.3 321.4h.8M58.0 331.6h.8M73.4 326.3h.8M66.6 330.5h.8M57.4 327.2h.8M69.2 331.6h.8M60.1 324.7h.8M67.1 324.6h.8M61.4 328.1h.8M58.8 324.3h.8M67.0 326.1h.8M60.1 325.2h.8M50.9 322.2h.8M56.3 320.6h.8M80.7 335.2h.8M61.5 325.2h.8M62.6 324.0h.8M58.0 329.7h.8M69.9 319.7h.8M66.5 321.8h.8M71.0 322.1h.8M67.5 322.2h.8M62.0 327.2h.8M71.7 319.3h.8M58.1 321.9h.8M45.6 326.7h.8M61.7 324.2h.8M55.2 333.7h.8M54.4 313.7h.8M45.2 334.1h.8M35.1 333.2h.8M50.9 331.6h.8M34.7 331.3h.8M42.7 335.6h.8M51.5 332.2h.8M43.2 335.0h.8M40.7 331.7h.8M60.8 333.5h.8M68.4 333.0h.8M45.8 334.3h.8M52.8 333.5h.8M36.9 332.1h.8M39.4 332.5h.8M67.9 331.6h.8M56.5 334.3h.8M28.4 335.5h.8M53.2 334.2h.8M52.8 335.5h.8M55.5 332.1h.8M41.3 331.7h.8M39.1 331.7h.8M53.2 335.4h.8M47.2 335.5h.8M65.7 334.8h.8M27.2 328.3h.8M65.0 334.4h.8M30.5 332.0h.8M53.2 333.4h.8M32.1 333.3h.8M29.5 332.9h.8M58.6 334.0h.8M41.9 334.7h.8M77.0 332.9h.8M51.8 330.6h.8M61.0 330.2h.8M46.9 335.3h.8M58.3 326.9h.8M38.7 328.6h.8M45.9 330.5h.8M81.3 335.8h.8M36.1 332.8h.8M50.8 335.4h.8M69.4 334.8h.8M32.3 327.1h.8M28.5 331.1h.8M60.7 330.8h.8M67.9 335.0h.8M51.1 335.1h.8M40.0 335.5h.8M51.4 332.2h.8M39.0 329.2h.8M45.4 334.5h.8M44.3 332.5h.8M74.0 339.2h.8M31.1 335.9h.8M49.6 333.4h.8M38.5 332.9h.8M54.3 334.3h.8M42.0 332.3h.8M59.1 336.5h.8M44.0 334.5h.8M60.3 334.2h.8M37.1 333.5h.8M51.2 331.2h.8M50.8 333.4h.8M40.2 336.8h.8M54.3 331.7h.8M66.7 332.8h.8M36.0 331.0h.8M65.0 331.0h.8M54.7 334.4h.8M42.1 334.9h.8M64.6 333.3h.8M50.1 334.8h.8M51.1 336.1h.8M60.7 333.6h.8M53.2 332.6h.8M59.4 332.0h.8M49.6 330.9h.8M83.5 334.0h.8M50.8 334.4h.8M26.7 336.4h.8M27.1 334.7h.8M44.6 334.9h.8M59.1 334.0h.8M64.2 332.8h.8M53.5 332.8h.8M40.5 331.2h.8M55.3 336.9h.8M38.3 332.4h.8M40.4 334.2h.8M22.1 333.8h.8M39.8 331.4h.8M53.5 333.8h.8M54.2 335.9h.8M30.4 335.7h.8M57.6 338.4h.8M69.5 334.5h.8M22.9 333.9h.8M71.6 335.1h.8M49.1 330.9h.8M50.8 330.4h.8M39.0 332.6h.8M55.9 332.1h.8M49.2 333.4h.8M53.9 334.7h.8M56.8 332.8h.8M52.4 332.1h.8M33.1 332.2h.8M49.9 329.3h.8M61.0 334.2h.8M28.0 331.3h.8M37.6 328.8h.8M25.6 334.3h.8M22.0 337.9h.8M69.8 336.6h.8M57.1 335.8h.8M68.7 331.4h.8M72.3 331.8h.8M45.1 328.0h.8M45.4 329.9h.8M82.0 334.2h.8M62.7 332.4h.8M63.3 334.5h.8M44.7 334.5h.8M44.2 330.8h.8M21.5 330.1h.8M58.4 337.4h.8M43.4 332.2h.8M68.6 333.1h.8M54.9 333.4h.8M54.5 333.6h.8M46.1 330.7h.8M52.0 332.8h.8M35.9 332.9h.8M53.6 337.8h.8M65.7 331.5h.8M61.3 330.2h.8M77.4 334.9h.8M40.1 334.2h.8M36.1 330.8h.8M44.4 331.7h.8M54.6 330.8h.8M55.5 334.3h.8M61.6 334.7h.8M60.0 335.6h.8M68.1 335.6h.8M66.9 330.7h.8M46.4 336.4h.8M41.5 334.9h.8M65.3 336.2h.8M41.4 333.9h.8M48.2 334.8h.8M22.7 333.3h.8M66.9 333.4h.8M64.6 336.4h.8M52.2 332.5h.8M42.1 330.9h.8M43.9 333.0h.8M63.9 332.0h.8M40.2 333.3h.8M46.9 336.0h.8M50.4 336.4h.8M51.3 328.0h.8M47.5 331.1h.8M50.3 331.5h.8M63.1 332.8h.8M45.0 337.7h.8M45.5 332.4h.8M45.2 334.9h.8M53.7 333.5h.8M66.9 332.2h.8M60.7 335.1h.8M54.6 332.4h.8M48.1 335.7h.8M36.8 335.4h.8M57.7 334.3h.8M57.7 332.4h.8M73.4 333.5h.8M62.0 333.0h.8M45.5 335.7h.8M36.3 333.3h.8M38.3 330.1h.8M64.3 333.5h.8M23.8 333.3h.8M83.7 335.6h.8M47.0 334.2h.8M46.2 333.9h.8M48.4 333.8h.8M43.6 335.2h.8M33.2 329.8h.8M26.1 332.0h.8M51.8 334.6h.8M61.4 330.2h.8M27.8 334.7h.8M75.6 334.7h.8M48.3 335.6h.8M73.8 335.5h.8M53.2 332.8h.8M42.3 332.5h.8M33.0 334.1h.8M64.9 332.8h.8M61.3 334.8h.8M48.4 333.3h.8M71.5 331.9h.8M40.3 332.6h.8M39.4 334.6h.8M58.8 332.8h.8M59.4 329.7h.8M51.7 338.4h.8M64.1 331.3h.8M62.8 332.1h.8M58.9 334.9h.8M29.9 337.3h.8M30.5 332.5h.8M60.1 334.7h.8M53.4 332.8h.8M61.7 334.2h.8M45.6 335.8h.8M72.7 332.2h.8M44.6 331.2h.8M33.1 333.8h.8M64.1 330.4h.8M47.0 334.1h.8M42.0 335.2h.8M58.9 333.3h.8M67.1 334.2h.8M66.1 334.7h.8M46.7 336.6h.8M40.7 334.2h.8M45.7 331.7h.8M31.9 335.9h.8M69.7 335.7h.8M22.4 334.8h.8M52.0 334.7h.8M54.2 334.7h.8M57.1 335.7h.8M52.6 332.3h.8M50.1 333.2h.8M39.7 337.1h.8M30.2 336.0h.8M46.2 333.2h.8M51.4 334.4h.8M25.5 334.5h.8M48.1 333.4h.8M50.7 333.2h.8M65.9 331.6h.8M39.5 334.5h.8M47.6 335.4h.8M51.4 337.1h.8M64.9 331.5h.8M65.6 331.7h.8M54.8 332.7h.8M30.5 335.1h.8M58.4 332.8h.8M38.3 331.8h.8M48.3 335.7h.8M43.9 333.3h.8M44.6 330.9h.8M44.9 332.1h.8M67.2 333.8h.8M68.5 333.3h.8M52.7 336.3h.8M56.8 333.6h.8M57.2 334.1h.8M66.5 332.2h.8M43.7 331.6h.8M67.5 334.8h.8M46.0 334.6h.8M77.5 335.1h.8M49.2 331.5h.8M58.5 338.8h.8M67.1 332.8h.8M28.2 335.5h.8M38.4 332.6h.8M81.1 332.6h.8M47.0 338.9h.8M74.5 328.6h.8M61.6 332.9h.8M52.8 332.2h.8M54.6 334.8h.8M46.0 335.1h.8M61.0 331.0h.8M75.9 333.8h.8M62.7 336.4h.8M50.0 338.4h.8M37.7 331.3h.8M45.3 337.2h.8M73.2 335.1h.8M36.7 332.6h.8M47.5 333.7h.8M34.1 333.5h.8M43.5 334.4h.8M36.7 332.3h.8M52.2 334.8h.8M51.4 333.8h.8M48.1 332.2h.8M44.2 331.6h.8M57.8 334.2h.8M47.9 331.7h.8M44.5 333.1h.8M64.7 332.7h.8M53.2 332.1h.8M59.5 332.9h.8M38.2 329.5h.8M45.5 332.7h.8M66.7 330.8h.8M41.7 330.9h.8M61.2 334.0h.8M44.9 334.7h.8M52.4 332.4h.8M49.4 334.6h.8M63.3 337.0h.8M54.2 333.5h.8M51.5 331.7h.8M47.8 334.6h.8M44.6 332.8h.8M32.1 334.6h.8M65.1 333.4h.8M52.6 333.8h.8M50.8 333.0h.8M63.9 338.0h.8M64.4 334.0h.8M45.0 330.9h.8M64.5 333.0h.8M58.1 332.4h.8M33.1 334.6h.8M66.5 330.1h.8M52.6 333.2h.8M28.4 337.0h.8M43.3 334.5h.8M50.5 337.2h.8M37.4 332.6h.8M54.1 334.9h.8M50.1 335.7h.8M66.3 334.3h.8M30.9 331.5h.8M27.3 332.4h.8M62.8 336.7h.8M53.0 335.2h.8M44.7 332.8h.8M60.4 330.1h.8M47.4 331.6h.8M53.7 334.6h.8M53.0 336.2h.8M51.5 336.0h.8M53.5 329.3h.8M49.8 331.6h.8M45.0 328.6h.8M46.7 332.7h.8M34.5 332.9h.8M61.5 333.6h.8M59.6 331.6h.8M74.2 331.6h.8M32.9 333.8h.8M58.4 336.1h.8M60.6 335.4h.8M28.6 333.8h.8M41.7 329.0h.8M71.0 331.0h.8M59.2 335.1h.8M45.8 331.4h.8M68.7 333.4h.8M52.4 333.7h.8M54.9 334.7h.8M52.5 335.4h.8M49.6 330.7h.8M39.0 334.5h.8M37.5 333.9h.8M60.7 332.1h.8M49.7 330.9h.8M32.7 334.4h.8M53.1 331.2h.8M44.0 332.0h.8M45.4 332.1h.8M43.1 337.9h.8M43.0 330.7h.8M44.4 335.9h.8M47.1 334.7h.8M45.3 332.6h.8M70.3 333.9h.8M42.1 334.8h.8M30.6 330.4h.8M45.9 332.5h.8M51.3 330.9h.8M56.0 333.0h.8M46.5 334.1h.8M45.0 335.5h.8M37.8 334.0h.8M47.8 328.8h.8M36.2 332.4h.8M56.1 330.8h.8M41.9 332.4h.8M29.9 332.3h.8M63.2 335.3h.8M35.5 331.8h.8M39.8 329.1h.8M81.0 331.9h.8M54.0 332.4h.8M45.6 330.3h.8M34.9 333.0h.8M40.1 334.7h.8M42.2 334.2h.8M56.8 330.9h.8M66.5 333.0h.8M83.9 332.2h.8M64.0 334.8h.8M28.6 330.2h.8M29.3 335.0h.8M49.8 335.3h.8M34.4 334.9h.8M49.3 334.6h.8M58.4 333.6h.8M68.7 330.5h.8M44.5 335.5h.8M35.2 334.9h.8M50.3 334.0h.8M59.3 331.0h.8M60.6 334.8h.8M33.9 331.2h.8M27.2 334.0h.8M67.2 338.5h.8M69.8 332.4h.8M26.9 335.5h.8M60.4 333.5h.8M30.4 330.9h.8M46.2 336.4h.8M70.9 331.5h.8M25.0 333.2h.8M61.0 331.8h.8M51.2 335.2h.8M26.1 337.1h.8M69.5 333.5h.8M53.7 334.5h.8M39.6 334.9h.8M50.8 331.8h.8M48.3 332.8h.8M42.9 334.8h.8M51.1 330.8h.8M41.2 330.1h.8M42.6 332.7h.8M36.2 331.0h.8M40.5 324.0h.8M50.7 325.0h.8M37.8 328.2h.8M48.1 328.1h.8M48.0 329.1h.8M31.6 331.5h.8M56.2 326.9h.8M50.4 327.7h.8M38.1 327.7h.8M29.2 326.8h.8M50.1 330.9h.8M48.6 329.0h.8M39.6 330.8h.8M59.9 329.3h.8M58.7 328.7h.8M42.9 330.7h.8M45.8 327.8h.8M40.5 328.7h.8M44.6 324.3h.8M48.7 332.7h.8M47.7 329.6h.8M49.0 330.7h.8M50.9 327.6h.8M35.8 329.6h.8M48.2 327.0h.8M42.7 329.6h.8M57.3 326.9h.8M37.5 328.4h.8M38.5 327.2h.8M37.4 331.4h.8M48.4 328.9h.8M57.5 336.4h.8M49.6 330.6h.8M37.3 329.9h.8M40.0 324.7h.8M48.0 327.0h.8M56.4 327.8h.8M42.8 326.3h.8M43.6 328.2h.8M49.9 326.5h.8M39.2 325.8h.8M39.5 327.4h.8M43.7 326.8h.8M52.0 326.6h.8M46.8 328.1h.8M47.8 328.6h.8M41.5 328.4h.8M40.8 328.1h.8M53.9 330.5h.8M55.5 326.3h.8M54.3 329.5h.8M50.0 327.7h.8M58.7 326.2h.8M46.8 325.1h.8M42.7 329.4h.8M46.8 329.1h.8M55.2 325.8h.8M31.3 331.0h.8M33.1 327.6h.8M63.1 330.2h.8M43.9 330.8h.8M38.3 330.3h.8M41.8 326.7h.8M37.3 326.9h.8M46.9 332.9h.8M52.4 330.8h.8M43.9 332.7h.8M44.1 332.0h.8M35.3 330.0h.8M36.6 327.6h.8M43.5 323.9h.8M47.9 328.6h.8M31.5 328.2h.8M44.0 324.5h.8M39.8 331.0h.8M41.6 328.0h.8" fill="none" stroke="#000" stroke-width="0.8"/>
<path d="M71.7 330.6h.8M66.1 319.7h.8M83.9 323.1h.8M68.2 316.6h.8M61.4 324.0h.8M77.7 315.4h.8M66.2 328.4h.8M78.5 319.5h.8M64.1 322.2h.8M64.5 332.1h.8M80.5 320.4h.8M83.2 333.0h.8M62.1 325.2h.8M70.3 319.3h.8M68.8 331.7h.8M63.2 328.8h.8M63.4 312.1h.8M84.0 330.5h.8M65.7 327.5h.8M67.7 314.0h.8M80.9 329.8h.8M73.8 331.5h.8M82.5 318.7h.8M82.9 317.9h.8M69.9 331.1h.8M67.0 316.7h.8M71.5 330.0h.8M68.0 318.5h.8M65.6 324.1h.8M68.3 329.9h.8M63.8 325.1h.8M76.8 316.4h.8M61.2 331.9h.8M66.5 323.3h.8M78.9 331.7h.8M77.8 320.3h.8M79.9 333.3h.8M74.5 320.0h.8M82.7 319.3h.8M66.5 330.0h.8M76.6 314.8h.8M69.4 325.1h.8M78.7 321.1h.8M63.9 330.9h.8M67.4 329.4h.8M65.9 334.7h.8M60.0 318.5h.8M60.9 328.4h.8M70.6 319.9h.8M58.8 329.5h.8M70.9 313.5h.8M65.6 323.6h.8M53.0 330.0h.8M69.6 333.0h.8M62.7 322.9h.8M83.7 317.0h.8M63.7 330.1h.8M67.0 330.2h.8M62.3 321.2h.8M84.1 327.6h.8M73.4 330.9h.8M78.2 321.1h.8M81.9 315.9h.8M75.7 320.1h.8M64.6 320.2h.8M79.5 320.5h.8M68.1 330.6h.8M55.9 329.1h.8M78.7 331.1h.8M64.5 326.9h.8M61.0 330.1h.8M62.5 329.1h.8M71.3 333.6h.8M63.0 332.3h.8M69.6 322.6h.8M68.7 321.3h.8M77.0 319.2h.8M83.9 332.3h.8M75.1 321.5h.8M81.6 318.7h.8M54.3 332.7h.8M75.9 311.3h.8M75.1 318.3h.8M83.2 322.9h.8M63.3 332.3h.8M53.7 330.0h.8M54.7 330.1h.8M63.3 331.1h.8M64.4 329.6h.8M63.4 332.0h.8M81.7 314.5h.8M77.0 334.4h.8M67.0 322.5h.8M61.6 331.7h.8M81.2 330.4h.8M79.3 320.4h.8M73.8 319.9h.8M51.2 329.4h.8M61.4 329.4h.8M83.8 312.7h.8M80.4 316.1h.8M73.3 319.8h.8M68.6 327.1h.8M63.3 324.3h.8M61.2 329.2h.8M61.0 327.6h.8M81.1 314.6h.8M64.7 329.8h.8M73.3 329.4h.8M79.3 333.4h.8M62.1 331.9h.8M68.1 319.1h.8M80.2 335.0h.8M69.0 331.0h.8M61.7 327.3h.8M77.5 333.5h.8M60.2 331.6h.8M69.2 323.7h.8M83.4 317.3h.8M64.4 326.3h.8M79.7 319.4h.8M83.3 314.8h.8M84.2 330.5h.8M67.0 330.2h.8M73.9 313.1h.8M74.9 318.9h.8M71.0 321.4h.8M74.7 334.6h.8M56.6 327.1h.8M61.2 327.3h.8M73.5 314.4h.8M77.5 317.8h.8M67.7 322.8h.8M77.9 318.9h.8M76.5 318.2h.8M84.4 324.6h.8M80.2 317.3h.8M65.6 324.5h.8M83.8 322.8h.8M69.5 316.5h.8M66.1 314.8h.8M58.5 324.1h.8M66.8 330.8h.8M79.5 333.0h.8M71.3 330.2h.8M70.7 314.2h.8M78.8 332.8h.8M81.5 318.1h.8M81.1 312.1h.8M71.5 332.4h.8M76.9 334.7h.8M74.3 318.9h.8M82.5 320.6h.8M78.1 320.2h.8M84.5 328.9h.8M71.8 320.5h.8M63.6 328.4h.8M81.2 332.6h.8M67.2 316.7h.8M66.6 327.2h.8M63.8 330.3h.8M65.6 314.4h.8M83.9 319.9h.8M72.0 321.1h.8M68.3 330.3h.8M82.2 332.4h.8M74.1 331.4h.8M65.5 329.3h.8M79.5 330.3h.8M63.4 325.9h.8M64.4 329.9h.8M83.2 318.6h.8M81.6 331.2h.8M84.2 331.2h.8M76.3 332.8h.8M74.8 334.2h.8M57.9 333.1h.8M77.8 331.3h.8M69.4 333.8h.8M81.6 315.5h.8M65.2 324.8h.8M73.9 314.7h.8M76.7 309.5h.8M62.8 330.4h.8M69.1 330.1h.8M60.8 321.0h.8M66.6 330.7h.8M66.0 330.8h.8M61.2 332.1h.8M83.0 334.0h.8M69.6 333.3h.8M68.0 330.9h.8M68.4 330.0h.8M81.6 330.8h.8M71.2 321.6h.8M79.7 316.8h.8M57.6 325.9h.8M63.7 329.0h.8M64.2 320.5h.8M67.3 332.7h.8M70.3 330.1h.8M79.0 318.9h.8M80.9 320.1h.8M73.2 320.6h.8M66.2 322.8h.8M68.7 334.9h.8M84.1 333.1h.8M65.0 330.9h.8M84.1 330.8h.8M76.0 332.4h.8M59.8 330.8h.8M60.7 330.1h.8M76.0 332.0h.8M78.7 318.3h.8M77.3 315.7h.8M66.7 318.3h.8M74.2 320.8h.8M72.2 318.6h.8M83.2 333.4h.8M70.1 322.9h.8M59.2 331.7h.8M67.1 317.7h.8M75.3 320.1h.8M70.6 332.8h.8M67.2 324.5h.8M78.6 317.9h.8M75.9 314.9h.8M64.7 329.1h.8M84.4 331.5h.8M61.6 325.8h.8M75.0 334.4h.8M74.3 331.8h.8M65.8 330.2h.8M75.7 321.4h.8M62.8 327.0h.8M62.8 324.1h.8M60.8 333.7h.8M81.4 330.2h.8M65.0 331.8h.8M80.9 307.4h.8M83.1 312.3h.8M69.5 317.6h.8M58.1 329.5h.8M64.5 332.4h.8M65.7 320.1h.8M64.5 324.0h.8M81.8 331.5h.8M66.6 325.9h.8M66.2 331.2h.8M58.5 332.2h.8M78.3 317.7h.8M74.5 318.5h.8M61.2 331.1h.8M70.2 316.5h.8M63.0 315.5h.8M79.7 315.9h.8M69.1 323.6h.8M79.6 331.1h.8M83.6 321.3h.8M60.3 329.1h.8M79.3 331.8h.8M71.9 317.5h.8M60.6 330.9h.8M76.4 315.4h.8M67.7 323.4h.8M68.0 322.1h.8M76.1 313.9h.8M66.4 325.2h.8M70.4 332.2h.8M65.6 319.5h.8M65.2 332.4h.8M62.2 332.5h.8M68.8 323.6h.8M78.0 314.2h.8M71.4 318.8h.8M68.7 329.3h.8M81.6 317.0h.8M55.3 326.4h.8M73.3 320.8h.8M76.4 316.2h.8M72.8 331.8h.8M72.5 332.8h.8M60.6 316.8h.8M63.5 329.3h.8M61.7 327.6h.8M79.0 332.0h.8M78.5 311.2h.8M63.7 325.7h.8M77.2 317.6h.8M68.6 323.2h.8M76.4 332.6h.8M63.4 328.2h.8M77.4 330.8h.8M84.5 330.7h.8M67.9 320.0h.8M64.4 330.4h.8M70.1 332.1h.8M83.5 334.8h.8M65.0 327.6h.8M78.6 319.1h.8M79.5 313.0h.8M82.5 332.2h.8M61.9 327.0h.8M66.9 323.8h.8M71.2 333.2h.8M78.8 334.9h.8M66.3 325.7h.8M68.9 331.4h.8M63.6 331.6h.8M82.9 330.0h.8M58.7 333.3h.8M69.5 332.2h.8M77.7 329.2h.8M82.3 331.3h.8M81.5 330.8h.8M62.1 329.6h.8M81.6 333.4h.8M68.5 330.9h.8M56.8 331.3h.8M83.5 321.7h.8M65.0 330.4h.8M68.4 331.9h.8M79.7 331.8h.8M83.5 329.2h.8M60.3 322.4h.8M80.6 319.5h.8M79.8 313.2h.8M64.4 328.5h.8M62.6 329.8h.8M75.0 332.2h.8M65.2 331.5h.8M61.1 322.0h.8M69.7 335.0h.8M66.4 327.7h.8M72.3 320.1h.8M76.7 316.2h.8M77.5 313.0h.8M70.0 321.2h.8M65.4 323.3h.8M82.2 316.1h.8M66.6 321.5h.8M71.8 320.2h.8M65.7 322.2h.8M76.3 313.7h.8M82.7 330.9h.8M77.0 309.5h.8M76.9 333.5h.8M69.7 330.3h.8M58.7 329.5h.8M68.1 330.4h.8M75.9 330.5h.8M83.9 331.2h.8M77.5 332.4h.8M81.1 319.1h.8M59.6 331.4h.8M69.5 317.1h.8M57.6 330.6h.8M77.0 316.7h.8M66.8 333.2h.8M84.1 323.2h.8M81.8 314.6h.8M62.7 333.1h.8M60.1 328.0h.8M80.4 317.3h.8M71.1 316.6h.8M62.9 327.6h.8M63.6 314.6h.8M68.1 330.9h.8M82.5 320.7h.8M78.0 318.5h.8M65.4 335.3h.8M84.3 327.9h.8M62.5 324.6h.8M64.5 324.6h.8M64.2 317.5h.8M53.8 327.0h.8M76.3 315.7h.8M82.8 314.5h.8M67.2 323.4h.8M73.0 331.7h.8M79.3 333.7h.8M75.4 321.7h.8M77.5 333.4h.8M69.9 330.1h.8M75.0 331.3h.8M73.2 321.1h.8M66.3 331.0h.8M74.7 317.3h.8M71.2 333.6h.8M69.2 323.4h.8M60.7 332.3h.8M78.5 330.7h.8M79.6 329.6h.8M68.8 321.8h.8M63.3 330.3h.8M82.8 319.7h.8M70.6 332.7h.8M74.7 319.9h.8M79.8 335.4h.8M67.9 332.6h.8M66.6 324.0h.8M67.9 320.4h.8M74.7 317.4h.8M58.1 322.7h.8M84.1 317.9h.8M71.1 318.9h.8M79.8 314.9h.8M66.1 329.5h.8M69.7 332.0h.8M83.7 330.4h.8M83.1 313.6h.8M81.0 319.6h.8M56.9 324.9h.8M50.4 317.4h.8M66.1 330.5h.8M75.3 315.4h.8M74.9 319.4h.8M68.6 323.9h.8M83.7 319.9h.8M84.1 329.9h.8M71.6 313.6h.8M78.7 332.5h.8M63.9 330.1h.8M77.9 316.7h.8M82.9 331.4h.8M58.9 329.0h.8M78.9 335.5h.8M71.3 317.8h.8M71.8 312.5h.8M73.9 330.0h.8M82.2 314.8h.8M80.4 318.7h.8M69.7 315.9h.8M77.1 313.7h.8M70.0 324.2h.8M75.3 315.3h.8M62.7 331.5h.8M72.4 329.3h.8M72.7 332.4h.8M65.1 326.1h.8M58.9 318.8h.8M65.0 325.0h.8M83.3 317.4h.8M71.4 317.7h.8M78.7 315.5h.8M78.5 330.8h.8M82.0 317.0h.8M64.5 331.5h.8M78.7 331.0h.8M64.8 318.7h.8M71.0 331.0h.8M84.0 319.4h.8M75.3 330.5h.8M62.1 331.0h.8M81.1 331.3h.8M61.8 330.6h.8M64.8 332.3h.8M66.4 315.0h.8M71.5 314.1h.8M63.1 320.3h.8M64.4 325.6h.8M82.9 330.0h.8M78.6 333.6h.8M79.4 319.8h.8M67.6 332.5h.8M72.7 319.4h.8M83.0 319.9h.8M72.9 331.9h.8M73.3 335.1h.8M79.4 319.1h.8M61.0 324.7h.8M79.9 313.9h.8M62.1 320.3h.8M79.6 319.4h.8M73.5 332.0h.8M83.5 330.8h.8M70.2 332.0h.8M61.6 331.0h.8M78.1 316.1h.8M70.6 330.1h.8M71.8 319.7h.8M72.5 332.5h.8M68.4 329.6h.8M77.9 314.4h.8M81.7 329.7h.8M63.9 322.5h.8M71.3 320.1h.8M81.2 331.6h.8M77.0 317.9h.8M80.9 306.8h.8M72.2 320.3h.8M64.3 329.3h.8M75.8 319.4h.8M71.0 332.6h.8M80.6 329.7h.8M82.9 318.8h.8M57.6 327.1h.8M57.0 334.1h.8M67.5 329.6h.8M82.4 330.7h.8M57.6 331.1h.8M63.0 328.3h.8M61.7 321.2h.8M71.1 331.2h.8M83.5 314.8h.8M81.0 320.5h.8M64.3 330.1h.8M84.5 323.5h.8M71.8 320.8h.8M68.0 320.2h.8M64.5 322.0h.8M77.7 317.3h.8M76.6 317.3h.8M66.8 323.6h.8M72.4 329.8h.8M84.3 330.4h.8M66.3 332.5h.8M73.0 331.8h.8M81.1 330.4h.8M71.0 317.9h.8M82.9 320.3h.8M60.4 329.1h.8M71.0 331.0h.8M62.2 324.4h.8M61.3 325.9h.8M71.2 329.9h.8M65.7 328.4h.8M64.5 333.9h.8M74.5 320.8h.8M79.0 316.0h.8M63.7 330.3h.8M66.4 325.0h.8M64.4 323.4h.8M63.0 317.9h.8M82.4 332.2h.8M71.7 320.7h.8M82.2 330.6h.8M75.3 320.8h.8M83.2 316.9h.8M80.5 330.1h.8M68.0 330.1h.8M65.8 326.6h.8M76.8 319.2h.8M66.3 323.5h.8M77.1 330.9h.8M67.4 329.9h.8M80.1 330.9h.8M62.2 330.7h.8M68.3 331.8h.8M84.1 329.0h.8M68.4 318.1h.8M83.3 322.0h.8M61.8 319.1h.8M70.6 331.8h.8M66.9 332.5h.8M69.8 320.1h.8M82.2 316.3h.8M69.4 334.2h.8M66.3 320.6h.8M62.8 333.0h.8M67.2 318.6h.8M76.7 317.7h.8M68.1 325.5h.8M77.6 317.2h.8M68.0 321.6h.8M73.0 332.4h.8M78.9 334.4h.8M69.0 320.9h.8M63.1 323.9h.8M73.5 318.8h.8M65.6 334.1h.8M77.4 332.5h.8M81.1 314.7h.8M76.1 333.0h.8M66.8 325.3h.8M67.8 319.2h.8M82.0 331.2h.8M69.9 331.7h.8M81.8 317.9h.8M78.3 331.5h.8M66.3 325.6h.8M81.9 330.5h.8M69.8 331.1h.8M74.7 321.7h.8M63.3 313.3h.8M57.8 333.3h.8M82.0 314.3h.8M66.4 333.5h.8M77.5 332.1h.8M70.9 319.8h.8M78.9 333.3h.8M83.8 329.3h.8M83.0 318.2h.8M78.9 312.4h.8M65.8 329.8h.8M74.5 329.9h.8M79.9 329.5h.8M72.8 320.2h.8M67.7 319.0h.8M73.1 321.9h.8M68.3 324.0h.8M77.6 315.6h.8M71.8 319.3h.8M68.4 330.9h.8M80.2 319.1h.8M72.9 317.3h.8M51.0 324.4h.8M76.6 314.8h.8M82.5 331.5h.8M67.1 332.4h.8M62.9 318.1h.8M82.7 312.1h.8M74.3 329.3h.8M69.7 319.7h.8M62.0 325.5h.8M83.4 312.8h.8M69.2 320.2h.8M82.4 315.8h.8M77.2 315.0h.8M74.8 317.7h.8M66.3 326.8h.8M64.7 322.1h.8M61.8 330.2h.8M78.1 315.4h.8M61.0 326.5h.8M68.6 321.3h.8M65.6 331.3h.8M84.1 321.4h.8M76.0 310.6h.8M79.2 319.4h.8M71.1 330.4h.8M71.3 318.3h.8M60.8 318.9h.8M72.7 323.2h.8M68.8 316.6h.8M84.3 327.4h.8M65.1 327.8h.8M81.8 313.8h.8M83.4 330.6h.8M68.8 317.6h.8M76.8 319.5h.8M69.6 319.2h.8M72.8 329.8h.8M66.8 319.9h.8M68.9 320.4h.8M81.0 321.0h.8M77.7 320.3h.8M54.2 324.9h.8M83.0 321.1h.8M82.2 332.1h.8M57.9 331.5h.8M73.8 330.5h.8M67.6 329.7h.8M64.4 326.0h.8M77.8 329.4h.8M68.2 320.6h.8M78.6 317.8h.8M76.3 332.4h.8M69.0 322.4h.8M66.9 316.0h.8M79.3 311.8h.8M65.9 321.1h.8M64.7 324.3h.8M60.7 331.5h.8M76.9 330.8h.8M65.6 328.4h.8M77.7 331.6h.8M76.1 332.9h.8M79.7 331.9h.8M70.9 318.9h.8M83.7 329.7h.8M68.7 332.1h.8M72.1 321.2h.8M77.0 318.4h.8M64.8 332.1h.8M61.2 327.5h.8M81.6 334.9h.8M64.3 325.4h.8M60.5 327.1h.8M65.4 330.0h.8M63.6 331.2h.8M70.0 317.8h.8M71.3 316.5h.8M76.5 319.2h.8M60.2 324.4h.8M65.5 322.3h.8M82.9 330.6h.8M78.2 317.8h.8M75.0 318.1h.8M68.9 317.9h.8M69.5 330.5h.8M78.5 334.5h.8M82.1 331.4h.8M83.0 316.5h.8M84.1 317.6h.8M61.8 332.2h.8M71.8 332.8h.8M79.7 316.5h.8M65.9 325.6h.8M65.1 331.7h.8M63.0 318.1h.8M63.1 325.2h.8M82.9 321.3h.8M70.7 331.2h.8M64.6 330.0h.8M81.8 320.3h.8M67.8 319.7h.8M76.5 333.8h.8M71.0 314.4h.8M75.6 319.1h.8M82.1 317.6h.8M72.7 317.0h.8M65.3 323.7h.8M77.5 329.3h.8M78.3 314.4h.8M68.8 317.9h.8M80.2 319.4h.8M67.0 325.8h.8M82.7 332.3h.8M68.8 331.7h.8M78.0 320.9h.8M66.1 331.3h.8M79.3 318.6h.8M61.7 329.5h.8M68.9 331.6h.8M65.3 331.1h.8M73.3 330.6h.8M62.8 314.2h.8M70.4 330.5h.8M81.5 319.1h.8M75.7 316.3h.8M76.6 330.2h.8M75.9 313.9h.8M61.8 323.3h.8M75.0 330.8h.8M64.5 327.2h.8M77.2 319.2h.8M66.4 330.8h.8M72.4 334.0h.8M81.9 323.0h.8M76.3 330.1h.8M73.3 331.6h.8M69.8 332.3h.8M53.7 327.7h.8M72.4 320.6h.8M62.6 326.9h.8M63.5 329.7h.8M56.8 332.6h.8M64.6 331.6h.8M58.5 327.2h.8M61.1 330.3h.8M64.6 333.7h.8M71.9 329.3h.8M65.3 328.0h.8M78.7 331.9h.8M67.6 316.8h.8M66.8 324.0h.8M79.1 313.0h.8M54.8 327.2h.8M83.8 327.5h.8M67.8 324.7h.8M70.3 330.3h.8M68.6 321.2h.8M75.1 330.3h.8M78.4 319.0h.8M79.1 331.0h.8M74.2 320.5h.8M66.9 331.5h.8M80.2 315.6h.8M78.9 319.9h.8M79.3 315.6h.8M63.8 330.1h.8M74.5 335.6h.8M73.5 330.6h.8M80.0 332.1h.8M64.0 329.6h.8M75.2 329.1h.8M70.8 312.9h.8M83.0 321.1h.8M67.9 324.2h.8M76.1 334.0h.8M83.8 333.2h.8M64.9 330.1h.8M72.3 332.9h.8M62.9 330.2h.8M83.9 326.3h.8M74.7 330.6h.8M64.4 329.7h.8M55.1 327.3h.8M69.9 318.4h.8M65.5 334.4h.8M68.1 319.9h.8M79.0 320.2h.8M81.5 330.5h.8M81.4 330.3h.8M69.3 311.2h.8M59.7 327.5h.8M75.6 310.0h.8M82.5 333.6h.8M65.5 318.5h.8M77.2 318.6h.8M54.9 328.5h.8M81.9 319.0h.8M58.6 333.0h.8M83.4 331.4h.8M73.4 314.3h.8M66.2 324.9h.8M68.8 322.6h.8M64.2 324.7h.8M65.7 329.9h.8M79.1 319.8h.8M77.2 319.5h.8M77.1 320.0h.8M68.4 323.2h.8M84.0 320.2h.8M76.0 316.8h.8M68.2 319.5h.8M68.7 322.8h.8M65.5 330.8h.8M66.1 324.4h.8M79.3 331.1h.8M74.8 313.4h.8M64.5 324.6h.8M59.9 333.8h.8M76.0 312.6h.8M67.4 329.9h.8M65.2 324.5h.8M72.4 314.5h.8M57.6 324.3h.8M77.5 333.4h.8M71.8 322.0h.8M64.7 327.1h.8M64.8 330.0h.8M60.1 328.0h.8M61.6 330.9h.8M66.7 331.4h.8M76.3 321.1h.8M63.9 325.7h.8M84.2 330.5h.8M71.9 332.1h.8M59.6 320.1h.8M81.6 330.0h.8M84.1 321.0h.8M80.6 318.4h.8M81.3 317.9h.8M78.9 314.3h.8M67.2 325.3h.8M76.0 330.9h.8M68.0 330.2h.8M64.8 319.7h.8M69.6 330.6h.8M83.8 318.7h.8M63.0 330.2h.8M70.6 331.0h.8M83.7 318.2h.8M72.3 320.6h.8M83.7 331.3h.8M65.4 325.1h.8M68.8 317.3h.8M74.7 317.8h.8M69.3 330.6h.8M83.9 330.5h.8M82.3 316.2h.8M68.5 316.3h.8M63.8 330.5h.8M61.1 329.1h.8M65.2 330.6h.8M70.9 323.3h.8M76.0 318.0h.8M74.6 334.7h.8M80.8 329.6h.8M75.0 329.9h.8M74.8 331.6h.8M59.5 323.9h.8M68.1 316.2h.8M67.3 321.1h.8M62.2 320.4h.8M68.6 332.2h.8M60.8 328.5h.8M82.8 316.2h.8M84.2 322.0h.8M82.6 331.2h.8M58.6 321.7h.8M76.6 315.6h.8M70.0 322.3h.8M70.2 331.0h.8M57.3 331.4h.8M62.3 330.5h.8M66.3 328.4h.8M65.6 323.4h.8M67.4 324.6h.8M83.6 330.4h.8M83.0 331.6h.8M64.3 324.6h.8M81.3 318.7h.8M69.7 321.0h.8M70.7 335.3h.8M68.2 323.2h.8M59.5 323.6h.8M82.1 332.2h.8M62.9 322.3h.8M77.3 318.1h.8M74.7 333.8h.8M65.8 330.8h.8M79.8 330.3h.8M66.4 331.3h.8M61.1 329.4h.8M74.2 320.6h.8M66.1 334.0h.8M68.6 319.4h.8M79.6 316.0h.8M60.7 325.1h.8M81.3 314.0h.8M80.6 332.1h.8M70.7 335.2h.8M67.4 328.3h.8M72.5 320.5h.8M78.5 331.9h.8M71.5 330.5h.8M65.8 328.2h.8M61.4 332.2h.8M70.8 319.1h.8M66.6 327.5h.8M69.1 321.3h.8M74.1 315.6h.8M67.4 325.6h.8M83.7 317.9h.8M68.4 325.0h.8M70.5 321.5h.8M80.5 310.6h.8M70.3 318.8h.8M62.9 323.0h.8M78.9 320.1h.8M59.5 324.9h.8M66.0 329.6h.8M79.9 315.7h.8M61.5 330.4h.8M76.0 320.1h.8M69.3 334.7h.8M72.8 316.5h.8M65.4 324.0h.8M67.6 330.3h.8M65.6 330.3h.8M81.3 316.4h.8M83.6 329.7h.8M73.4 331.5h.8M81.3 314.4h.8M64.3 319.6h.8M81.4 319.3h.8M71.3 314.4h.8M83.8 323.7h.8M74.3 309.1h.8M71.4 319.1h.8M73.7 318.9h.8M71.5 313.9h.8M83.4 330.8h.8M72.3 317.0h.8M80.4 312.1h.8M69.5 324.0h.8M84.0 330.5h.8M76.4 330.3h.8M65.3 330.8h.8M82.0 332.6h.8M76.9 331.5h.8M71.4 320.0h.8M71.6 321.1h.8M66.0 327.0h.8M73.9 335.2h.8M60.3 323.0h.8M66.5 331.3h.8M63.8 326.8h.8M84.3 314.8h.8M80.7 330.2h.8M76.9 318.8h.8M76.4 316.3h.8M61.8 333.7h.8M65.2 321.6h.8M66.5 328.8h.8M70.7 320.8h.8M70.3 330.0h.8M63.1 329.2h.8M64.9 327.6h.8M64.2 330.6h.8M66.9 321.2h.8M66.5 321.4h.8M83.6 315.9h.8M80.4 329.6h.8M56.6 332.1h.8M84.1 331.2h.8M69.1 322.6h.8M59.8 334.0h.8M74.4 330.4h.8M70.7 320.3h.8M64.0 327.4h.8M81.0 318.3h.8M84.4 322.5h.8M76.3 332.5h.8M67.6 330.5h.8M69.2 322.8h.8M78.4 319.6h.8M64.8 331.7h.8M63.9 327.4h.8M81.0 318.1h.8M83.3 316.6h.8M69.7 332.4h.8M82.6 316.0h.8M78.0 314.0h.8M76.1 319.5h.8M72.8 335.2h.8M79.0 319.5h.8M75.5 317.3h.8M73.0 317.8h.8M65.7 327.6h.8M67.9 331.8h.8M69.1 334.8h.8M83.8 330.4h.8M67.7 320.1h.8M74.7 335.0h.8M64.3 324.2h.8M84.2 332.2h.8M81.1 318.0h.8M84.2 317.8h.8M64.6 325.3h.8M79.7 331.0h.8M79.9 334.1h.8M83.4 330.3h.8M66.4 319.5h.8M83.8 328.6h.8M68.9 324.2h.8M71.9 329.9h.8M65.5 330.7h.8M61.5 331.2h.8M70.5 316.0h.8M71.7 330.5h.8M82.2 330.7h.8M64.2 332.2h.8M66.8 315.9h.8M68.7 322.8h.8M82.9 313.1h.8M67.4 315.7h.8M78.9 309.7h.8M71.0 329.5h.8M82.4 329.2h.8M69.6 330.7h.8M82.7 320.4h.8M77.8 315.8h.8M79.6 333.8h.8M63.8 326.4h.8M63.0 324.9h.8M67.4 323.3h.8M74.2 332.5h.8M71.8 310.4h.8M69.8 329.5h.8M74.2 318.0h.8M66.2 323.8h.8" fill="none" stroke="#000" stroke-width="0.8"/>
<path d="M66.00 329.50 C63.25 328.75 67.00 326.33 68.00 325.00 C69.00 323.67 70.50 322.33 72.00 321.50 C73.50 320.67 75.42 320.17 77.00 320.00 C78.58 319.83 80.33 320.00 81.50 320.50 C82.67 321.00 83.50 321.50 84.00 323.00 C84.50 324.50 87.50 328.42 84.50 329.50 C81.50 330.58 68.75 330.25 66.00 329.50 Z" fill="#000"/>
<path d="M32.5 355.8h.8M57.5 335.4h.8M67.7 338.8h.8M57.5 355.5h.8M22.9 343.5h.8M68.1 354.5h.8M78.7 344.5h.8M64.1 340.6h.8M67.8 352.8h.8M75.5 351.6h.8M23.4 343.6h.8M21.9 350.5h.8M64.1 338.2h.8M56.0 357.5h.8M53.1 358.2h.8M80.4 351.4h.8M52.1 356.7h.8M55.6 356.0h.8M56.5 336.3h.8M38.3 335.9h.8M68.0 354.0h.8M55.2 338.7h.8M71.8 354.6h.8M56.6 357.5h.8M75.5 346.6h.8M61.7 355.5h.8M22.3 342.4h.8M74.6 341.3h.8M24.1 356.8h.8M76.4 343.5h.8M60.3 354.3h.8M70.8 342.1h.8M66.1 356.4h.8M37.9 339.1h.8M34.9 356.6h.8M58.0 339.5h.8M26.0 354.8h.8M26.3 355.1h.8M50.4 337.7h.8M50.7 334.7h.8M51.1 336.4h.8M61.2 341.3h.8M66.0 338.8h.8M67.5 341.2h.8M27.1 355.0h.8M60.0 338.0h.8M35.6 340.3h.8M35.8 356.9h.8M79.2 343.7h.8M73.0 352.1h.8M26.6 338.9h.8M46.8 336.7h.8M56.0 339.0h.8M22.3 346.7h.8M59.5 338.4h.8M28.0 341.5h.8M22.8 355.7h.8M34.0 337.6h.8M72.7 353.8h.8M48.1 356.4h.8M23.4 341.0h.8M55.2 355.8h.8M54.3 357.2h.8M79.3 346.2h.8M55.3 357.4h.8M51.8 335.9h.8M22.5 354.4h.8M74.8 342.1h.8M52.5 356.9h.8M60.8 356.6h.8M73.9 341.1h.8M22.4 345.6h.8M64.3 337.1h.8M55.8 339.1h.8M25.7 342.6h.8M65.3 339.2h.8M66.8 338.1h.8M69.7 352.7h.8M28.8 339.7h.8M29.1 339.2h.8M60.7 354.4h.8M31.1 340.1h.8M69.6 351.6h.8M42.4 356.5h.8M71.9 341.4h.8M36.7 354.7h.8M42.9 328.4h.8M65.9 354.9h.8M33.4 357.8h.8M38.7 355.4h.8M76.4 341.5h.8M43.0 332.3h.8M69.0 337.5h.8M74.3 341.1h.8M77.3 340.7h.8M65.3 355.6h.8M77.5 352.5h.8M45.0 332.6h.8M71.7 352.5h.8M28.0 352.7h.8M70.0 339.6h.8M63.7 339.5h.8M60.6 329.8h.8M26.7 340.9h.8M41.2 357.8h.8M76.0 346.8h.8M68.1 355.3h.8M29.8 356.7h.8M32.9 356.2h.8M72.4 355.1h.8M22.8 353.6h.8M21.4 351.2h.8M70.9 352.1h.8M77.1 343.4h.8M66.2 340.3h.8M77.4 344.3h.8M67.3 353.2h.8M53.4 338.3h.8M51.2 338.8h.8M55.6 357.4h.8M60.1 340.0h.8M66.3 336.6h.8M72.4 351.9h.8M29.0 337.8h.8M49.2 356.2h.8M26.0 338.3h.8M28.6 354.5h.8M38.8 338.2h.8M57.8 357.9h.8M47.3 335.6h.8M75.0 342.9h.8M32.3 339.9h.8M71.4 351.6h.8M71.2 352.7h.8M74.9 352.7h.8M25.2 353.2h.8M70.9 351.0h.8M74.2 340.0h.8M76.7 354.8h.8M73.4 351.1h.8M36.2 355.7h.8M43.4 355.3h.8M49.9 357.8h.8M31.4 356.2h.8M73.1 352.4h.8M68.3 339.5h.8M47.1 338.0h.8M78.0 345.8h.8M45.0 357.5h.8M29.8 339.1h.8M35.7 356.4h.8M73.8 342.5h.8M35.5 339.9h.8M35.4 356.3h.8M39.5 339.0h.8M48.7 356.8h.8M76.1 345.7h.8M33.1 338.3h.8M44.5 337.8h.8M28.7 356.6h.8M77.0 347.4h.8M55.3 356.3h.8M73.8 353.8h.8M48.5 335.6h.8M28.6 353.6h.8M29.7 339.7h.8M73.2 351.4h.8M38.4 355.4h.8M66.5 340.9h.8M56.0 337.6h.8M26.9 336.1h.8M27.1 338.5h.8M27.1 339.0h.8M21.8 349.7h.8M28.8 340.8h.8M45.2 336.1h.8M60.5 354.6h.8M74.8 344.7h.8M56.1 355.9h.8M25.1 337.5h.8M80.5 348.1h.8M22.9 353.6h.8M39.4 339.9h.8M36.6 355.4h.8M31.2 340.0h.8M33.9 339.6h.8M77.7 347.2h.8M38.0 339.1h.8M43.7 356.7h.8M30.0 357.1h.8M50.0 338.9h.8M52.0 355.2h.8M66.8 354.7h.8M36.7 354.8h.8M57.1 337.4h.8M65.3 355.4h.8M45.4 356.5h.8M23.8 354.1h.8M45.0 338.6h.8M57.7 355.9h.8M72.9 351.8h.8M55.4 339.6h.8M70.7 340.8h.8M40.7 354.6h.8M74.7 342.3h.8M24.3 356.6h.8M36.6 340.5h.8M28.8 336.5h.8M65.5 355.6h.8M61.5 355.8h.8M52.5 335.5h.8M49.9 356.8h.8M22.8 350.7h.8M75.7 346.7h.8M23.1 351.8h.8M23.5 342.3h.8M31.7 338.8h.8M50.5 338.9h.8M62.3 355.2h.8M60.5 340.0h.8M27.1 339.6h.8M38.0 357.1h.8M64.6 338.5h.8M73.6 350.2h.8M57.4 337.2h.8M26.3 354.2h.8M35.6 341.0h.8M38.4 336.1h.8M21.5 353.1h.8M75.2 341.2h.8M68.3 353.9h.8M75.2 351.9h.8M74.5 352.8h.8M29.9 339.1h.8M76.1 353.8h.8M65.0 354.4h.8M78.1 346.2h.8M28.8 354.4h.8M75.0 346.1h.8M29.4 340.9h.8M34.2 339.5h.8M58.5 337.1h.8M22.5 351.4h.8M64.0 358.1h.8M22.3 344.5h.8M69.8 340.3h.8M70.6 352.2h.8M79.9 347.8h.8M41.4 337.0h.8M71.9 354.4h.8M45.6 338.4h.8M45.0 356.9h.8M49.9 338.7h.8M66.8 340.1h.8M63.4 357.7h.8M63.3 354.7h.8M76.3 352.6h.8M29.9 340.0h.8M33.2 357.0h.8M23.1 343.1h.8M71.4 341.8h.8M76.9 349.3h.8M26.3 354.6h.8M44.4 334.0h.8M37.6 357.9h.8M35.2 355.3h.8M58.9 357.2h.8M68.4 339.1h.8M71.1 339.8h.8M70.1 340.6h.8M75.0 345.7h.8M34.1 354.5h.8M32.5 336.6h.8M26.1 355.3h.8M74.0 341.5h.8M43.3 357.8h.8M69.7 353.1h.8M58.8 356.8h.8M64.3 354.6h.8M54.5 356.1h.8M27.4 353.7h.8M75.6 341.0h.8M35.4 340.0h.8M30.6 335.4h.8M78.3 349.2h.8M61.4 355.4h.8M51.3 333.7h.8M74.2 343.3h.8M26.8 356.0h.8M58.4 354.8h.8M75.4 349.3h.8M22.7 341.3h.8M66.2 354.5h.8M21.3 342.5h.8M67.5 336.1h.8M31.9 340.3h.8M80.0 348.9h.8M27.7 338.6h.8M69.5 339.4h.8M38.2 338.3h.8M52.1 338.0h.8M75.5 349.3h.8M45.8 356.2h.8M32.2 340.3h.8M69.8 352.5h.8M71.5 353.2h.8M37.4 355.9h.8M37.3 355.3h.8M73.1 343.9h.8M23.2 343.1h.8M50.0 337.3h.8M72.7 343.0h.8M36.1 337.5h.8M36.0 337.6h.8M31.4 357.2h.8M70.4 340.7h.8M73.9 340.7h.8M39.3 355.4h.8M73.4 351.6h.8M70.7 356.3h.8M66.7 354.9h.8M34.8 356.6h.8M76.4 344.1h.8M71.2 353.4h.8M22.5 355.3h.8M74.5 342.7h.8M52.6 336.0h.8M31.9 356.2h.8M75.2 341.8h.8M67.0 340.2h.8M37.9 338.6h.8M25.9 354.2h.8M75.2 352.6h.8M42.5 339.0h.8M38.3 355.4h.8M43.6 333.2h.8M76.2 349.5h.8M24.1 356.6h.8M23.3 338.0h.8M22.9 345.0h.8M71.1 352.0h.8M43.2 337.2h.8M71.3 352.1h.8M37.0 337.6h.8M78.1 347.9h.8M25.6 340.7h.8M62.9 338.4h.8M54.5 357.3h.8M23.5 351.8h.8M35.5 337.6h.8M76.5 350.8h.8M61.1 338.1h.8M74.5 349.2h.8M22.5 344.6h.8M37.5 356.0h.8M29.1 340.3h.8M52.0 337.3h.8M38.3 338.4h.8M36.5 334.0h.8M63.7 339.1h.8M77.1 346.3h.8M56.6 339.2h.8M29.3 339.2h.8M56.8 338.3h.8M26.3 342.5h.8M46.8 333.6h.8M49.9 336.9h.8M59.6 355.9h.8M21.8 345.4h.8M38.4 339.1h.8M30.6 336.0h.8M32.2 354.3h.8M67.4 338.7h.8M36.6 357.0h.8M29.6 355.1h.8M56.0 339.6h.8M72.2 353.9h.8M23.8 344.5h.8M66.9 355.2h.8M73.1 352.7h.8M74.7 349.4h.8M70.0 340.7h.8M71.0 353.1h.8M73.0 343.5h.8M42.6 357.7h.8M36.8 339.2h.8M60.9 340.1h.8M67.6 338.0h.8M76.1 340.3h.8M77.8 346.6h.8M22.4 345.3h.8M27.8 341.9h.8M46.8 333.5h.8M32.4 357.1h.8M61.1 338.6h.8M27.2 356.4h.8M39.8 356.1h.8M38.4 337.4h.8M56.4 357.2h.8M30.3 339.7h.8M54.6 335.0h.8M51.5 356.8h.8M69.8 337.9h.8M63.4 337.2h.8M31.4 355.1h.8M37.7 338.8h.8M70.1 337.0h.8M63.0 337.8h.8M25.0 340.5h.8M60.3 338.2h.8M72.4 338.9h.8M75.9 351.4h.8M37.9 356.3h.8M74.5 349.7h.8M31.6 355.1h.8M75.7 344.4h.8M74.0 349.5h.8M74.6 346.2h.8M35.1 356.0h.8M60.1 358.1h.8M30.0 356.7h.8M50.7 334.7h.8M24.2 354.1h.8M38.4 358.3h.8M61.0 339.2h.8M69.3 340.6h.8M23.3 343.4h.8M37.8 338.9h.8M28.2 353.8h.8M70.3 352.3h.8M65.1 341.9h.8M69.8 353.0h.8M56.2 338.1h.8M60.8 338.9h.8M28.8 354.0h.8M39.8 356.1h.8M41.4 336.1h.8M50.7 338.2h.8M30.1 355.6h.8M30.1 338.1h.8M52.8 337.3h.8M56.2 356.5h.8M41.1 357.0h.8M69.5 341.0h.8M61.2 336.6h.8M26.0 340.5h.8M67.3 339.3h.8M60.7 354.8h.8M23.6 353.7h.8M65.0 353.0h.8M65.9 339.6h.8M51.7 357.1h.8M33.9 337.6h.8M43.3 337.4h.8M80.2 350.6h.8M51.0 356.2h.8M34.5 357.9h.8M79.3 349.1h.8M25.0 341.6h.8M68.3 355.1h.8M70.6 339.5h.8M39.3 356.5h.8M44.7 337.0h.8M66.5 340.6h.8M71.5 352.0h.8M37.9 338.4h.8M68.0 354.1h.8M73.4 342.4h.8M23.9 355.4h.8M49.4 356.4h.8M47.2 358.2h.8M32.0 340.7h.8M35.1 357.7h.8M53.2 336.5h.8M69.8 340.7h.8M41.6 334.0h.8M71.9 353.3h.8M29.8 353.7h.8M69.5 340.2h.8M69.1 354.8h.8M43.8 339.1h.8M26.7 342.5h.8M21.5 348.7h.8M33.9 335.4h.8M21.5 342.4h.8M22.2 352.3h.8M33.2 355.8h.8M40.4 356.0h.8M28.7 354.4h.8M78.6 344.5h.8M77.8 352.6h.8M75.3 350.4h.8M30.5 340.5h.8M72.8 356.6h.8M48.1 337.9h.8M62.1 355.1h.8M42.9 357.2h.8M33.3 354.9h.8M73.0 340.9h.8M61.9 354.5h.8M30.5 355.9h.8M33.3 355.7h.8M71.8 356.0h.8M40.3 336.7h.8M61.9 340.2h.8M73.4 349.6h.8M33.7 338.7h.8M57.1 335.9h.8M39.2 337.3h.8M26.9 339.7h.8M69.4 353.8h.8M43.0 336.5h.8M28.2 354.7h.8M34.8 339.3h.8M71.2 342.6h.8M64.5 340.2h.8M72.3 343.3h.8M23.2 341.3h.8M27.0 338.1h.8M61.1 355.3h.8M28.1 357.1h.8M60.9 337.6h.8M53.8 357.0h.8M55.2 357.6h.8M53.1 356.7h.8M35.4 337.3h.8M29.2 337.3h.8M33.3 339.8h.8M74.5 346.2h.8M32.2 354.8h.8M45.5 335.4h.8M75.8 349.7h.8M31.1 353.9h.8M34.8 340.1h.8M51.6 357.5h.8M30.5 354.2h.8M65.6 355.6h.8M59.8 337.1h.8M36.3 354.6h.8M72.0 351.1h.8M74.1 354.7h.8M74.9 351.3h.8M60.0 336.3h.8M64.9 340.3h.8M73.9 355.7h.8M64.1 354.5h.8M73.5 352.0h.8M47.9 337.3h.8M75.3 352.8h.8M43.5 355.6h.8M57.7 339.4h.8M22.6 353.2h.8M24.0 341.1h.8M43.6 339.6h.8M61.9 336.4h.8M80.6 349.4h.8M70.9 339.0h.8M44.5 337.7h.8M72.7 339.4h.8M59.7 336.3h.8M67.8 357.6h.8M33.5 356.7h.8M74.0 343.3h.8M21.7 353.0h.8M34.4 356.4h.8M62.6 339.0h.8M21.6 346.1h.8M38.6 337.7h.8M21.9 347.2h.8M77.5 349.2h.8M66.7 353.6h.8M68.2 354.6h.8M75.3 357.6h.8M34.8 340.5h.8M46.8 336.8h.8M46.9 336.0h.8M26.3 338.1h.8M32.6 356.4h.8M31.3 338.0h.8M65.7 354.8h.8M26.1 335.5h.8M65.4 337.9h.8M69.4 341.8h.8M35.5 356.1h.8M59.8 356.1h.8M76.2 350.2h.8M22.8 342.1h.8M54.9 339.6h.8M25.7 339.4h.8M73.2 338.8h.8M71.5 342.0h.8M38.1 338.0h.8M23.9 341.9h.8M38.6 338.7h.8M74.5 351.8h.8M40.4 335.4h.8M60.3 337.7h.8M53.1 357.5h.8M58.7 355.9h.8M71.8 342.7h.8M68.8 337.9h.8M70.2 340.8h.8M46.1 357.1h.8M32.9 339.3h.8M70.5 352.3h.8M32.8 339.8h.8M79.8 353.1h.8M57.0 333.7h.8M59.4 340.5h.8M23.1 341.1h.8M28.6 338.7h.8M72.5 353.5h.8M69.2 356.5h.8M24.2 354.9h.8M61.3 337.8h.8M31.5 339.6h.8M35.5 356.1h.8M29.5 337.4h.8M34.9 335.8h.8M81.8 343.3h.8M21.7 343.3h.8M25.3 340.1h.8M22.8 353.6h.8M52.7 337.8h.8M36.4 339.8h.8M64.7 340.1h.8M74.4 347.1h.8M37.7 339.0h.8M43.5 335.5h.8M52.9 336.4h.8M21.8 352.3h.8M76.0 348.7h.8M25.5 356.4h.8M74.6 349.1h.8M42.4 333.6h.8M51.0 339.1h.8M63.7 337.7h.8M28.7 355.7h.8M62.7 339.9h.8M24.5 354.7h.8M75.9 340.4h.8M32.4 340.0h.8M38.1 338.3h.8M76.7 347.7h.8M61.1 339.3h.8M24.8 355.8h.8M75.7 344.5h.8M79.1 347.3h.8M68.4 353.5h.8M68.3 340.4h.8M30.6 355.6h.8M25.3 355.3h.8M72.6 357.3h.8M25.2 355.7h.8M76.1 347.7h.8M59.4 356.8h.8M28.9 340.8h.8M77.5 345.2h.8M31.5 339.8h.8M26.2 353.5h.8M58.2 339.4h.8M48.3 338.7h.8M27.7 339.3h.8M56.2 337.3h.8M55.8 338.9h.8M70.5 340.5h.8M45.6 335.9h.8M54.0 356.4h.8M28.9 356.4h.8M41.9 357.2h.8M27.0 340.5h.8M30.0 355.5h.8M34.2 356.0h.8M71.8 353.7h.8M77.0 350.8h.8M70.2 339.4h.8M33.2 355.7h.8M54.6 335.8h.8M30.7 338.0h.8M26.0 354.6h.8M70.3 353.4h.8M28.2 356.2h.8M25.3 353.2h.8M63.4 339.4h.8M23.6 341.8h.8M28.0 337.1h.8M59.8 355.8h.8M43.8 333.7h.8M35.4 337.5h.8M40.6 339.6h.8M63.9 338.6h.8M74.7 348.0h.8M61.2 338.6h.8M74.1 351.4h.8M73.6 344.2h.8M45.8 336.6h.8M52.7 339.1h.8M27.4 340.9h.8M50.1 337.1h.8M28.9 356.8h.8M21.7 349.4h.8M64.4 340.7h.8M67.4 355.0h.8M62.9 337.7h.8M55.7 332.0h.8M75.3 348.1h.8M65.7 356.6h.8M36.8 356.3h.8M56.0 338.0h.8M66.5 354.1h.8M69.2 353.6h.8M63.1 339.6h.8M40.2 337.0h.8M61.3 338.0h.8M66.2 356.5h.8M37.6 355.5h.8M69.2 338.9h.8M34.0 357.2h.8M32.7 356.9h.8M68.2 339.6h.8M22.6 353.0h.8M76.7 351.5h.8M62.0 356.2h.8M59.1 356.5h.8M57.1 358.3h.8M69.6 338.1h.8M23.6 351.2h.8M69.8 355.2h.8M50.7 338.6h.8M30.1 355.6h.8M52.8 337.7h.8M56.4 337.1h.8M68.2 354.2h.8M73.9 348.7h.8M23.6 353.8h.8M71.9 356.2h.8M44.1 355.0h.8M69.5 339.9h.8M47.6 356.6h.8M51.7 357.8h.8M46.9 338.1h.8M41.3 337.3h.8M26.7 341.0h.8M76.7 350.9h.8M77.1 344.9h.8M59.6 339.3h.8M33.6 355.5h.8M39.7 340.6h.8M46.1 335.2h.8M40.7 331.9h.8M62.9 353.4h.8M65.2 356.7h.8M24.3 339.3h.8M39.7 338.6h.8M75.5 340.0h.8M24.1 343.0h.8M31.9 354.3h.8M80.2 343.5h.8M48.3 339.2h.8M43.1 338.3h.8M21.9 354.3h.8M30.1 339.7h.8M50.5 335.3h.8M32.4 339.8h.8M27.9 356.3h.8M23.1 344.2h.8M43.8 356.6h.8M22.1 353.9h.8M74.4 342.1h.8M32.0 355.9h.8M58.2 335.4h.8M30.8 354.4h.8M59.5 339.9h.8M72.2 351.9h.8M29.4 340.7h.8M60.2 339.2h.8M74.6 342.2h.8M38.0 340.2h.8M29.3 354.5h.8M24.7 338.7h.8M22.7 348.9h.8M60.5 339.8h.8M40.4 357.1h.8M34.9 339.1h.8M74.1 351.7h.8M69.3 355.7h.8M58.9 355.7h.8M70.8 353.4h.8M54.0 337.9h.8M67.8 340.9h.8M42.8 357.5h.8M73.1 355.5h.8M27.8 355.1h.8M74.6 341.5h.8M69.5 357.6h.8M65.4 354.2h.8M44.0 357.6h.8M75.3 342.6h.8M65.8 340.8h.8M75.4 341.9h.8M24.9 339.9h.8M62.8 355.9h.8M54.2 355.3h.8M28.7 355.7h.8M77.7 341.0h.8M75.7 353.6h.8M56.2 357.8h.8M62.6 338.7h.8M69.4 339.8h.8M49.8 337.5h.8M41.7 357.1h.8M22.5 344.5h.8M77.2 347.6h.8M47.0 336.4h.8M32.1 356.5h.8M67.1 354.5h.8M41.5 338.2h.8M22.3 344.2h.8M66.3 357.6h.8M67.3 355.1h.8M71.8 339.8h.8M49.3 338.2h.8M24.9 341.5h.8M72.6 352.5h.8M29.6 340.7h.8M66.1 354.6h.8M79.3 346.6h.8M74.1 349.4h.8M35.2 337.5h.8M67.7 340.0h.8M22.4 355.6h.8M73.6 355.2h.8M37.5 337.0h.8M26.3 352.2h.8M36.2 338.1h.8M58.2 356.7h.8M24.2 342.3h.8M65.8 340.5h.8M33.0 356.7h.8M57.8 339.5h.8M40.1 354.6h.8M37.9 338.9h.8M53.6 339.6h.8M74.5 344.8h.8M81.9 346.3h.8M25.4 342.0h.8M24.7 339.9h.8M35.4 356.3h.8M52.2 339.1h.8M28.6 337.8h.8M22.9 349.2h.8M65.9 355.3h.8M34.6 339.2h.8M70.9 341.8h.8M32.7 355.7h.8M61.7 336.7h.8M40.2 355.3h.8M63.3 340.5h.8M71.9 343.7h.8M48.3 335.8h.8M24.5 341.0h.8M62.2 356.6h.8M57.8 334.2h.8M26.4 339.6h.8M75.0 346.3h.8M53.9 335.6h.8M72.9 353.1h.8M71.7 353.0h.8M60.2 357.7h.8M74.2 349.3h.8M41.8 356.2h.8M50.4 355.4h.8M38.3 338.8h.8M71.0 338.6h.8M51.7 356.2h.8M72.3 340.6h.8M78.8 344.5h.8M63.6 354.7h.8M25.1 352.9h.8M31.7 339.7h.8M62.5 340.0h.8M73.5 348.2h.8M58.3 358.0h.8M80.4 347.1h.8M69.8 355.5h.8M69.0 339.1h.8M62.3 339.6h.8M71.2 353.3h.8M37.9 357.0h.8M42.2 339.7h.8M27.2 338.2h.8M29.1 338.5h.8M48.3 333.2h.8M22.1 340.5h.8M24.9 339.5h.8M68.4 339.9h.8M66.3 354.8h.8M63.5 354.1h.8M74.8 340.6h.8M80.9 342.0h.8M34.8 337.9h.8M38.7 339.2h.8M64.3 355.4h.8M66.3 342.1h.8M35.3 356.1h.8M56.7 357.5h.8M75.7 346.4h.8M46.6 356.0h.8M34.2 356.1h.8M52.0 335.3h.8M34.8 358.2h.8M60.2 339.0h.8M26.6 340.9h.8M31.5 338.3h.8M30.8 356.1h.8M72.6 354.3h.8M73.8 343.1h.8M23.0 342.5h.8M43.5 358.0h.8M24.4 352.2h.8M49.7 356.6h.8M57.7 337.2h.8M34.4 354.3h.8M78.2 342.5h.8M53.0 332.8h.8M76.0 340.3h.8M62.9 338.1h.8M51.0 337.1h.8M29.8 353.5h.8M61.4 357.1h.8M26.1 338.7h.8M67.5 357.9h.8M43.4 339.2h.8M71.6 342.3h.8M76.1 349.9h.8M45.4 335.5h.8M21.4 350.9h.8M51.6 356.5h.8M70.7 351.8h.8M32.2 339.0h.8M48.9 336.8h.8M61.0 355.6h.8M72.4 341.8h.8M24.5 339.0h.8M23.8 342.6h.8M74.8 344.9h.8M25.9 355.0h.8M61.1 339.1h.8M70.1 339.8h.8M65.6 354.7h.8M39.3 355.1h.8M57.4 356.3h.8M45.5 357.0h.8M70.2 339.0h.8M61.7 339.3h.8M71.8 351.9h.8M52.0 337.7h.8M27.3 354.1h.8M27.2 353.9h.8M77.4 347.6h.8M76.8 350.5h.8M56.2 337.5h.8M23.5 342.8h.8M59.6 338.2h.8M52.0 337.2h.8M30.1 337.4h.8M39.0 338.4h.8M35.5 337.0h.8M60.5 337.9h.8M21.6 354.0h.8M54.3 356.9h.8M60.2 356.4h.8M29.3 357.2h.8M55.3 337.1h.8M45.5 356.6h.8M49.5 336.0h.8M31.8 354.6h.8M71.9 352.3h.8M62.5 355.9h.8M60.9 337.2h.8M33.7 338.1h.8M21.5 350.9h.8M65.6 340.1h.8M70.8 355.8h.8M68.5 355.3h.8M45.7 336.9h.8M74.9 344.1h.8M32.4 355.4h.8M50.5 338.2h.8M58.9 338.7h.8M57.2 357.1h.8M26.2 354.5h.8M41.0 339.1h.8M72.4 343.6h.8M28.8 355.1h.8M63.3 357.3h.8M73.1 341.6h.8M42.6 357.7h.8M75.2 349.5h.8M58.2 337.3h.8M70.7 341.7h.8M35.9 338.3h.8M70.0 340.9h.8M72.6 351.1h.8M77.2 341.0h.8M23.5 353.7h.8M41.5 333.2h.8M42.4 337.1h.8M59.2 338.0h.8M68.1 354.0h.8M77.9 346.2h.8M74.1 349.9h.8M77.2 345.4h.8M61.3 339.2h.8M58.5 339.2h.8M29.2 341.4h.8M72.5 340.0h.8M47.9 338.2h.8M77.9 350.5h.8M61.9 337.9h.8M55.1 334.6h.8M32.4 356.3h.8M71.4 339.5h.8M31.2 355.1h.8M25.8 341.6h.8M64.2 356.7h.8M23.8 341.8h.8M21.4 344.4h.8M24.9 341.6h.8M29.4 355.8h.8M21.6 342.8h.8M62.5 336.3h.8M25.9 341.3h.8M24.3 353.6h.8M51.2 335.3h.8M35.7 337.7h.8M43.3 357.7h.8M21.8 344.5h.8M64.7 338.4h.8M57.3 354.9h.8M24.3 353.3h.8M69.2 355.4h.8M55.2 355.2h.8M27.9 338.9h.8M45.9 333.8h.8M73.4 350.9h.8M74.2 349.3h.8M29.5 340.8h.8M38.6 338.4h.8M23.0 354.2h.8M50.0 358.0h.8M75.3 343.3h.8M35.6 356.0h.8M53.5 357.5h.8M39.5 339.1h.8M58.2 355.0h.8M57.6 339.6h.8M66.5 355.3h.8M76.6 355.4h.8M71.3 340.9h.8M21.4 346.5h.8M33.9 355.9h.8M36.3 336.6h.8M23.2 342.0h.8M36.4 339.1h.8M72.9 340.0h.8M25.8 339.8h.8M67.0 356.2h.8M58.5 339.8h.8M62.3 355.0h.8M77.2 347.8h.8M58.6 356.9h.8M33.1 339.6h.8M37.3 338.0h.8M72.2 343.7h.8M69.6 338.5h.8M26.3 353.2h.8M22.3 342.8h.8M64.6 340.2h.8M33.2 337.7h.8M21.8 353.1h.8M25.8 353.8h.8M42.5 333.2h.8M60.9 339.9h.8M34.4 341.2h.8M62.3 356.5h.8M68.6 341.3h.8M74.8 342.3h.8M37.7 355.8h.8M67.0 340.0h.8M70.1 341.3h.8M30.4 354.6h.8M52.7 356.2h.8M66.2 354.3h.8M75.4 344.3h.8M74.6 340.0h.8M24.2 341.5h.8M61.9 337.7h.8M53.1 355.4h.8M30.6 355.6h.8M52.5 357.3h.8M71.3 354.7h.8M74.4 352.8h.8M48.8 337.6h.8M78.4 341.8h.8M59.5 356.7h.8M44.3 356.1h.8M55.0 339.1h.8M27.5 339.4h.8M30.7 338.7h.8M25.2 354.7h.8M38.0 357.4h.8M73.6 343.3h.8M22.1 351.1h.8M26.2 342.8h.8M41.4 339.9h.8M44.9 358.1h.8M67.5 340.0h.8M64.9 355.7h.8M52.8 333.7h.8M26.8 336.3h.8M75.9 344.7h.8M70.1 338.9h.8M34.9 355.4h.8M58.3 339.1h.8M53.4 357.6h.8M76.9 344.0h.8M48.1 358.2h.8M79.4 341.7h.8M74.8 348.5h.8M29.6 354.3h.8M32.1 337.5h.8M44.7 336.3h.8M49.6 338.6h.8M35.1 357.1h.8M48.5 336.8h.8M36.8 337.5h.8M23.3 350.6h.8M39.0 336.1h.8M72.7 355.5h.8M70.0 341.2h.8M60.3 334.3h.8M60.6 356.6h.8M36.7 336.7h.8M77.9 351.6h.8M22.8 343.7h.8M53.7 355.5h.8M25.0 353.8h.8M33.0 338.6h.8M48.0 334.1h.8M24.9 339.9h.8M46.9 356.4h.8M73.2 337.9h.8M69.0 339.8h.8M31.2 339.0h.8M76.0 343.4h.8M28.2 356.2h.8M41.7 338.4h.8M25.5 354.9h.8M49.8 357.8h.8M46.1 356.4h.8M56.8 355.6h.8M24.6 340.6h.8M33.3 337.4h.8M35.6 337.9h.8M27.7 338.9h.8M70.2 339.0h.8M22.5 349.3h.8M70.2 354.8h.8M66.2 339.9h.8M69.2 354.0h.8M76.0 344.5h.8M38.8 355.4h.8M40.8 338.7h.8M65.3 355.1h.8M64.4 340.2h.8M59.2 339.2h.8M56.7 356.2h.8M25.5 341.2h.8M67.2 354.5h.8M53.8 340.3h.8M59.8 335.9h.8M71.5 340.6h.8M26.1 354.9h.8M75.0 349.8h.8M25.2 354.8h.8M78.7 346.7h.8M76.6 349.4h.8M73.4 343.2h.8M74.0 345.4h.8M71.7 355.9h.8M22.2 353.0h.8M23.1 343.3h.8M39.5 335.3h.8M38.3 332.1h.8M55.1 354.8h.8M74.4 347.3h.8M79.0 349.2h.8M60.9 356.7h.8M56.4 355.2h.8M74.0 350.6h.8M22.5 352.3h.8M57.2 355.8h.8M22.9 341.5h.8M68.9 340.4h.8M65.1 355.6h.8M29.9 353.9h.8M52.9 337.6h.8M57.8 339.0h.8M30.6 354.6h.8M75.1 344.8h.8M33.3 356.4h.8M75.9 351.1h.8M22.2 339.7h.8M75.6 350.8h.8M42.9 338.0h.8M74.8 357.8h.8M67.6 341.4h.8M22.6 351.5h.8M72.1 342.6h.8M75.8 349.6h.8M40.8 336.0h.8M32.5 355.4h.8M37.0 336.3h.8M75.3 341.7h.8M72.5 340.1h.8M50.2 357.7h.8M71.8 340.4h.8M72.8 340.0h.8M69.5 339.0h.8M38.9 355.1h.8M35.5 338.5h.8M49.2 357.1h.8M79.2 345.8h.8M35.7 340.6h.8M67.4 356.2h.8M42.9 335.9h.8M38.2 339.9h.8M57.1 357.5h.8M27.6 354.1h.8M50.2 336.5h.8M36.3 356.3h.8M25.2 355.0h.8M66.7 354.3h.8M56.6 356.0h.8M28.3 341.5h.8M60.8 357.9h.8M60.7 337.4h.8M70.4 340.2h.8M77.6 354.7h.8M39.0 337.5h.8M69.6 353.0h.8M43.3 357.5h.8M24.9 338.3h.8M53.2 336.4h.8M24.3 341.1h.8M63.3 339.2h.8M48.8 330.0h.8M37.4 336.2h.8M29.7 337.4h.8M60.5 338.5h.8M57.7 336.1h.8M59.9 337.0h.8M25.3 341.3h.8M72.5 340.4h.8M27.3 340.4h.8M62.3 357.9h.8M22.4 341.5h.8M37.0 357.1h.8M60.5 339.7h.8M54.7 339.0h.8M66.9 354.8h.8M73.9 339.2h.8M43.0 356.6h.8M27.8 354.8h.8M50.2 334.2h.8M58.9 337.7h.8M76.1 347.0h.8M26.3 355.9h.8M64.0 356.3h.8M57.1 354.8h.8M73.7 353.7h.8M33.2 356.7h.8" fill="none" stroke="#000" stroke-width="0.8"/>
<path d="M23.90 347.00 C23.90 345.52 24.48 343.63 26.00 342.60 C27.52 341.57 29.83 341.15 33.00 340.80 C36.17 340.45 40.83 340.53 45.00 340.50 C49.17 340.47 54.33 340.45 58.00 340.60 C61.67 340.75 64.75 340.87 67.00 341.40 C69.25 341.93 70.62 342.83 71.50 343.80 C72.38 344.77 72.47 346.07 72.30 347.20 C72.13 348.33 71.72 349.67 70.50 350.60 C69.28 351.53 67.42 352.30 65.00 352.80 C62.58 353.30 59.33 353.47 56.00 353.60 C52.67 353.73 48.83 353.67 45.00 353.60 C41.17 353.53 36.17 353.55 33.00 353.20 C29.83 352.85 27.52 352.53 26.00 351.50 C24.48 350.47 23.90 348.48 23.90 347.00 Z" fill="#000" stroke="#000" stroke-width="4.5" stroke-linejoin="round"/>
<path d="M23.90 347.00 C23.90 345.52 24.48 343.63 26.00 342.60 C27.52 341.57 29.83 341.15 33.00 340.80 C36.17 340.45 40.83 340.53 45.00 340.50 C49.17 340.47 54.33 340.45 58.00 340.60 C61.67 340.75 64.75 340.87 67.00 341.40 C69.25 341.93 70.62 342.83 71.50 343.80 C72.38 344.77 72.47 346.07 72.30 347.20 C72.13 348.33 71.72 349.67 70.50 350.60 C69.28 351.53 67.42 352.30 65.00 352.80 C62.58 353.30 59.33 353.47 56.00 353.60 C52.67 353.73 48.83 353.67 45.00 353.60 C41.17 353.53 36.17 353.55 33.00 353.20 C29.83 352.85 27.52 352.53 26.00 351.50 C24.48 350.47 23.90 348.48 23.90 347.00 Z" fill="#1a1a1a" stroke="#f4f4f4" stroke-width="0.8"/>
<path d="M23.90 347.00 C23.90 345.52 24.48 343.63 26.00 342.60 C27.52 341.57 29.83 341.15 33.00 340.80 C36.17 340.45 40.83 340.53 45.00 340.50 C49.17 340.47 54.33 340.45 58.00 340.60 C61.67 340.75 64.75 340.87 67.00 341.40 C69.25 341.93 70.62 342.83 71.50 343.80 C72.38 344.77 72.47 346.07 72.30 347.20 C72.13 348.33 71.72 349.67 70.50 350.60 C69.28 351.53 67.42 352.30 65.00 352.80 C62.58 353.30 59.33 353.47 56.00 353.60 C52.67 353.73 48.83 353.67 45.00 353.60 C41.17 353.53 36.17 353.55 33.00 353.20 C29.83 352.85 27.52 352.53 26.00 351.50 C24.48 350.47 23.90 348.48 23.90 347.00 Z" transform="translate(3.84,27.76) scale(0.92)" fill="none" stroke="#d0d0d0" stroke-width="0.54"/>
<path d="M23.90 347.00 C23.90 345.52 24.48 343.63 26.00 342.60 C27.52 341.57 29.83 341.15 33.00 340.80 C36.17 340.45 40.83 340.53 45.00 340.50 C49.17 340.47 54.33 340.45 58.00 340.60 C61.67 340.75 64.75 340.87 67.00 341.40 C69.25 341.93 70.62 342.83 71.50 343.80 C72.38 344.77 72.47 346.07 72.30 347.20 C72.13 348.33 71.72 349.67 70.50 350.60 C69.28 351.53 67.42 352.30 65.00 352.80 C62.58 353.30 59.33 353.47 56.00 353.60 C52.67 353.73 48.83 353.67 45.00 353.60 C41.17 353.53 36.17 353.55 33.00 353.20 C29.83 352.85 27.52 352.53 26.00 351.50 C24.48 350.47 23.90 348.48 23.90 347.00 Z" transform="translate(8.16,58.99) scale(0.83)" fill="none" stroke="#d0d0d0" stroke-width="0.60"/>
<ellipse cx="54" cy="345.8" rx="15" ry="1.3" fill="#777"/>
<ellipse cx="50" cy="345.8" rx="10" ry="0.7" fill="#ccc"/>
<path d="M63 343.00 A7 2.80 0 0 1 63 348.60" fill="none" stroke="#ccc" stroke-width="0.45"/>
<path d="M63 343.60 A5.5 2.20 0 0 1 63 348.00" fill="none" stroke="#ccc" stroke-width="0.45"/>
<path d="M63 344.20 A4 1.60 0 0 1 63 347.40" fill="none" stroke="#ccc" stroke-width="0.45"/>
<path d="M63 344.80 A2.5 1.00 0 0 1 63 346.80" fill="none" stroke="#ccc" stroke-width="0.45"/>
<rect x="19.00" y="356.20" width="1.8" height="0.7" fill="#000"/>
<rect x="19.00" y="351.90" width="1.8" height="0.7" fill="#000"/>
<rect x="19.00" y="347.60" width="1.8" height="0.7" fill="#000"/>
<rect x="19.00" y="343.30" width="1.8" height="0.7" fill="#000"/>
<rect x="19.00" y="339.00" width="1.8" height="0.7" fill="#000"/>
<rect x="19.00" y="334.70" width="1.8" height="0.7" fill="#000"/>
<rect x="19.00" y="330.40" width="1.8" height="0.7" fill="#000"/>
<rect x="19.00" y="326.10" width="1.8" height="0.7" fill="#000"/>
<rect x="19.00" y="321.80" width="1.8" height="0.7" fill="#000"/>
<rect x="19.00" y="317.50" width="1.8" height="0.7" fill="#000"/>
<rect x="19.00" y="313.20" width="1.8" height="0.7" fill="#000"/>
<rect x="19.00" y="308.90" width="1.8" height="0.7" fill="#000"/>
<rect x="19.00" y="304.60" width="1.8" height="0.7" fill="#000"/>
<rect x="19.00" y="300.30" width="1.8" height="0.7" fill="#000"/>
<rect x="19.00" y="296.00" width="1.8" height="0.7" fill="#000"/>
<rect x="23.80" y="359.20" width="0.7" height="1.8" fill="#000"/>
<rect x="28.10" y="359.20" width="0.7" height="1.8" fill="#000"/>
<rect x="32.40" y="359.20" width="0.7" height="1.8" fill="#000"/>
<rect x="36.70" y="359.20" width="0.7" height="1.8" fill="#000"/>
<rect x="41.00" y="359.20" width="0.7" height="1.8" fill="#000"/>
<rect x="45.30" y="359.20" width="0.7" height="1.8" fill="#000"/>
<rect x="49.60" y="359.20" width="0.7" height="1.8" fill="#000"/>
<rect x="53.90" y="359.20" width="0.7" height="1.8" fill="#000"/>
<rect x="58.20" y="359.20" width="0.7" height="1.8" fill="#000"/>
<rect x="62.50" y="359.20" width="0.7" height="1.8" fill="#000"/>
<rect x="66.80" y="359.20" width="0.7" height="1.8" fill="#000"/>
<rect x="71.10" y="359.20" width="0.7" height="1.8" fill="#000"/>
<rect x="75.40" y="359.20" width="0.7" height="1.8" fill="#000"/>
<rect x="79.70" y="359.20" width="0.7" height="1.8" fill="#000"/>
<rect x="20.8" y="293.4" width="65.00" height="65.80" fill="none" stroke="#000" stroke-width="1"/>
<rect x="21.6" y="302.6" width="63.6" height="28" fill="none" stroke="#c0303c" stroke-width="0.9"/>
<rect x="21.6" y="336.3" width="63.2" height="20.9" fill="none" stroke="#4f7fb5" stroke-width="0.9"/>
<text transform="translate(15.0,325.9) rotate(-90)" font-size="10" text-anchor="middle" fill="#000" stroke="#000" stroke-width="0.08" textLength="15" lengthAdjust="spacingAndGlyphs">GFP</text>
<text x="40.7" y="371.8" font-size="10" fill="#000" stroke="#000" stroke-width="0.06" textLength="26.5" lengthAdjust="spacingAndGlyphs">CD79B</text>
<rect x="85.3" y="306.0" width="34.10000000000001" height="1" fill="#b3303a"/>
<polygon points="118.4,304.2 123.4,306.5 118.4,308.8" fill="#b3303a"/>
<rect x="85.3" y="344.8" width="34.10000000000001" height="1" fill="#52729c"/>
<polygon points="118.4,343.0 123.4,345.3 118.4,347.6" fill="#52729c"/>
<text x="92" y="304.1" font-size="7.8" fill="#c0303c" stroke="#c0303c" stroke-width="0.08" textLength="18.8" lengthAdjust="spacingAndGlyphs">GFP+</text>
<text x="93" y="342.2" font-size="7.8" fill="#222" stroke="#222" stroke-width="0.08" textLength="17.3" lengthAdjust="spacingAndGlyphs">GFP-</text>
<text x="118.8" y="318.6" font-size="8" text-anchor="end" fill="#000" stroke="#000" stroke-width="0.08" textLength="22.6" lengthAdjust="spacingAndGlyphs">unstim</text>
<text x="118.5" y="327.3" font-size="8" text-anchor="end" fill="#000" stroke="#000" stroke-width="0.08" textLength="21.5" lengthAdjust="spacingAndGlyphs">α–IgM</text>
<text x="118.8" y="375.4" font-size="8" text-anchor="end" fill="#000" stroke="#000" stroke-width="0.08" textLength="22.6" lengthAdjust="spacingAndGlyphs">unstim</text>
<text x="118.5" y="383.6" font-size="8" text-anchor="end" fill="#000" stroke="#000" stroke-width="0.08" textLength="21.5" lengthAdjust="spacingAndGlyphs">α–IgM</text>
<rect x="123.5" y="149.6" width="41.00" height="49.90" fill="#fff" stroke="#000" stroke-width="1"/>
<path d="M124.10 188.77 L124.10 188.77 L124.60 188.77 L125.10 188.77 L125.60 188.63 L126.10 187.96 L126.60 187.11 L127.10 186.06 L127.60 184.75 L128.10 183.22 L128.60 181.27 L129.10 179.39 L129.60 177.03 L130.10 174.30 L130.60 171.07 L131.10 168.36 L131.60 165.12 L132.10 162.03 L132.60 160.18 L133.10 157.90 L133.60 154.61 L134.10 154.72 L134.60 154.26 L135.10 155.53 L135.60 158.18 L136.10 162.23 L136.60 165.89 L137.10 170.10 L137.60 173.89 L138.10 177.08 L138.60 180.42 L139.10 183.00 L139.60 185.02 L140.10 186.57 L140.60 187.78 L141.10 188.68 L141.60 188.77 L142.10 188.77 L142.60 188.77 L143.10 188.77 L143.60 188.77 L144.10 188.77 L144.60 188.77 L145.10 188.77 L145.60 188.77 L146.10 188.77 L146.60 188.77 L147.10 188.77 L147.60 188.77 L148.10 188.77 L148.60 188.77 L149.10 188.77 L149.60 188.77 L150.10 188.77 L150.60 188.77 L151.10 188.77 L151.60 188.77 L152.10 188.77 L152.60 188.77 L153.10 188.77 L153.60 188.77 L154.10 188.77 L154.60 188.77 L155.10 188.77 L155.60 188.77 L156.10 188.77 L156.60 188.77 L157.10 188.77 L157.60 188.77 L158.10 188.77 L158.60 188.77 L159.10 188.77 L159.60 188.77 L160.10 188.77 L160.60 188.77 L161.10 188.77 L161.60 188.77 L162.10 188.77 L162.60 188.77 L163.10 188.77 L163.60 188.77 L163.60 188.77 Z" fill="#000"/>
<rect x="123.5" y="188.32" width="41.00" height="0.9" fill="#333"/>
<path d="M124.10 198.9 L124.10 198.90 L124.60 198.90 L125.10 198.90 L125.60 198.90 L126.10 198.59 L126.60 198.07 L127.10 197.45 L127.60 196.70 L128.10 195.84 L128.60 194.88 L129.10 193.64 L129.60 192.32 L130.10 190.85 L130.60 189.05 L131.10 187.35 L131.60 185.45 L132.10 183.47 L132.60 180.87 L133.10 178.76 L133.60 176.34 L134.10 174.77 L134.60 172.61 L135.10 170.05 L135.60 169.42 L136.10 168.11 L136.60 166.85 L137.10 166.44 L137.60 166.18 L138.10 166.74 L138.60 168.38 L139.10 169.20 L139.60 170.90 L140.10 172.68 L140.60 174.35 L141.10 176.65 L141.60 178.58 L142.10 180.81 L142.60 182.51 L143.10 184.43 L143.60 186.14 L144.10 187.88 L144.60 189.36 L145.10 190.76 L145.60 192.27 L146.10 193.43 L146.60 194.46 L147.10 195.37 L147.60 196.16 L148.10 196.89 L148.60 197.53 L149.10 198.07 L149.60 198.53 L150.10 198.90 L150.60 198.90 L151.10 198.90 L151.60 198.90 L152.10 198.90 L152.60 198.90 L153.10 198.90 L153.60 198.90 L154.10 198.90 L154.60 198.90 L155.10 198.90 L155.60 198.90 L156.10 198.90 L156.60 198.90 L157.10 198.90 L157.60 198.90 L158.10 198.90 L158.60 198.90 L159.10 198.90 L159.60 198.90 L160.10 198.90 L160.60 198.90 L161.10 198.90 L161.60 198.90 L162.10 198.90 L162.60 198.90 L163.10 198.90 L163.60 198.90 L163.60 198.9 Z" fill="#c6c92a" stroke="#000" stroke-width="0.85" stroke-linejoin="round"/>
<path d="M124.70 199.50v2.4M127.71 199.50v1.5M129.47 199.50v1.5M130.72 199.50v1.5M131.69 199.50v1.5M132.48 199.50v1.5M133.15 199.50v1.5M133.73 199.50v1.5M134.24 199.50v1.5M134.70 199.50v2.4M137.71 199.50v1.5M139.47 199.50v1.5M140.72 199.50v1.5M141.69 199.50v1.5M142.48 199.50v1.5M143.15 199.50v1.5M143.73 199.50v1.5M144.24 199.50v1.5M144.70 199.50v2.4M147.71 199.50v1.5M149.47 199.50v1.5M150.72 199.50v1.5M151.69 199.50v1.5M152.48 199.50v1.5M153.15 199.50v1.5M153.73 199.50v1.5M154.24 199.50v1.5M154.70 199.50v2.4M157.71 199.50v1.5M159.47 199.50v1.5M160.72 199.50v1.5M161.69 199.50v1.5M162.48 199.50v1.5M163.15 199.50v1.5" stroke="#000" stroke-width="0.6" fill="none"/>
<rect x="170.2" y="149.6" width="40.20" height="49.90" fill="#fff" stroke="#000" stroke-width="1"/>
<path d="M170.80 188.77 L170.80 188.77 L171.30 188.77 L171.80 188.77 L172.30 188.77 L172.80 188.77 L173.30 188.75 L173.80 188.12 L174.30 187.31 L174.80 186.36 L175.30 185.11 L175.80 183.66 L176.30 181.97 L176.80 179.70 L177.30 177.55 L177.80 175.17 L178.30 172.40 L178.80 169.24 L179.30 165.82 L179.80 163.11 L180.30 161.08 L180.80 157.41 L181.30 155.73 L181.80 155.42 L182.30 154.27 L182.80 155.22 L183.30 157.95 L183.80 162.10 L184.30 165.23 L184.80 169.30 L185.30 173.30 L185.80 176.92 L186.30 179.85 L186.80 182.35 L187.30 184.63 L187.80 186.24 L188.30 187.58 L188.80 188.53 L189.30 188.77 L189.80 188.77 L190.30 188.77 L190.80 188.77 L191.30 188.77 L191.80 188.77 L192.30 188.77 L192.80 188.77 L193.30 188.77 L193.80 188.77 L194.30 188.77 L194.80 188.77 L195.30 188.77 L195.80 188.77 L196.30 188.77 L196.80 188.77 L197.30 188.77 L197.80 188.77 L198.30 188.77 L198.80 188.77 L199.30 188.77 L199.80 188.77 L200.30 188.77 L200.80 188.77 L201.30 188.77 L201.80 188.77 L202.30 188.77 L202.80 188.77 L203.30 188.77 L203.80 188.77 L204.30 188.77 L204.80 188.77 L205.30 188.77 L205.80 188.77 L206.30 188.77 L206.80 188.77 L207.30 188.77 L207.80 188.77 L208.30 188.77 L208.80 188.77 L209.30 188.77 L209.80 188.77 L209.80 188.77 Z" fill="#000"/>
<rect x="170.2" y="188.32" width="40.20" height="0.9" fill="#333"/>
<path d="M170.80 198.9 L170.80 198.90 L171.30 198.90 L171.80 198.90 L172.30 198.90 L172.80 198.90 L173.30 198.90 L173.80 198.90 L174.30 198.90 L174.80 198.79 L175.30 198.25 L175.80 197.60 L176.30 196.78 L176.80 195.88 L177.30 194.77 L177.80 193.46 L178.30 191.91 L178.80 190.38 L179.30 188.53 L179.80 186.37 L180.30 184.14 L180.80 181.61 L181.30 178.96 L181.80 176.66 L182.30 174.31 L182.80 171.40 L183.30 169.80 L183.80 167.18 L184.30 165.46 L184.80 163.96 L185.30 164.38 L185.80 164.12 L186.30 164.93 L186.80 165.69 L187.30 166.46 L187.80 168.48 L188.30 170.55 L188.80 172.26 L189.30 175.13 L189.80 176.86 L190.30 178.92 L190.80 181.51 L191.30 183.21 L191.80 185.59 L192.30 187.25 L192.80 189.02 L193.30 190.54 L193.80 192.03 L194.30 193.27 L194.80 194.40 L195.30 195.53 L195.80 196.34 L196.30 197.14 L196.80 197.77 L197.30 198.32 L197.80 198.79 L198.30 198.90 L198.80 198.90 L199.30 198.90 L199.80 198.90 L200.30 198.90 L200.80 198.90 L201.30 198.90 L201.80 198.90 L202.30 198.90 L202.80 198.90 L203.30 198.90 L203.80 198.90 L204.30 198.90 L204.80 198.90 L205.30 198.90 L205.80 198.90 L206.30 198.90 L206.80 198.90 L207.30 198.90 L207.80 198.90 L208.30 198.90 L208.80 198.90 L209.30 198.90 L209.80 198.90 L209.80 198.9 Z" fill="#d8dc2c" stroke="#000" stroke-width="0.85" stroke-linejoin="round"/>
<path d="M171.40 199.50v2.4M174.41 199.50v1.5M176.17 199.50v1.5M177.42 199.50v1.5M178.39 199.50v1.5M179.18 199.50v1.5M179.85 199.50v1.5M180.43 199.50v1.5M180.94 199.50v1.5M181.40 199.50v2.4M184.41 199.50v1.5M186.17 199.50v1.5M187.42 199.50v1.5M188.39 199.50v1.5M189.18 199.50v1.5M189.85 199.50v1.5M190.43 199.50v1.5M190.94 199.50v1.5M191.40 199.50v2.4M194.41 199.50v1.5M196.17 199.50v1.5M197.42 199.50v1.5M198.39 199.50v1.5M199.18 199.50v1.5M199.85 199.50v1.5M200.43 199.50v1.5M200.94 199.50v1.5M201.40 199.50v2.4M204.41 199.50v1.5M206.17 199.50v1.5M207.42 199.50v1.5M208.39 199.50v1.5M209.18 199.50v1.5" stroke="#000" stroke-width="0.6" fill="none"/>
<rect x="217.2" y="149.6" width="40.30" height="49.90" fill="#fff" stroke="#000" stroke-width="1"/>
<path d="M217.80 188.77 L217.80 188.77 L218.30 188.77 L218.80 188.77 L219.30 188.77 L219.80 188.77 L220.30 188.77 L220.80 188.76 L221.30 187.62 L221.80 185.96 L222.30 183.60 L222.80 180.42 L223.30 176.86 L223.80 172.05 L224.30 167.10 L224.80 162.27 L225.30 158.21 L225.80 155.66 L226.30 153.94 L226.80 157.09 L227.30 161.37 L227.80 165.84 L228.30 171.30 L228.80 176.49 L229.30 181.02 L229.80 184.19 L230.30 186.58 L230.80 188.15 L231.30 188.77 L231.80 188.77 L232.30 188.77 L232.80 188.77 L233.30 188.77 L233.80 188.77 L234.30 188.77 L234.80 188.77 L235.30 188.77 L235.80 188.77 L236.30 188.77 L236.80 188.77 L237.30 188.77 L237.80 188.77 L238.30 188.77 L238.80 188.77 L239.30 188.77 L239.80 188.77 L240.30 188.77 L240.80 188.77 L241.30 188.77 L241.80 188.77 L242.30 188.77 L242.80 188.77 L243.30 188.77 L243.80 188.77 L244.30 188.77 L244.80 188.77 L245.30 188.77 L245.80 188.77 L246.30 188.77 L246.80 188.77 L247.30 188.77 L247.80 188.77 L248.30 188.77 L248.80 188.77 L249.30 188.77 L249.80 188.77 L250.30 188.77 L250.80 188.77 L251.30 188.77 L251.80 188.77 L252.30 188.77 L252.80 188.77 L253.30 188.77 L253.80 188.77 L254.30 188.77 L254.80 188.77 L255.30 188.77 L255.80 188.77 L256.30 188.77 L256.80 188.77 L256.80 188.77 Z" fill="#000"/>
<rect x="217.2" y="188.32" width="40.30" height="0.9" fill="#333"/>
<path d="M217.80 198.9 L217.80 198.90 L218.30 198.90 L218.80 198.69 L219.30 198.04 L219.80 197.22 L220.30 196.17 L220.80 194.93 L221.30 193.50 L221.80 191.84 L222.30 189.69 L222.80 187.42 L223.30 184.96 L223.80 182.57 L224.30 179.37 L224.80 176.93 L225.30 174.06 L225.80 170.89 L226.30 168.90 L226.80 166.86 L227.30 165.46 L227.80 165.60 L228.30 164.89 L228.80 165.71 L229.30 168.07 L229.80 169.12 L230.30 170.83 L230.80 173.06 L231.30 175.30 L231.80 178.02 L232.30 179.75 L232.80 182.00 L233.30 184.35 L233.80 186.35 L234.30 188.39 L234.80 190.06 L235.30 191.50 L235.80 192.88 L236.30 194.25 L236.80 195.35 L237.30 196.19 L237.80 197.06 L238.30 197.74 L238.80 198.31 L239.30 198.79 L239.80 198.90 L240.30 198.90 L240.80 198.90 L241.30 198.90 L241.80 198.90 L242.30 198.90 L242.80 198.90 L243.30 198.90 L243.80 198.90 L244.30 198.90 L244.80 198.90 L245.30 198.90 L245.80 198.90 L246.30 198.90 L246.80 198.90 L247.30 198.90 L247.80 198.90 L248.30 198.90 L248.80 198.90 L249.30 198.90 L249.80 198.90 L250.30 198.90 L250.80 198.90 L251.30 198.90 L251.80 198.90 L252.30 198.90 L252.80 198.90 L253.30 198.90 L253.80 198.90 L254.30 198.90 L254.80 198.90 L255.30 198.90 L255.80 198.90 L256.30 198.90 L256.80 198.90 L256.80 198.9 Z" fill="#999c2c" stroke="#000" stroke-width="0.85" stroke-linejoin="round"/>
<path d="M218.40 199.50v2.4M221.41 199.50v1.5M223.17 199.50v1.5M224.42 199.50v1.5M225.39 199.50v1.5M226.18 199.50v1.5M226.85 199.50v1.5M227.43 199.50v1.5M227.94 199.50v1.5M228.40 199.50v2.4M231.41 199.50v1.5M233.17 199.50v1.5M234.42 199.50v1.5M235.39 199.50v1.5M236.18 199.50v1.5M236.85 199.50v1.5M237.43 199.50v1.5M237.94 199.50v1.5M238.40 199.50v2.4M241.41 199.50v1.5M243.17 199.50v1.5M244.42 199.50v1.5M245.39 199.50v1.5M246.18 199.50v1.5M246.85 199.50v1.5M247.43 199.50v1.5M247.94 199.50v1.5M248.40 199.50v2.4M251.41 199.50v1.5M253.17 199.50v1.5M254.42 199.50v1.5M255.39 199.50v1.5M256.18 199.50v1.5" stroke="#000" stroke-width="0.6" fill="none"/>
<rect x="123.5" y="204.0" width="41.00" height="49.30" fill="#fff" stroke="#000" stroke-width="1"/>
<path d="M124.10 242.7 L124.10 242.70 L124.60 242.70 L125.10 242.70 L125.60 242.70 L126.10 242.70 L126.60 242.32 L127.10 241.60 L127.60 240.68 L128.10 239.61 L128.60 238.09 L129.10 236.49 L129.60 234.82 L130.10 232.53 L130.60 229.78 L131.10 227.20 L131.60 224.76 L132.10 221.41 L132.60 217.97 L133.10 216.16 L133.60 212.56 L134.10 211.12 L134.60 209.51 L135.10 208.47 L135.60 209.88 L136.10 210.77 L136.60 214.45 L137.10 217.52 L137.60 222.33 L138.10 225.48 L138.60 229.42 L139.10 232.83 L139.60 235.60 L140.10 237.69 L140.60 239.68 L141.10 241.05 L141.60 242.12 L142.10 242.70 L142.60 242.70 L143.10 242.70 L143.60 242.70 L144.10 242.70 L144.60 242.70 L145.10 242.70 L145.60 242.70 L146.10 242.70 L146.60 242.70 L147.10 242.70 L147.60 242.70 L148.10 242.70 L148.60 242.70 L149.10 242.70 L149.60 242.70 L150.10 242.70 L150.60 242.70 L151.10 242.70 L151.60 242.70 L152.10 242.70 L152.60 242.70 L153.10 242.70 L153.60 242.70 L154.10 242.70 L154.60 242.70 L155.10 242.70 L155.60 242.70 L156.10 242.70 L156.60 242.70 L157.10 242.70 L157.60 242.70 L158.10 242.70 L158.60 242.70 L159.10 242.70 L159.60 242.70 L160.10 242.70 L160.60 242.70 L161.10 242.70 L161.60 242.70 L162.10 242.70 L162.60 242.70 L163.10 242.70 L163.60 242.70 L163.60 242.7 Z" fill="#000"/>
<rect x="123.5" y="242.25" width="41.00" height="0.9" fill="#333"/>
<path d="M124.10 252.70000000000002 L124.10 252.70 L124.60 252.70 L125.10 252.70 L125.60 252.70 L126.10 252.65 L126.60 252.17 L127.10 251.59 L127.60 250.89 L128.10 250.05 L128.60 249.07 L129.10 248.06 L129.60 246.72 L130.10 245.31 L130.60 243.65 L131.10 241.79 L131.60 239.99 L132.10 237.84 L132.60 235.76 L133.10 233.41 L133.60 231.24 L134.10 228.62 L134.60 226.12 L135.10 224.00 L135.60 222.72 L136.10 220.52 L136.60 219.87 L137.10 219.10 L137.60 218.33 L138.10 219.69 L138.60 219.70 L139.10 221.86 L139.60 223.28 L140.10 224.32 L140.60 226.65 L141.10 228.59 L141.60 230.10 L142.10 232.56 L142.60 234.21 L143.10 236.67 L143.60 238.43 L144.10 240.35 L144.60 241.67 L145.10 243.36 L145.60 244.90 L146.10 246.21 L146.60 247.31 L147.10 248.49 L147.60 249.41 L148.10 250.17 L148.60 250.88 L149.10 251.51 L149.60 252.04 L150.10 252.48 L150.60 252.70 L151.10 252.70 L151.60 252.70 L152.10 252.70 L152.60 252.70 L153.10 252.70 L153.60 252.70 L154.10 252.70 L154.60 252.70 L155.10 252.70 L155.60 252.70 L156.10 252.70 L156.60 252.70 L157.10 252.70 L157.60 252.70 L158.10 252.70 L158.60 252.70 L159.10 252.70 L159.60 252.70 L160.10 252.70 L160.60 252.70 L161.10 252.70 L161.60 252.70 L162.10 252.70 L162.60 252.70 L163.10 252.70 L163.60 252.70 L163.60 252.70000000000002 Z" fill="#c6c92a" stroke="#000" stroke-width="0.85" stroke-linejoin="round"/>
<path d="M124.70 253.30v2.4M127.71 253.30v1.5M129.47 253.30v1.5M130.72 253.30v1.5M131.69 253.30v1.5M132.48 253.30v1.5M133.15 253.30v1.5M133.73 253.30v1.5M134.24 253.30v1.5M134.70 253.30v2.4M137.71 253.30v1.5M139.47 253.30v1.5M140.72 253.30v1.5M141.69 253.30v1.5M142.48 253.30v1.5M143.15 253.30v1.5M143.73 253.30v1.5M144.24 253.30v1.5M144.70 253.30v2.4M147.71 253.30v1.5M149.47 253.30v1.5M150.72 253.30v1.5M151.69 253.30v1.5M152.48 253.30v1.5M153.15 253.30v1.5M153.73 253.30v1.5M154.24 253.30v1.5M154.70 253.30v2.4M157.71 253.30v1.5M159.47 253.30v1.5M160.72 253.30v1.5M161.69 253.30v1.5M162.48 253.30v1.5M163.15 253.30v1.5" stroke="#000" stroke-width="0.6" fill="none"/>
<rect x="170.2" y="204.0" width="40.20" height="49.30" fill="#fff" stroke="#000" stroke-width="1"/>
<path d="M170.80 242.7 L170.80 242.70 L171.30 242.70 L171.80 242.70 L172.30 242.70 L172.80 242.70 L173.30 242.68 L173.80 242.05 L174.30 241.26 L174.80 240.26 L175.30 239.00 L175.80 237.60 L176.30 235.74 L176.80 233.79 L177.30 231.75 L177.80 228.68 L178.30 226.04 L178.80 223.42 L179.30 219.84 L179.80 216.93 L180.30 215.01 L180.80 212.83 L181.30 209.92 L181.80 208.41 L182.30 209.31 L182.80 209.59 L183.30 212.53 L183.80 215.86 L184.30 219.66 L184.80 223.82 L185.30 227.60 L185.80 230.88 L186.30 233.99 L186.80 236.54 L187.30 238.60 L187.80 240.24 L188.30 241.52 L188.80 242.46 L189.30 242.70 L189.80 242.70 L190.30 242.70 L190.80 242.70 L191.30 242.70 L191.80 242.70 L192.30 242.70 L192.80 242.70 L193.30 242.70 L193.80 242.70 L194.30 242.70 L194.80 242.70 L195.30 242.70 L195.80 242.70 L196.30 242.70 L196.80 242.70 L197.30 242.70 L197.80 242.70 L198.30 242.70 L198.80 242.70 L199.30 242.70 L199.80 242.70 L200.30 242.70 L200.80 242.70 L201.30 242.70 L201.80 242.70 L202.30 242.70 L202.80 242.70 L203.30 242.70 L203.80 242.70 L204.30 242.70 L204.80 242.70 L205.30 242.70 L205.80 242.70 L206.30 242.70 L206.80 242.70 L207.30 242.70 L207.80 242.70 L208.30 242.70 L208.80 242.70 L209.30 242.70 L209.80 242.70 L209.80 242.7 Z" fill="#000"/>
<rect x="170.2" y="242.25" width="40.20" height="0.9" fill="#333"/>
<path d="M170.80 252.70000000000002 L170.80 252.70 L171.30 252.70 L171.80 252.70 L172.30 252.70 L172.80 252.70 L173.30 252.70 L173.80 252.60 L174.30 252.08 L174.80 251.44 L175.30 250.66 L175.80 249.77 L176.30 248.66 L176.80 247.52 L177.30 245.97 L177.80 244.43 L178.30 242.76 L178.80 240.58 L179.30 238.71 L179.80 236.33 L180.30 233.84 L180.80 231.47 L181.30 229.02 L181.80 226.47 L182.30 224.89 L182.80 222.32 L183.30 221.33 L183.80 219.98 L184.30 218.32 L184.80 218.64 L185.30 219.53 L185.80 220.95 L186.30 221.60 L186.80 223.69 L187.30 225.27 L187.80 227.64 L188.30 229.80 L188.80 231.76 L189.30 233.48 L189.80 235.92 L190.30 237.74 L190.80 239.85 L191.30 241.48 L191.80 243.30 L192.30 244.83 L192.80 246.16 L193.30 247.39 L193.80 248.49 L194.30 249.42 L194.80 250.23 L195.30 251.02 L195.80 251.62 L196.30 252.15 L196.80 252.59 L197.30 252.70 L197.80 252.70 L198.30 252.70 L198.80 252.70 L199.30 252.70 L199.80 252.70 L200.30 252.70 L200.80 252.70 L201.30 252.70 L201.80 252.70 L202.30 252.70 L202.80 252.70 L203.30 252.70 L203.80 252.70 L204.30 252.70 L204.80 252.70 L205.30 252.70 L205.80 252.70 L206.30 252.70 L206.80 252.70 L207.30 252.70 L207.80 252.70 L208.30 252.70 L208.80 252.70 L209.30 252.70 L209.80 252.70 L209.80 252.70000000000002 Z" fill="#d8dc2c" stroke="#000" stroke-width="0.85" stroke-linejoin="round"/>
<path d="M171.40 253.30v2.4M174.41 253.30v1.5M176.17 253.30v1.5M177.42 253.30v1.5M178.39 253.30v1.5M179.18 253.30v1.5M179.85 253.30v1.5M180.43 253.30v1.5M180.94 253.30v1.5M181.40 253.30v2.4M184.41 253.30v1.5M186.17 253.30v1.5M187.42 253.30v1.5M188.39 253.30v1.5M189.18 253.30v1.5M189.85 253.30v1.5M190.43 253.30v1.5M190.94 253.30v1.5M191.40 253.30v2.4M194.41 253.30v1.5M196.17 253.30v1.5M197.42 253.30v1.5M198.39 253.30v1.5M199.18 253.30v1.5M199.85 253.30v1.5M200.43 253.30v1.5M200.94 253.30v1.5M201.40 253.30v2.4M204.41 253.30v1.5M206.17 253.30v1.5M207.42 253.30v1.5M208.39 253.30v1.5M209.18 253.30v1.5" stroke="#000" stroke-width="0.6" fill="none"/>
<rect x="217.2" y="204.0" width="40.30" height="49.30" fill="#fff" stroke="#000" stroke-width="1"/>
<path d="M217.80 242.7 L217.80 242.70 L218.30 242.70 L218.80 242.70 L219.30 242.70 L219.80 242.70 L220.30 242.70 L220.80 242.70 L221.30 242.70 L221.80 242.70 L222.30 242.08 L222.80 240.68 L223.30 238.74 L223.80 236.00 L224.30 232.82 L224.80 228.54 L225.30 223.77 L225.80 219.53 L226.30 214.95 L226.80 211.52 L227.30 209.35 L227.80 209.68 L228.30 213.59 L228.80 218.37 L229.30 224.29 L229.80 228.83 L230.30 233.70 L230.80 237.01 L231.30 239.70 L231.80 241.56 L232.30 242.70 L232.80 242.70 L233.30 242.70 L233.80 242.70 L234.30 242.70 L234.80 242.70 L235.30 242.70 L235.80 242.70 L236.30 242.70 L236.80 242.70 L237.30 242.70 L237.80 242.70 L238.30 242.70 L238.80 242.70 L239.30 242.70 L239.80 242.70 L240.30 242.70 L240.80 242.70 L241.30 242.70 L241.80 242.70 L242.30 242.70 L242.80 242.70 L243.30 242.70 L243.80 242.70 L244.30 242.70 L244.80 242.70 L245.30 242.70 L245.80 242.70 L246.30 242.70 L246.80 242.70 L247.30 242.70 L247.80 242.70 L248.30 242.70 L248.80 242.70 L249.30 242.70 L249.80 242.70 L250.30 242.70 L250.80 242.70 L251.30 242.70 L251.80 242.70 L252.30 242.70 L252.80 242.70 L253.30 242.70 L253.80 242.70 L254.30 242.70 L254.80 242.70 L255.30 242.70 L255.80 242.70 L256.30 242.70 L256.80 242.70 L256.80 242.7 Z" fill="#000"/>
<rect x="217.2" y="242.25" width="40.30" height="0.9" fill="#333"/>
<path d="M217.80 252.70000000000002 L217.80 252.70 L218.30 252.70 L218.80 252.70 L219.30 252.70 L219.80 252.51 L220.30 251.93 L220.80 251.20 L221.30 250.30 L221.80 249.21 L222.30 247.95 L222.80 246.30 L223.30 244.52 L223.80 242.65 L224.30 240.35 L224.80 237.89 L225.30 235.40 L225.80 232.76 L226.30 230.07 L226.80 228.11 L227.30 226.27 L227.80 224.33 L228.30 223.06 L228.80 222.21 L229.30 222.65 L229.80 223.12 L230.30 224.96 L230.80 225.96 L231.30 227.67 L231.80 230.18 L232.30 231.58 L232.80 234.09 L233.30 235.84 L233.80 237.90 L234.30 239.72 L234.80 241.32 L235.30 243.24 L235.80 244.63 L236.30 246.09 L236.80 247.30 L237.30 248.42 L237.80 249.46 L238.30 250.28 L238.80 251.04 L239.30 251.66 L239.80 252.18 L240.30 252.60 L240.80 252.70 L241.30 252.70 L241.80 252.70 L242.30 252.70 L242.80 252.70 L243.30 252.70 L243.80 252.70 L244.30 252.70 L244.80 252.70 L245.30 252.70 L245.80 252.70 L246.30 252.70 L246.80 252.70 L247.30 252.70 L247.80 252.70 L248.30 252.70 L248.80 252.70 L249.30 252.70 L249.80 252.70 L250.30 252.70 L250.80 252.70 L251.30 252.70 L251.80 252.70 L252.30 252.70 L252.80 252.70 L253.30 252.70 L253.80 252.70 L254.30 252.70 L254.80 252.70 L255.30 252.70 L255.80 252.70 L256.30 252.70 L256.80 252.70 L256.80 252.70000000000002 Z" fill="#999c2c" stroke="#000" stroke-width="0.85" stroke-linejoin="round"/>
<path d="M218.40 253.30v2.4M221.41 253.30v1.5M223.17 253.30v1.5M224.42 253.30v1.5M225.39 253.30v1.5M226.18 253.30v1.5M226.85 253.30v1.5M227.43 253.30v1.5M227.94 253.30v1.5M228.40 253.30v2.4M231.41 253.30v1.5M233.17 253.30v1.5M234.42 253.30v1.5M235.39 253.30v1.5M236.18 253.30v1.5M236.85 253.30v1.5M237.43 253.30v1.5M237.94 253.30v1.5M238.40 253.30v2.4M241.41 253.30v1.5M243.17 253.30v1.5M244.42 253.30v1.5M245.39 253.30v1.5M246.18 253.30v1.5M246.85 253.30v1.5M247.43 253.30v1.5M247.94 253.30v1.5M248.40 253.30v2.4M251.41 253.30v1.5M253.17 253.30v1.5M254.42 253.30v1.5M255.39 253.30v1.5M256.18 253.30v1.5" stroke="#000" stroke-width="0.6" fill="none"/>
<rect x="123.5" y="279.3" width="41.00" height="51.30" fill="#fff" stroke="#000" stroke-width="1"/>
<path d="M124.10 319.57 L124.10 319.57 L124.60 319.57 L125.10 319.57 L125.60 319.57 L126.10 319.57 L126.60 319.57 L127.10 319.57 L127.60 319.57 L128.10 319.57 L128.60 319.33 L129.10 318.48 L129.60 317.39 L130.10 315.88 L130.60 314.10 L131.10 311.79 L131.60 309.55 L132.10 306.13 L132.60 303.15 L133.10 299.55 L133.60 296.04 L134.10 292.14 L134.60 288.84 L135.10 286.20 L135.60 283.89 L136.10 283.81 L136.60 285.94 L137.10 290.75 L137.60 295.44 L138.10 300.53 L138.60 305.61 L139.10 310.18 L139.60 313.85 L140.10 316.29 L140.60 318.23 L141.10 319.50 L141.60 319.57 L142.10 319.57 L142.60 319.57 L143.10 319.57 L143.60 319.57 L144.10 319.57 L144.60 319.57 L145.10 319.57 L145.60 319.57 L146.10 319.57 L146.60 319.57 L147.10 319.57 L147.60 319.57 L148.10 319.57 L148.60 319.57 L149.10 319.57 L149.60 319.57 L150.10 319.57 L150.60 319.57 L151.10 319.57 L151.60 319.57 L152.10 319.57 L152.60 319.57 L153.10 319.57 L153.60 319.57 L154.10 319.57 L154.60 319.57 L155.10 319.57 L155.60 319.57 L156.10 319.57 L156.60 319.57 L157.10 319.57 L157.60 319.57 L158.10 319.57 L158.60 319.57 L159.10 319.57 L159.60 319.57 L160.10 319.57 L160.60 319.57 L161.10 319.57 L161.60 319.57 L162.10 319.57 L162.60 319.57 L163.10 319.57 L163.60 319.57 L163.60 319.57 Z" fill="#000"/>
<rect x="123.5" y="319.12" width="41.00" height="0.9" fill="#333"/>
<path d="M124.10 330.0 L124.10 330.00 L124.60 330.00 L125.10 330.00 L125.60 330.00 L126.10 330.00 L126.60 330.00 L127.10 330.00 L127.60 330.00 L128.10 330.00 L128.60 330.00 L129.10 330.00 L129.60 330.00 L130.10 330.00 L130.60 330.00 L131.10 330.00 L131.60 330.00 L132.10 330.00 L132.60 330.00 L133.10 330.00 L133.60 330.00 L134.10 329.74 L134.60 329.25 L135.10 328.67 L135.60 327.98 L136.10 327.21 L136.60 326.23 L137.10 325.33 L137.60 324.14 L138.10 322.87 L138.60 321.22 L139.10 319.57 L139.60 317.75 L140.10 315.90 L140.60 313.79 L141.10 312.07 L141.60 309.70 L142.10 307.82 L142.60 305.60 L143.10 303.10 L143.60 300.85 L144.10 299.09 L144.60 297.03 L145.10 296.25 L145.60 294.59 L146.10 293.81 L146.60 294.51 L147.10 295.02 L147.60 297.66 L148.10 300.45 L148.60 303.39 L149.10 306.57 L149.60 310.10 L150.10 313.64 L150.60 317.08 L151.10 319.87 L151.60 322.32 L152.10 324.42 L152.60 326.25 L153.10 327.68 L153.60 328.80 L154.10 329.66 L154.60 330.00 L155.10 330.00 L155.60 330.00 L156.10 330.00 L156.60 330.00 L157.10 330.00 L157.60 330.00 L158.10 330.00 L158.60 330.00 L159.10 330.00 L159.60 330.00 L160.10 330.00 L160.60 330.00 L161.10 330.00 L161.60 330.00 L162.10 330.00 L162.60 330.00 L163.10 330.00 L163.60 330.00 L163.60 330.0 Z" fill="#f6f3c6" stroke="#000" stroke-width="0.85" stroke-linejoin="round"/>
<path d="M124.70 330.60v2.4M127.71 330.60v1.5M129.47 330.60v1.5M130.72 330.60v1.5M131.69 330.60v1.5M132.48 330.60v1.5M133.15 330.60v1.5M133.73 330.60v1.5M134.24 330.60v1.5M134.70 330.60v2.4M137.71 330.60v1.5M139.47 330.60v1.5M140.72 330.60v1.5M141.69 330.60v1.5M142.48 330.60v1.5M143.15 330.60v1.5M143.73 330.60v1.5M144.24 330.60v1.5M144.70 330.60v2.4M147.71 330.60v1.5M149.47 330.60v1.5M150.72 330.60v1.5M151.69 330.60v1.5M152.48 330.60v1.5M153.15 330.60v1.5M153.73 330.60v1.5M154.24 330.60v1.5M154.70 330.60v2.4M157.71 330.60v1.5M159.47 330.60v1.5M160.72 330.60v1.5M161.69 330.60v1.5M162.48 330.60v1.5M163.15 330.60v1.5" stroke="#000" stroke-width="0.6" fill="none"/>
<rect x="170.2" y="279.3" width="40.20" height="51.30" fill="#fff" stroke="#000" stroke-width="1"/>
<path d="M170.80 319.57 L170.80 319.57 L171.30 319.57 L171.80 319.57 L172.30 319.57 L172.80 319.57 L173.30 319.57 L173.80 319.57 L174.30 319.57 L174.80 319.57 L175.30 319.57 L175.80 319.48 L176.30 318.69 L176.80 317.64 L177.30 316.33 L177.80 314.69 L178.30 312.74 L178.80 310.09 L179.30 307.34 L179.80 304.06 L180.30 300.77 L180.80 297.54 L181.30 294.28 L181.80 291.04 L182.30 288.39 L182.80 285.11 L183.30 284.59 L183.80 287.29 L184.30 290.39 L184.80 294.74 L185.30 300.47 L185.80 305.64 L186.30 309.60 L186.80 313.24 L187.30 315.94 L187.80 317.96 L188.30 319.29 L188.80 319.57 L189.30 319.57 L189.80 319.57 L190.30 319.57 L190.80 319.57 L191.30 319.57 L191.80 319.57 L192.30 319.57 L192.80 319.57 L193.30 319.57 L193.80 319.57 L194.30 319.57 L194.80 319.57 L195.30 319.57 L195.80 319.57 L196.30 319.57 L196.80 319.57 L197.30 319.57 L197.80 319.57 L198.30 319.57 L198.80 319.57 L199.30 319.57 L199.80 319.57 L200.30 319.57 L200.80 319.57 L201.30 319.57 L201.80 319.57 L202.30 319.57 L202.80 319.57 L203.30 319.57 L203.80 319.57 L204.30 319.57 L204.80 319.57 L205.30 319.57 L205.80 319.57 L206.30 319.57 L206.80 319.57 L207.30 319.57 L207.80 319.57 L208.30 319.57 L208.80 319.57 L209.30 319.57 L209.80 319.57 L209.80 319.57 Z" fill="#000"/>
<rect x="170.2" y="319.12" width="40.20" height="0.9" fill="#333"/>
<path d="M170.80 330.0 L170.80 330.00 L171.30 330.00 L171.80 330.00 L172.30 330.00 L172.80 330.00 L173.30 330.00 L173.80 330.00 L174.30 330.00 L174.80 330.00 L175.30 330.00 L175.80 330.00 L176.30 330.00 L176.80 330.00 L177.30 330.00 L177.80 330.00 L178.30 330.00 L178.80 330.00 L179.30 330.00 L179.80 330.00 L180.30 329.89 L180.80 329.42 L181.30 328.87 L181.80 328.21 L182.30 327.45 L182.80 326.57 L183.30 325.53 L183.80 324.46 L184.30 323.01 L184.80 321.63 L185.30 320.13 L185.80 318.34 L186.30 316.60 L186.80 314.31 L187.30 312.23 L187.80 310.01 L188.30 307.66 L188.80 305.37 L189.30 303.57 L189.80 301.30 L190.30 299.67 L190.80 298.39 L191.30 297.03 L191.80 295.72 L192.30 294.53 L192.80 294.61 L193.30 296.47 L193.80 297.93 L194.30 301.40 L194.80 304.15 L195.30 307.82 L195.80 311.39 L196.30 314.94 L196.80 317.89 L197.30 320.66 L197.80 322.91 L198.30 324.94 L198.80 326.67 L199.30 327.97 L199.80 329.01 L200.30 329.81 L200.80 330.00 L201.30 330.00 L201.80 330.00 L202.30 330.00 L202.80 330.00 L203.30 330.00 L203.80 330.00 L204.30 330.00 L204.80 330.00 L205.30 330.00 L205.80 330.00 L206.30 330.00 L206.80 330.00 L207.30 330.00 L207.80 330.00 L208.30 330.00 L208.80 330.00 L209.30 330.00 L209.80 330.00 L209.80 330.0 Z" fill="#f6f3c6" stroke="#000" stroke-width="0.85" stroke-linejoin="round"/>
<path d="M171.40 330.60v2.4M174.41 330.60v1.5M176.17 330.60v1.5M177.42 330.60v1.5M178.39 330.60v1.5M179.18 330.60v1.5M179.85 330.60v1.5M180.43 330.60v1.5M180.94 330.60v1.5M181.40 330.60v2.4M184.41 330.60v1.5M186.17 330.60v1.5M187.42 330.60v1.5M188.39 330.60v1.5M189.18 330.60v1.5M189.85 330.60v1.5M190.43 330.60v1.5M190.94 330.60v1.5M191.40 330.60v2.4M194.41 330.60v1.5M196.17 330.60v1.5M197.42 330.60v1.5M198.39 330.60v1.5M199.18 330.60v1.5M199.85 330.60v1.5M200.43 330.60v1.5M200.94 330.60v1.5M201.40 330.60v2.4M204.41 330.60v1.5M206.17 330.60v1.5M207.42 330.60v1.5M208.39 330.60v1.5M209.18 330.60v1.5" stroke="#000" stroke-width="0.6" fill="none"/>
<rect x="217.2" y="279.3" width="40.30" height="51.30" fill="#fff" stroke="#000" stroke-width="1"/>
<path d="M217.80 319.57 L217.80 319.57 L218.30 319.57 L218.80 319.57 L219.30 319.57 L219.80 319.57 L220.30 319.57 L220.80 319.57 L221.30 319.57 L221.80 318.92 L222.30 317.62 L222.80 315.83 L223.30 313.63 L223.80 310.69 L224.30 307.18 L224.80 302.90 L225.30 298.55 L225.80 294.62 L226.30 290.56 L226.80 286.64 L227.30 285.01 L227.80 286.11 L228.30 291.47 L228.80 296.54 L229.30 303.26 L229.80 308.82 L230.30 313.09 L230.80 316.18 L231.30 318.37 L231.80 319.57 L232.30 319.57 L232.80 319.57 L233.30 319.57 L233.80 319.57 L234.30 319.57 L234.80 319.57 L235.30 319.57 L235.80 319.57 L236.30 319.57 L236.80 319.57 L237.30 319.57 L237.80 319.57 L238.30 319.57 L238.80 319.57 L239.30 319.57 L239.80 319.57 L240.30 319.57 L240.80 319.57 L241.30 319.57 L241.80 319.57 L242.30 319.57 L242.80 319.57 L243.30 319.57 L243.80 319.57 L244.30 319.57 L244.80 319.57 L245.30 319.57 L245.80 319.57 L246.30 319.57 L246.80 319.57 L247.30 319.57 L247.80 319.57 L248.30 319.57 L248.80 319.57 L249.30 319.57 L249.80 319.57 L250.30 319.57 L250.80 319.57 L251.30 319.57 L251.80 319.57 L252.30 319.57 L252.80 319.57 L253.30 319.57 L253.80 319.57 L254.30 319.57 L254.80 319.57 L255.30 319.57 L255.80 319.57 L256.30 319.57 L256.80 319.57 L256.80 319.57 Z" fill="#000"/>
<rect x="217.2" y="319.12" width="40.30" height="0.9" fill="#333"/>
<path d="M217.80 330.0 L217.80 330.00 L218.30 330.00 L218.80 330.00 L219.30 330.00 L219.80 330.00 L220.30 330.00 L220.80 330.00 L221.30 330.00 L221.80 330.00 L222.30 330.00 L222.80 330.00 L223.30 330.00 L223.80 330.00 L224.30 330.00 L224.80 329.92 L225.30 329.44 L225.80 328.86 L226.30 328.15 L226.80 327.34 L227.30 326.45 L227.80 325.29 L228.30 324.19 L228.80 322.79 L229.30 321.22 L229.80 319.41 L230.30 317.68 L230.80 315.40 L231.30 313.44 L231.80 311.07 L232.30 308.85 L232.80 306.92 L233.30 304.03 L233.80 302.33 L234.30 300.32 L234.80 297.79 L235.30 297.27 L235.80 295.49 L236.30 294.90 L236.80 294.61 L237.30 296.18 L237.80 298.80 L238.30 301.02 L238.80 304.65 L239.30 308.13 L239.80 311.64 L240.30 314.84 L240.80 317.80 L241.30 320.53 L241.80 322.94 L242.30 324.96 L242.80 326.68 L243.30 327.99 L243.80 329.01 L244.30 329.81 L244.80 330.00 L245.30 330.00 L245.80 330.00 L246.30 330.00 L246.80 330.00 L247.30 330.00 L247.80 330.00 L248.30 330.00 L248.80 330.00 L249.30 330.00 L249.80 330.00 L250.30 330.00 L250.80 330.00 L251.30 330.00 L251.80 330.00 L252.30 330.00 L252.80 330.00 L253.30 330.00 L253.80 330.00 L254.30 330.00 L254.80 330.00 L255.30 330.00 L255.80 330.00 L256.30 330.00 L256.80 330.00 L256.80 330.0 Z" fill="#f6f3c6" stroke="#000" stroke-width="0.85" stroke-linejoin="round"/>
<path d="M218.40 330.60v2.4M221.41 330.60v1.5M223.17 330.60v1.5M224.42 330.60v1.5M225.39 330.60v1.5M226.18 330.60v1.5M226.85 330.60v1.5M227.43 330.60v1.5M227.94 330.60v1.5M228.40 330.60v2.4M231.41 330.60v1.5M233.17 330.60v1.5M234.42 330.60v1.5M235.39 330.60v1.5M236.18 330.60v1.5M236.85 330.60v1.5M237.43 330.60v1.5M237.94 330.60v1.5M238.40 330.60v2.4M241.41 330.60v1.5M243.17 330.60v1.5M244.42 330.60v1.5M245.39 330.60v1.5M246.18 330.60v1.5M246.85 330.60v1.5M247.43 330.60v1.5M247.94 330.60v1.5M248.40 330.60v2.4M251.41 330.60v1.5M253.17 330.60v1.5M254.42 330.60v1.5M255.39 330.60v1.5M256.18 330.60v1.5" stroke="#000" stroke-width="0.6" fill="none"/>
<rect x="123.5" y="334.1" width="41.00" height="50.90" fill="#fff" stroke="#000" stroke-width="1"/>
<path d="M124.10 374.06 L124.10 374.06 L124.60 374.06 L125.10 374.06 L125.60 374.06 L126.10 374.06 L126.60 373.69 L127.10 372.98 L127.60 372.05 L128.10 370.97 L128.60 369.69 L129.10 368.09 L129.60 366.24 L130.10 363.97 L130.60 361.77 L131.10 358.98 L131.60 355.78 L132.10 353.18 L132.60 349.80 L133.10 348.07 L133.60 345.61 L134.10 342.62 L134.60 341.01 L135.10 340.96 L135.60 340.68 L136.10 342.73 L136.60 345.79 L137.10 349.61 L137.60 353.75 L138.10 357.81 L138.60 360.84 L139.10 364.44 L139.60 366.99 L140.10 369.33 L140.60 371.09 L141.10 372.44 L141.60 373.49 L142.10 374.06 L142.60 374.06 L143.10 374.06 L143.60 374.06 L144.10 374.06 L144.60 374.06 L145.10 374.06 L145.60 374.06 L146.10 374.06 L146.60 374.06 L147.10 374.06 L147.60 374.06 L148.10 374.06 L148.60 374.06 L149.10 374.06 L149.60 374.06 L150.10 374.06 L150.60 374.06 L151.10 374.06 L151.60 374.06 L152.10 374.06 L152.60 374.06 L153.10 374.06 L153.60 374.06 L154.10 374.06 L154.60 374.06 L155.10 374.06 L155.60 374.06 L156.10 374.06 L156.60 374.06 L157.10 374.06 L157.60 374.06 L158.10 374.06 L158.60 374.06 L159.10 374.06 L159.60 374.06 L160.10 374.06 L160.60 374.06 L161.10 374.06 L161.60 374.06 L162.10 374.06 L162.60 374.06 L163.10 374.06 L163.60 374.06 L163.60 374.06 Z" fill="#000"/>
<rect x="123.5" y="373.61" width="41.00" height="0.9" fill="#333"/>
<path d="M124.10 384.4 L124.10 384.40 L124.60 384.40 L125.10 384.40 L125.60 384.40 L126.10 384.40 L126.60 384.40 L127.10 383.99 L127.60 383.45 L128.10 382.80 L128.60 382.03 L129.10 381.08 L129.60 380.13 L130.10 378.93 L130.60 377.46 L131.10 375.98 L131.60 374.11 L132.10 372.23 L132.60 370.24 L133.10 368.34 L133.60 365.83 L134.10 364.13 L134.60 361.17 L135.10 359.06 L135.60 356.87 L136.10 355.70 L136.60 353.67 L137.10 352.53 L137.60 351.54 L138.10 351.68 L138.60 351.79 L139.10 352.36 L139.60 353.74 L140.10 354.99 L140.60 356.40 L141.10 358.85 L141.60 360.58 L142.10 362.50 L142.60 364.62 L143.10 366.23 L143.60 368.16 L144.10 370.05 L144.60 371.82 L145.10 373.60 L145.60 374.93 L146.10 376.52 L146.60 377.84 L147.10 378.98 L147.60 379.98 L148.10 381.02 L148.60 381.76 L149.10 382.53 L149.60 383.14 L150.10 383.66 L150.60 384.11 L151.10 384.40 L151.60 384.40 L152.10 384.40 L152.60 384.40 L153.10 384.40 L153.60 384.40 L154.10 384.40 L154.60 384.40 L155.10 384.40 L155.60 384.40 L156.10 384.40 L156.60 384.40 L157.10 384.40 L157.60 384.40 L158.10 384.40 L158.60 384.40 L159.10 384.40 L159.60 384.40 L160.10 384.40 L160.60 384.40 L161.10 384.40 L161.60 384.40 L162.10 384.40 L162.60 384.40 L163.10 384.40 L163.60 384.40 L163.60 384.4 Z" fill="#c6c92a" stroke="#000" stroke-width="0.85" stroke-linejoin="round"/>
<path d="M124.70 385.00v2.4M127.71 385.00v1.5M129.47 385.00v1.5M130.72 385.00v1.5M131.69 385.00v1.5M132.48 385.00v1.5M133.15 385.00v1.5M133.73 385.00v1.5M134.24 385.00v1.5M134.70 385.00v2.4M137.71 385.00v1.5M139.47 385.00v1.5M140.72 385.00v1.5M141.69 385.00v1.5M142.48 385.00v1.5M143.15 385.00v1.5M143.73 385.00v1.5M144.24 385.00v1.5M144.70 385.00v2.4M147.71 385.00v1.5M149.47 385.00v1.5M150.72 385.00v1.5M151.69 385.00v1.5M152.48 385.00v1.5M153.15 385.00v1.5M153.73 385.00v1.5M154.24 385.00v1.5M154.70 385.00v2.4M157.71 385.00v1.5M159.47 385.00v1.5M160.72 385.00v1.5M161.69 385.00v1.5M162.48 385.00v1.5M163.15 385.00v1.5" stroke="#000" stroke-width="0.6" fill="none"/>
<rect x="170.2" y="334.1" width="40.20" height="50.90" fill="#fff" stroke="#000" stroke-width="1"/>
<path d="M170.80 374.06 L170.80 374.06 L171.30 374.06 L171.80 374.06 L172.30 374.06 L172.80 374.06 L173.30 373.55 L173.80 372.79 L174.30 371.89 L174.80 370.66 L175.30 369.34 L175.80 367.50 L176.30 365.61 L176.80 363.27 L177.30 360.92 L177.80 357.85 L178.30 355.21 L178.80 352.14 L179.30 348.85 L179.80 346.99 L180.30 344.67 L180.80 341.50 L181.30 340.80 L181.80 340.05 L182.30 340.86 L182.80 343.41 L183.30 346.69 L183.80 349.95 L184.30 353.98 L184.80 357.95 L185.30 361.80 L185.80 364.86 L186.30 367.45 L186.80 369.56 L187.30 371.37 L187.80 372.66 L188.30 373.66 L188.80 374.06 L189.30 374.06 L189.80 374.06 L190.30 374.06 L190.80 374.06 L191.30 374.06 L191.80 374.06 L192.30 374.06 L192.80 374.06 L193.30 374.06 L193.80 374.06 L194.30 374.06 L194.80 374.06 L195.30 374.06 L195.80 374.06 L196.30 374.06 L196.80 374.06 L197.30 374.06 L197.80 374.06 L198.30 374.06 L198.80 374.06 L199.30 374.06 L199.80 374.06 L200.30 374.06 L200.80 374.06 L201.30 374.06 L201.80 374.06 L202.30 374.06 L202.80 374.06 L203.30 374.06 L203.80 374.06 L204.30 374.06 L204.80 374.06 L205.30 374.06 L205.80 374.06 L206.30 374.06 L206.80 374.06 L207.30 374.06 L207.80 374.06 L208.30 374.06 L208.80 374.06 L209.30 374.06 L209.80 374.06 L209.80 374.06 Z" fill="#000"/>
<rect x="170.2" y="373.61" width="40.20" height="0.9" fill="#333"/>
<path d="M170.80 384.4 L170.80 384.40 L171.30 384.40 L171.80 384.40 L172.30 384.40 L172.80 384.40 L173.30 384.40 L173.80 384.40 L174.30 384.40 L174.80 384.01 L175.30 383.44 L175.80 382.77 L176.30 381.90 L176.80 381.01 L177.30 379.82 L177.80 378.48 L178.30 377.04 L178.80 375.22 L179.30 373.35 L179.80 371.41 L180.30 369.13 L180.80 367.11 L181.30 364.59 L181.80 362.19 L182.30 359.77 L182.80 357.49 L183.30 355.98 L183.80 354.47 L184.30 352.49 L184.80 352.14 L185.30 351.29 L185.80 352.25 L186.30 352.49 L186.80 354.07 L187.30 355.38 L187.80 357.55 L188.30 359.29 L188.80 360.69 L189.30 362.76 L189.80 365.10 L190.30 366.99 L190.80 369.00 L191.30 371.27 L191.80 373.03 L192.30 374.34 L192.80 375.91 L193.30 377.49 L193.80 378.82 L194.30 379.91 L194.80 380.87 L195.30 381.74 L195.80 382.47 L196.30 383.12 L196.80 383.67 L197.30 384.13 L197.80 384.40 L198.30 384.40 L198.80 384.40 L199.30 384.40 L199.80 384.40 L200.30 384.40 L200.80 384.40 L201.30 384.40 L201.80 384.40 L202.30 384.40 L202.80 384.40 L203.30 384.40 L203.80 384.40 L204.30 384.40 L204.80 384.40 L205.30 384.40 L205.80 384.40 L206.30 384.40 L206.80 384.40 L207.30 384.40 L207.80 384.40 L208.30 384.40 L208.80 384.40 L209.30 384.40 L209.80 384.40 L209.80 384.4 Z" fill="#d8dc2c" stroke="#000" stroke-width="0.85" stroke-linejoin="round"/>
<path d="M171.40 385.00v2.4M174.41 385.00v1.5M176.17 385.00v1.5M177.42 385.00v1.5M178.39 385.00v1.5M179.18 385.00v1.5M179.85 385.00v1.5M180.43 385.00v1.5M180.94 385.00v1.5M181.40 385.00v2.4M184.41 385.00v1.5M186.17 385.00v1.5M187.42 385.00v1.5M188.39 385.00v1.5M189.18 385.00v1.5M189.85 385.00v1.5M190.43 385.00v1.5M190.94 385.00v1.5M191.40 385.00v2.4M194.41 385.00v1.5M196.17 385.00v1.5M197.42 385.00v1.5M198.39 385.00v1.5M199.18 385.00v1.5M199.85 385.00v1.5M200.43 385.00v1.5M200.94 385.00v1.5M201.40 385.00v2.4M204.41 385.00v1.5M206.17 385.00v1.5M207.42 385.00v1.5M208.39 385.00v1.5M209.18 385.00v1.5" stroke="#000" stroke-width="0.6" fill="none"/>
<rect x="217.2" y="334.1" width="40.30" height="50.90" fill="#fff" stroke="#000" stroke-width="1"/>
<path d="M217.80 374.06 L217.80 374.06 L218.30 374.06 L218.80 374.06 L219.30 374.06 L219.80 374.06 L220.30 374.06 L220.80 374.06 L221.30 374.06 L221.80 374.06 L222.30 373.19 L222.80 371.69 L223.30 369.50 L223.80 366.89 L224.30 363.22 L224.80 358.93 L225.30 354.52 L225.80 348.76 L226.30 345.20 L226.80 341.02 L227.30 339.60 L227.80 341.47 L228.30 346.03 L228.80 351.32 L229.30 356.44 L229.80 361.21 L230.30 365.47 L230.80 368.95 L231.30 371.45 L231.80 373.19 L232.30 374.06 L232.80 374.06 L233.30 374.06 L233.80 374.06 L234.30 374.06 L234.80 374.06 L235.30 374.06 L235.80 374.06 L236.30 374.06 L236.80 374.06 L237.30 374.06 L237.80 374.06 L238.30 374.06 L238.80 374.06 L239.30 374.06 L239.80 374.06 L240.30 374.06 L240.80 374.06 L241.30 374.06 L241.80 374.06 L242.30 374.06 L242.80 374.06 L243.30 374.06 L243.80 374.06 L244.30 374.06 L244.80 374.06 L245.30 374.06 L245.80 374.06 L246.30 374.06 L246.80 374.06 L247.30 374.06 L247.80 374.06 L248.30 374.06 L248.80 374.06 L249.30 374.06 L249.80 374.06 L250.30 374.06 L250.80 374.06 L251.30 374.06 L251.80 374.06 L252.30 374.06 L252.80 374.06 L253.30 374.06 L253.80 374.06 L254.30 374.06 L254.80 374.06 L255.30 374.06 L255.80 374.06 L256.30 374.06 L256.80 374.06 L256.80 374.06 Z" fill="#000"/>
<rect x="217.2" y="373.61" width="40.30" height="0.9" fill="#333"/>
<path d="M217.80 384.4 L217.80 384.40 L218.30 384.40 L218.80 384.40 L219.30 384.40 L219.80 384.08 L220.30 383.43 L220.80 382.58 L221.30 381.61 L221.80 380.36 L222.30 379.00 L222.80 377.24 L223.30 375.26 L223.80 373.23 L224.30 370.52 L224.80 368.23 L225.30 365.25 L225.80 362.68 L226.30 360.27 L226.80 357.63 L227.30 355.22 L227.80 353.68 L228.30 351.60 L228.80 351.73 L229.30 352.72 L229.80 353.53 L230.30 354.52 L230.80 355.93 L231.30 357.93 L231.80 360.05 L232.30 361.94 L232.80 364.75 L233.30 366.70 L233.80 368.74 L234.30 370.60 L234.80 372.61 L235.30 374.44 L235.80 376.01 L236.30 377.56 L236.80 378.90 L237.30 380.14 L237.80 381.17 L238.30 381.96 L238.80 382.74 L239.30 383.40 L239.80 383.94 L240.30 384.38 L240.80 384.40 L241.30 384.40 L241.80 384.40 L242.30 384.40 L242.80 384.40 L243.30 384.40 L243.80 384.40 L244.30 384.40 L244.80 384.40 L245.30 384.40 L245.80 384.40 L246.30 384.40 L246.80 384.40 L247.30 384.40 L247.80 384.40 L248.30 384.40 L248.80 384.40 L249.30 384.40 L249.80 384.40 L250.30 384.40 L250.80 384.40 L251.30 384.40 L251.80 384.40 L252.30 384.40 L252.80 384.40 L253.30 384.40 L253.80 384.40 L254.30 384.40 L254.80 384.40 L255.30 384.40 L255.80 384.40 L256.30 384.40 L256.80 384.40 L256.80 384.4 Z" fill="#999c2c" stroke="#000" stroke-width="0.85" stroke-linejoin="round"/>
<path d="M218.40 385.00v2.4M221.41 385.00v1.5M223.17 385.00v1.5M224.42 385.00v1.5M225.39 385.00v1.5M226.18 385.00v1.5M226.85 385.00v1.5M227.43 385.00v1.5M227.94 385.00v1.5M228.40 385.00v2.4M231.41 385.00v1.5M233.17 385.00v1.5M234.42 385.00v1.5M235.39 385.00v1.5M236.18 385.00v1.5M236.85 385.00v1.5M237.43 385.00v1.5M237.94 385.00v1.5M238.40 385.00v2.4M241.41 385.00v1.5M243.17 385.00v1.5M244.42 385.00v1.5M245.39 385.00v1.5M246.18 385.00v1.5M246.85 385.00v1.5M247.43 385.00v1.5M247.94 385.00v1.5M248.40 385.00v2.4M251.41 385.00v1.5M253.17 385.00v1.5M254.42 385.00v1.5M255.39 385.00v1.5M256.18 385.00v1.5" stroke="#000" stroke-width="0.6" fill="none"/>
<text x="144.25" y="267.6" font-size="9.5" text-anchor="middle" fill="#000" stroke="#000" stroke-width="0.06" textLength="24" lengthAdjust="spacingAndGlyphs">p-SYK</text>
<text x="189.9" y="267.6" font-size="9.5" text-anchor="middle" fill="#000" stroke="#000" stroke-width="0.06" textLength="28.6" lengthAdjust="spacingAndGlyphs">p-BLNK</text>
<text x="238.0" y="267.6" font-size="9.5" text-anchor="middle" fill="#000" stroke="#000" stroke-width="0.06" textLength="28.6" lengthAdjust="spacingAndGlyphs">p-PLCγ</text>
<text x="144.25" y="397.6" font-size="9.5" text-anchor="middle" fill="#000" stroke="#000" stroke-width="0.06" textLength="24" lengthAdjust="spacingAndGlyphs">p-SYK</text>
<text x="189.9" y="397.6" font-size="9.5" text-anchor="middle" fill="#000" stroke="#000" stroke-width="0.06" textLength="28.6" lengthAdjust="spacingAndGlyphs">p-BLNK</text>
<text x="238.0" y="397.6" font-size="9.5" text-anchor="middle" fill="#000" stroke="#000" stroke-width="0.06" textLength="28.6" lengthAdjust="spacingAndGlyphs">p-PLCγ</text>
<text x="267.2" y="152.5" font-size="12.2" font-weight="bold" fill="#000" textLength="7.9" lengthAdjust="spacingAndGlyphs">C</text>
<rect x="306.25" y="157.3" width="1.3" height="88.85" fill="#000"/>
<rect x="306.25" y="244.85" width="86.25" height="1.3" fill="#000"/>
<rect x="303.70" y="245.00" width="3.2" height="1" fill="#000"/>
<text x="301.7" y="248.1" font-size="7.6" text-anchor="end" fill="#111" stroke="#111" stroke-width="0.08" textLength="11.2" lengthAdjust="spacingAndGlyphs">0.0</text>
<rect x="303.70" y="223.55" width="3.2" height="1" fill="#000"/>
<text x="301.7" y="226.65" font-size="7.6" text-anchor="end" fill="#111" stroke="#111" stroke-width="0.08" textLength="11.2" lengthAdjust="spacingAndGlyphs">0.5</text>
<rect x="303.70" y="202.10" width="3.2" height="1" fill="#000"/>
<text x="301.7" y="205.2" font-size="7.6" text-anchor="end" fill="#111" stroke="#111" stroke-width="0.08" textLength="11.2" lengthAdjust="spacingAndGlyphs">1.0</text>
<rect x="303.70" y="180.65" width="3.2" height="1" fill="#000"/>
<text x="301.7" y="183.75" font-size="7.6" text-anchor="end" fill="#111" stroke="#111" stroke-width="0.08" textLength="11.2" lengthAdjust="spacingAndGlyphs">1.5</text>
<rect x="303.70" y="159.20" width="3.2" height="1" fill="#000"/>
<text x="301.7" y="162.3" font-size="7.6" text-anchor="end" fill="#111" stroke="#111" stroke-width="0.08" textLength="11.2" lengthAdjust="spacingAndGlyphs">2.0</text>
<rect x="306.40" y="245.5" width="1" height="3.4" fill="#000"/>
<text x="307.2" y="258.5" font-size="7.6" text-anchor="middle" fill="#111" stroke="#111" stroke-width="0.08">0</text>
<rect x="322.06" y="245.5" width="1" height="3.4" fill="#000"/>
<text x="322.86" y="258.5" font-size="7.6" text-anchor="middle" fill="#111" stroke="#111" stroke-width="0.08">2</text>
<rect x="337.72" y="245.5" width="1" height="3.4" fill="#000"/>
<text x="338.52" y="258.5" font-size="7.6" text-anchor="middle" fill="#111" stroke="#111" stroke-width="0.08">4</text>
<rect x="353.38" y="245.5" width="1" height="3.4" fill="#000"/>
<text x="354.18" y="258.5" font-size="7.6" text-anchor="middle" fill="#111" stroke="#111" stroke-width="0.08">6</text>
<rect x="369.04" y="245.5" width="1" height="3.4" fill="#000"/>
<text x="369.84" y="258.5" font-size="7.6" text-anchor="middle" fill="#111" stroke="#111" stroke-width="0.08">8</text>
<rect x="384.70" y="245.5" width="1" height="3.4" fill="#000"/>
<text x="385.2" y="258.5" font-size="7.6" text-anchor="middle" fill="#111" stroke="#111" stroke-width="0.08" textLength="8.2" lengthAdjust="spacingAndGlyphs">10</text>
<text x="320.4" y="272.5" font-size="9" fill="#000" stroke="#000" stroke-width="0.06" textLength="58.4" lengthAdjust="spacingAndGlyphs">α-IgM (μg/mL)</text>
<text x="350.0" y="163.6" font-size="9.6" text-anchor="middle" fill="#000" stroke="#000" stroke-width="0.06" textLength="28.6" lengthAdjust="spacingAndGlyphs">p-SYK</text>
<path d="M306.90 245.50 L311.79 244.64 L316.69 244.21 L326.47 238.64 L346.05 230.91 L385.20 215.90" fill="none" stroke="#000" stroke-width="1.6" stroke-linejoin="round"/>
<path d="M306.90 245.50 L311.79 243.78 L316.69 242.93 L326.47 237.78 L346.05 229.63 L385.20 215.04" fill="none" stroke="#000" stroke-width="1.6" stroke-linejoin="round"/>
<path d="M306.90 245.50 L311.79 244.21 L316.69 243.35 L326.47 238.21 L346.05 230.06 L385.20 215.47" fill="none" stroke="#000" stroke-width="1.8" stroke-linejoin="round"/>
<path d="M306.90 245.50 L316.69 236.49 L326.47 220.40 L346.05 194.45 L385.20 169.57" fill="none" stroke="#000" stroke-width="1.6" stroke-linejoin="round"/>
<path d="M346.05 227.48V231.77M343.55 227.48h5M343.55 231.77h5" stroke="#000" stroke-width="1.15" fill="none"/>
<path d="M385.20 213.75V216.33M382.70 213.75h5M382.70 216.33h5" stroke="#000" stroke-width="1.15" fill="none"/>
<path d="M346.05 227.91V232.20M343.55 227.91h5M343.55 232.20h5" stroke="#000" stroke-width="1.15" fill="none"/>
<path d="M385.20 214.18V216.76M382.70 214.18h5M382.70 216.76h5" stroke="#000" stroke-width="1.15" fill="none"/>
<path d="M316.69 232.63V240.35M314.19 232.63h5M314.19 240.35h5" stroke="#000" stroke-width="1.15" fill="none"/>
<path d="M326.47 211.82V228.98M323.97 211.82h5M323.97 228.98h5" stroke="#000" stroke-width="1.15" fill="none"/>
<path d="M346.05 182.87V206.03M343.55 182.87h5M343.55 206.03h5" stroke="#000" stroke-width="1.15" fill="none"/>
<path d="M385.20 161.84V177.29M382.70 161.84h5M382.70 177.29h5" stroke="#000" stroke-width="1.15" fill="none"/>
<path d="M304.50 243.50h4.8l-2.4 4.1z" fill="none" stroke="#000" stroke-width="1"/>
<path d="M309.39 242.64h4.8l-2.4 4.1z" fill="none" stroke="#000" stroke-width="1"/>
<path d="M314.29 242.21h4.8l-2.4 4.1z" fill="none" stroke="#000" stroke-width="1"/>
<path d="M324.07 236.64h4.8l-2.4 4.1z" fill="none" stroke="#000" stroke-width="1"/>
<path d="M343.65 228.91h4.8l-2.4 4.1z" fill="none" stroke="#000" stroke-width="1"/>
<path d="M382.80 213.90h4.8l-2.4 4.1z" fill="none" stroke="#000" stroke-width="1"/>
<path d="M304.30 243.30h5.2l-2.6 4.4z" fill="#5e9e4c"/>
<path d="M309.19 241.58h5.2l-2.6 4.4z" fill="#5e9e4c"/>
<path d="M314.09 240.73h5.2l-2.6 4.4z" fill="#5e9e4c"/>
<path d="M323.87 235.58h5.2l-2.6 4.4z" fill="#5e9e4c"/>
<path d="M343.45 227.43h5.2l-2.6 4.4z" fill="#5e9e4c"/>
<path d="M382.60 212.84h5.2l-2.6 4.4z" fill="#5e9e4c"/>
<circle cx="306.90" cy="245.50" r="2.3" fill="none" stroke="#000" stroke-width="1.3"/>
<circle cx="311.79" cy="244.21" r="2.3" fill="none" stroke="#000" stroke-width="1.3"/>
<circle cx="316.69" cy="243.35" r="2.3" fill="none" stroke="#000" stroke-width="1.3"/>
<circle cx="326.47" cy="238.21" r="2.3" fill="none" stroke="#000" stroke-width="1.3"/>
<circle cx="346.05" cy="230.06" r="2.3" fill="none" stroke="#000" stroke-width="1.3"/>
<circle cx="385.20" cy="215.47" r="2.3" fill="none" stroke="#000" stroke-width="1.3"/>
<circle cx="306.90" cy="245.50" r="3" fill="#a8153f"/>
<circle cx="316.69" cy="236.49" r="3" fill="#a8153f"/>
<circle cx="326.47" cy="220.40" r="3" fill="#a8153f"/>
<circle cx="346.05" cy="194.45" r="3" fill="#a8153f"/>
<circle cx="385.20" cy="169.57" r="3" fill="#a8153f"/>
<rect x="420.25" y="157.8" width="1.3" height="88.35" fill="#000"/>
<rect x="420.25" y="244.85" width="87.25" height="1.3" fill="#000"/>
<rect x="417.70" y="245.00" width="3.2" height="1" fill="#000"/>
<text x="415.7" y="248.1" font-size="7.6" text-anchor="end" fill="#111" stroke="#111" stroke-width="0.08" textLength="11.2" lengthAdjust="spacingAndGlyphs">0.0</text>
<rect x="417.70" y="223.60" width="3.2" height="1" fill="#000"/>
<text x="415.7" y="226.7" font-size="7.6" text-anchor="end" fill="#111" stroke="#111" stroke-width="0.08" textLength="11.2" lengthAdjust="spacingAndGlyphs">0.5</text>
<rect x="417.70" y="202.20" width="3.2" height="1" fill="#000"/>
<text x="415.7" y="205.3" font-size="7.6" text-anchor="end" fill="#111" stroke="#111" stroke-width="0.08" textLength="11.2" lengthAdjust="spacingAndGlyphs">1.0</text>
<rect x="417.70" y="180.80" width="3.2" height="1" fill="#000"/>
<text x="415.7" y="183.9" font-size="7.6" text-anchor="end" fill="#111" stroke="#111" stroke-width="0.08" textLength="11.2" lengthAdjust="spacingAndGlyphs">1.5</text>
<rect x="417.70" y="159.40" width="3.2" height="1" fill="#000"/>
<text x="415.7" y="162.5" font-size="7.6" text-anchor="end" fill="#111" stroke="#111" stroke-width="0.08" textLength="11.2" lengthAdjust="spacingAndGlyphs">2.0</text>
<rect x="420.40" y="245.5" width="1" height="3.4" fill="#000"/>
<text x="421.2" y="258.5" font-size="7.6" text-anchor="middle" fill="#111" stroke="#111" stroke-width="0.08">0</text>
<rect x="436.00" y="245.5" width="1" height="3.4" fill="#000"/>
<text x="436.8" y="258.5" font-size="7.6" text-anchor="middle" fill="#111" stroke="#111" stroke-width="0.08">2</text>
<rect x="451.60" y="245.5" width="1" height="3.4" fill="#000"/>
<text x="452.4" y="258.5" font-size="7.6" text-anchor="middle" fill="#111" stroke="#111" stroke-width="0.08">4</text>
<rect x="467.20" y="245.5" width="1" height="3.4" fill="#000"/>
<text x="468.0" y="258.5" font-size="7.6" text-anchor="middle" fill="#111" stroke="#111" stroke-width="0.08">6</text>
<rect x="482.80" y="245.5" width="1" height="3.4" fill="#000"/>
<text x="483.6" y="258.5" font-size="7.6" text-anchor="middle" fill="#111" stroke="#111" stroke-width="0.08">8</text>
<rect x="498.40" y="245.5" width="1" height="3.4" fill="#000"/>
<text x="498.9" y="258.5" font-size="7.6" text-anchor="middle" fill="#111" stroke="#111" stroke-width="0.08" textLength="8.2" lengthAdjust="spacingAndGlyphs">10</text>
<text x="434.4" y="272.5" font-size="9" fill="#000" stroke="#000" stroke-width="0.06" textLength="58.4" lengthAdjust="spacingAndGlyphs">α-IgM (μg/mL)</text>
<text x="463.7" y="162.7" font-size="9.6" text-anchor="middle" fill="#000" stroke="#000" stroke-width="0.06" textLength="31.7" lengthAdjust="spacingAndGlyphs">p-PLCγ</text>
<path d="M420.90 245.50 L425.77 245.07 L430.65 244.64 L440.40 241.65 L459.90 235.23 L498.90 223.24" fill="none" stroke="#000" stroke-width="1.6" stroke-linejoin="round"/>
<path d="M420.90 245.50 L425.77 245.07 L430.65 244.22 L440.40 241.22 L459.90 234.37 L498.90 222.39" fill="none" stroke="#000" stroke-width="1.6" stroke-linejoin="round"/>
<path d="M420.90 245.50 L425.77 245.07 L430.65 244.22 L440.40 241.22 L459.90 234.80 L498.90 222.82" fill="none" stroke="#000" stroke-width="1.8" stroke-linejoin="round"/>
<path d="M420.90 245.50 L430.65 239.08 L440.40 228.81 L459.90 209.12 L498.90 182.58" fill="none" stroke="#000" stroke-width="1.6" stroke-linejoin="round"/>
<path d="M459.90 231.80V236.94M457.40 231.80h5M457.40 236.94h5" stroke="#000" stroke-width="1.15" fill="none"/>
<path d="M498.90 221.10V223.67M496.40 221.10h5M496.40 223.67h5" stroke="#000" stroke-width="1.15" fill="none"/>
<path d="M459.90 232.23V237.37M457.40 232.23h5M457.40 237.37h5" stroke="#000" stroke-width="1.15" fill="none"/>
<path d="M498.90 221.53V224.10M496.40 221.53h5M496.40 224.10h5" stroke="#000" stroke-width="1.15" fill="none"/>
<path d="M430.65 237.37V240.79M428.15 237.37h5M428.15 240.79h5" stroke="#000" stroke-width="1.15" fill="none"/>
<path d="M440.40 222.82V234.80M437.90 222.82h5M437.90 234.80h5" stroke="#000" stroke-width="1.15" fill="none"/>
<path d="M459.90 197.14V221.10M457.40 197.14h5M457.40 221.10h5" stroke="#000" stroke-width="1.15" fill="none"/>
<path d="M498.90 172.31V192.86M496.40 172.31h5M496.40 192.86h5" stroke="#000" stroke-width="1.15" fill="none"/>
<path d="M418.50 243.50h4.8l-2.4 4.1z" fill="none" stroke="#000" stroke-width="1"/>
<path d="M423.38 243.07h4.8l-2.4 4.1z" fill="none" stroke="#000" stroke-width="1"/>
<path d="M428.25 242.64h4.8l-2.4 4.1z" fill="none" stroke="#000" stroke-width="1"/>
<path d="M438.00 239.65h4.8l-2.4 4.1z" fill="none" stroke="#000" stroke-width="1"/>
<path d="M457.50 233.23h4.8l-2.4 4.1z" fill="none" stroke="#000" stroke-width="1"/>
<path d="M496.50 221.24h4.8l-2.4 4.1z" fill="none" stroke="#000" stroke-width="1"/>
<path d="M418.30 243.30h5.2l-2.6 4.4z" fill="#5e9e4c"/>
<path d="M423.17 242.87h5.2l-2.6 4.4z" fill="#5e9e4c"/>
<path d="M428.05 242.02h5.2l-2.6 4.4z" fill="#5e9e4c"/>
<path d="M437.80 239.02h5.2l-2.6 4.4z" fill="#5e9e4c"/>
<path d="M457.30 232.17h5.2l-2.6 4.4z" fill="#5e9e4c"/>
<path d="M496.30 220.19h5.2l-2.6 4.4z" fill="#5e9e4c"/>
<circle cx="420.90" cy="245.50" r="2.3" fill="none" stroke="#000" stroke-width="1.3"/>
<circle cx="425.77" cy="245.07" r="2.3" fill="none" stroke="#000" stroke-width="1.3"/>
<circle cx="430.65" cy="244.22" r="2.3" fill="none" stroke="#000" stroke-width="1.3"/>
<circle cx="440.40" cy="241.22" r="2.3" fill="none" stroke="#000" stroke-width="1.3"/>
<circle cx="459.90" cy="234.80" r="2.3" fill="none" stroke="#000" stroke-width="1.3"/>
<circle cx="498.90" cy="222.82" r="2.3" fill="none" stroke="#000" stroke-width="1.3"/>
<circle cx="420.90" cy="245.50" r="3" fill="#a8153f"/>
<circle cx="430.65" cy="239.08" r="3" fill="#a8153f"/>
<circle cx="440.40" cy="228.81" r="3" fill="#a8153f"/>
<circle cx="459.90" cy="209.12" r="3" fill="#a8153f"/>
<circle cx="498.90" cy="182.58" r="3" fill="#a8153f"/>
<rect x="306.25" y="286.5" width="1.3" height="88.85" fill="#000"/>
<rect x="306.25" y="374.05" width="84.25" height="1.3" fill="#000"/>
<rect x="303.70" y="374.20" width="3.2" height="1" fill="#000"/>
<text x="301.7" y="377.3" font-size="7.6" text-anchor="end" fill="#111" stroke="#111" stroke-width="0.08" textLength="11.2" lengthAdjust="spacingAndGlyphs">0.0</text>
<rect x="303.70" y="352.75" width="3.2" height="1" fill="#000"/>
<text x="301.7" y="355.85" font-size="7.6" text-anchor="end" fill="#111" stroke="#111" stroke-width="0.08" textLength="11.2" lengthAdjust="spacingAndGlyphs">0.5</text>
<rect x="303.70" y="331.30" width="3.2" height="1" fill="#000"/>
<text x="301.7" y="334.4" font-size="7.6" text-anchor="end" fill="#111" stroke="#111" stroke-width="0.08" textLength="11.2" lengthAdjust="spacingAndGlyphs">1.0</text>
<rect x="303.70" y="309.85" width="3.2" height="1" fill="#000"/>
<text x="301.7" y="312.95" font-size="7.6" text-anchor="end" fill="#111" stroke="#111" stroke-width="0.08" textLength="11.2" lengthAdjust="spacingAndGlyphs">1.5</text>
<rect x="303.70" y="288.40" width="3.2" height="1" fill="#000"/>
<text x="301.7" y="291.5" font-size="7.6" text-anchor="end" fill="#111" stroke="#111" stroke-width="0.08" textLength="11.2" lengthAdjust="spacingAndGlyphs">2.0</text>
<rect x="306.40" y="374.7" width="1" height="3.4" fill="#000"/>
<text x="307.2" y="387.7" font-size="7.6" text-anchor="middle" fill="#111" stroke="#111" stroke-width="0.08">0</text>
<rect x="322.10" y="374.7" width="1" height="3.4" fill="#000"/>
<text x="322.9" y="387.7" font-size="7.6" text-anchor="middle" fill="#111" stroke="#111" stroke-width="0.08">2</text>
<rect x="337.80" y="374.7" width="1" height="3.4" fill="#000"/>
<text x="338.6" y="387.7" font-size="7.6" text-anchor="middle" fill="#111" stroke="#111" stroke-width="0.08">4</text>
<rect x="353.50" y="374.7" width="1" height="3.4" fill="#000"/>
<text x="354.3" y="387.7" font-size="7.6" text-anchor="middle" fill="#111" stroke="#111" stroke-width="0.08">6</text>
<rect x="369.20" y="374.7" width="1" height="3.4" fill="#000"/>
<text x="370.0" y="387.7" font-size="7.6" text-anchor="middle" fill="#111" stroke="#111" stroke-width="0.08">8</text>
<rect x="384.90" y="374.7" width="1" height="3.4" fill="#000"/>
<text x="385.4" y="387.7" font-size="7.6" text-anchor="middle" fill="#111" stroke="#111" stroke-width="0.08" textLength="8.2" lengthAdjust="spacingAndGlyphs">10</text>
<text x="320.4" y="401.7" font-size="9" fill="#000" stroke="#000" stroke-width="0.06" textLength="58.4" lengthAdjust="spacingAndGlyphs">α-IgM (μg/mL)</text>
<text x="350.1" y="292.5" font-size="9.6" text-anchor="middle" fill="#000" stroke="#000" stroke-width="0.06" textLength="34.4" lengthAdjust="spacingAndGlyphs">p-BLNK</text>
<path d="M306.90 374.70 L311.81 370.84 L316.71 368.69 L326.52 361.40 L346.15 352.82 L385.40 342.10" fill="none" stroke="#000" stroke-width="1.8" stroke-linejoin="round"/>
<path d="M306.90 374.70 L311.81 369.55 L316.71 364.40 L326.52 360.54 L346.15 353.25 L385.40 340.38" fill="none" stroke="#000" stroke-width="1.6" stroke-linejoin="round"/>
<path d="M306.90 374.70 L311.81 370.41 L316.71 368.26 L326.52 360.97 L346.15 351.96 L385.40 340.81" fill="none" stroke="#000" stroke-width="1.8" stroke-linejoin="round"/>
<path d="M306.90 374.70 L316.71 357.11 L326.52 345.10 L346.15 327.94 L385.40 307.35" fill="none" stroke="#000" stroke-width="1.6" stroke-linejoin="round"/>
<path d="M346.15 348.53V357.11M343.65 348.53h5M343.65 357.11h5" stroke="#000" stroke-width="1.15" fill="none"/>
<path d="M385.40 338.66V345.53M382.90 338.66h5M382.90 345.53h5" stroke="#000" stroke-width="1.15" fill="none"/>
<path d="M346.15 349.82V354.11M343.65 349.82h5M343.65 354.11h5" stroke="#000" stroke-width="1.15" fill="none"/>
<path d="M385.40 338.66V342.95M382.90 338.66h5M382.90 342.95h5" stroke="#000" stroke-width="1.15" fill="none"/>
<path d="M316.71 352.82V361.40M314.21 352.82h5M314.21 361.40h5" stroke="#000" stroke-width="1.15" fill="none"/>
<path d="M326.52 338.66V351.53M324.02 338.66h5M324.02 351.53h5" stroke="#000" stroke-width="1.15" fill="none"/>
<path d="M346.15 315.93V339.95M343.65 315.93h5M343.65 339.95h5" stroke="#000" stroke-width="1.15" fill="none"/>
<path d="M385.40 296.62V318.07M382.90 296.62h5M382.90 318.07h5" stroke="#000" stroke-width="1.15" fill="none"/>
<path d="M304.50 372.70h4.8l-2.4 4.1z" fill="none" stroke="#000" stroke-width="1"/>
<path d="M309.41 368.84h4.8l-2.4 4.1z" fill="none" stroke="#000" stroke-width="1"/>
<path d="M314.31 366.69h4.8l-2.4 4.1z" fill="none" stroke="#000" stroke-width="1"/>
<path d="M324.12 359.40h4.8l-2.4 4.1z" fill="none" stroke="#000" stroke-width="1"/>
<path d="M343.75 350.82h4.8l-2.4 4.1z" fill="none" stroke="#000" stroke-width="1"/>
<path d="M383.00 340.10h4.8l-2.4 4.1z" fill="none" stroke="#000" stroke-width="1"/>
<path d="M304.30 372.50h5.2l-2.6 4.4z" fill="#5e9e4c"/>
<path d="M309.21 367.35h5.2l-2.6 4.4z" fill="#5e9e4c"/>
<path d="M314.11 362.20h5.2l-2.6 4.4z" fill="#5e9e4c"/>
<path d="M323.92 358.34h5.2l-2.6 4.4z" fill="#5e9e4c"/>
<path d="M343.55 351.05h5.2l-2.6 4.4z" fill="#5e9e4c"/>
<path d="M382.80 338.18h5.2l-2.6 4.4z" fill="#5e9e4c"/>
<circle cx="306.90" cy="374.70" r="2.3" fill="none" stroke="#000" stroke-width="1.3"/>
<circle cx="311.81" cy="370.41" r="2.3" fill="none" stroke="#000" stroke-width="1.3"/>
<circle cx="316.71" cy="368.26" r="2.3" fill="none" stroke="#000" stroke-width="1.3"/>
<circle cx="326.52" cy="360.97" r="2.3" fill="none" stroke="#000" stroke-width="1.3"/>
<circle cx="346.15" cy="351.96" r="2.3" fill="none" stroke="#000" stroke-width="1.3"/>
<circle cx="385.40" cy="340.81" r="2.3" fill="none" stroke="#000" stroke-width="1.3"/>
<circle cx="306.90" cy="374.70" r="3" fill="#a8153f"/>
<circle cx="316.71" cy="357.11" r="3" fill="#a8153f"/>
<circle cx="326.52" cy="345.10" r="3" fill="#a8153f"/>
<circle cx="346.15" cy="327.94" r="3" fill="#a8153f"/>
<circle cx="385.40" cy="307.35" r="3" fill="#a8153f"/>
<text transform="translate(284.3,266.5) rotate(-90)" font-size="9.2" text-anchor="middle" fill="#000" stroke="#000" stroke-width="0.08" textLength="204" lengthAdjust="spacingAndGlyphs">α-IgM-induced phosphorylation (relative to unstim)</text>
<circle cx="426.2" cy="316.4" r="2.7" fill="#a8153f"/>
<circle cx="426.2" cy="324.9" r="2.05" fill="#fff" stroke="#000" stroke-width="1.3"/>
<path d="M423.6 337.2h6.6l-3.3 4.9z" fill="#5e9e4c"/>
<path d="M424.1 346.8h5.6l-2.8 4.1z" fill="#fff" stroke="#000" stroke-width="1.1" stroke-linejoin="miter"/>
<text x="431.1" y="319" font-size="7.8" fill="#111"><tspan textLength="15.2" lengthAdjust="spacingAndGlyphs">GFP</tspan><tspan font-size="5" dy="-1">+</tspan></text>
<text x="431.1" y="328" font-size="7.8" fill="#111"><tspan textLength="15.2" lengthAdjust="spacingAndGlyphs">GFP</tspan><tspan font-size="5" dy="-1">-</tspan></text>
<text x="431.1" y="342" font-size="7.8" fill="#111"><tspan textLength="15.2" lengthAdjust="spacingAndGlyphs">GFP</tspan><tspan font-size="5" dy="-1">+</tspan></text>
<text x="431.1" y="350.6" font-size="7.8" fill="#111"><tspan textLength="15.2" lengthAdjust="spacingAndGlyphs">GFP</tspan><tspan font-size="5" dy="-1">-</tspan></text>
<rect x="453.5" y="311.9" width="1.6" height="15.2" fill="#000"/>
<rect x="453.5" y="336" width="1.6" height="15.3" fill="#000"/>
<text x="456.8" y="323.2" font-size="7.8" fill="#111" stroke="#111" stroke-width="0.08" textLength="43.2" lengthAdjust="spacingAndGlyphs">CD79B GFP</text>
<text x="456.8" y="346.2" font-size="7.8" fill="#111" stroke="#111" stroke-width="0.08" textLength="40.8" lengthAdjust="spacingAndGlyphs">GFP control</text>
</svg>
</body></html>
